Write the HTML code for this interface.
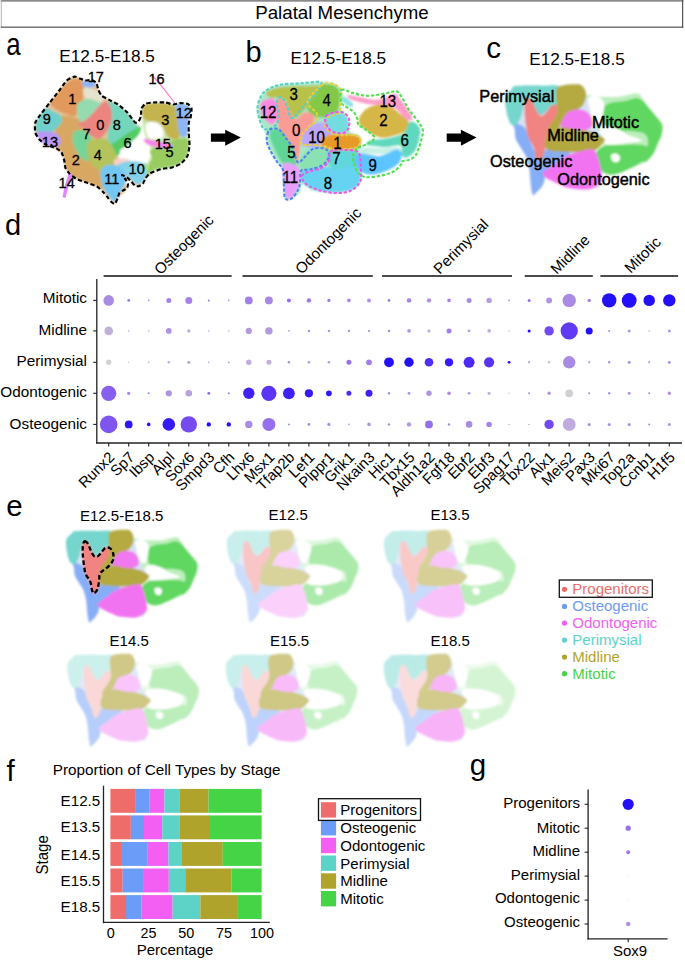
<!DOCTYPE html>
<html><head><meta charset="utf-8"><style>
html,body{margin:0;padding:0;background:#fff;}
svg{display:block;}
text{font-family:"Liberation Sans",sans-serif;}
</style></head><body>
<svg width="685" height="960" viewBox="0 0 685 960" font-family="Liberation Sans, sans-serif">
<rect x="0" y="0" width="685" height="960" fill="#fff"/>
<rect x="0.8" y="0" width="682.4" height="1.7" fill="#8a8a8a"/>
<rect x="0.8" y="0" width="0.9" height="27.6" fill="#a8a8a8"/>
<rect x="0.8" y="26.6" width="682.4" height="1.1" fill="#444"/>
<rect x="682.1" y="0" width="1.1" height="27.7" fill="#444"/>
<text x="342.0" y="19.2" font-size="18.7" text-anchor="middle" fill="#000" >Palatal Mesenchyme</text>
<text transform="translate(6.2,55.2) scale(0.85,1)" font-size="30.5" fill="#000">a</text>
<text x="245.6" y="62.0" font-size="29" text-anchor="start" fill="#000" >b</text>
<text x="486.2" y="58.3" font-size="29.5" text-anchor="start" fill="#000" >c</text>
<text x="5.0" y="235.0" font-size="29" text-anchor="start" fill="#000" >d</text>
<text x="6.2" y="516.1" font-size="29.5" text-anchor="start" fill="#000" >e</text>
<text x="6.6" y="780.7" font-size="29.5" text-anchor="start" fill="#000" >f</text>
<text x="469.8" y="774.5" font-size="29.5" text-anchor="start" fill="#000" >g</text>
<text x="59.3" y="61.5" font-size="17.2" text-anchor="start" fill="#000" >E12.5-E18.5</text>
<text x="290.5" y="64.2" font-size="17.2" text-anchor="start" fill="#000" >E12.5-E18.5</text>
<text x="529.2" y="65.2" font-size="17.2" text-anchor="start" fill="#000" >E12.5-E18.5</text>
<path d="M210.9,133.4 L225.2,133.4 L225.2,129.8 L240.9,137.6 L225.2,145.7 L225.2,141.8 L210.9,141.8 Z" fill="#000"/>
<path d="M446.7,133.4 L460.9,133.4 L460.9,129.8 L476.6,137.6 L460.9,145.7 L460.9,141.8 L446.7,141.8 Z" fill="#000"/>
<defs><filter id="bl" x="-5%" y="-5%" width="110%" height="110%"><feGaussianBlur stdDeviation="1.3"/></filter></defs>
<g filter="url(#bl)">
<path d="M58.9,91.0 C61.8,87.3 64.2,82.9 66.8,80.5 C69.4,78.1 71.6,76.6 74.7,76.6 C77.8,76.6 81.6,79.4 85.2,80.5 C88.8,81.6 94.2,81.6 96.4,83.1 C98.6,84.6 97.4,87.6 98.3,89.7 C99.2,91.8 99.8,93.9 101.6,95.6 C103.3,97.2 106.1,98.1 108.8,99.6 C111.5,101.1 114.9,102.4 117.9,104.5 C121.0,106.6 124.2,109.3 127.1,112.3 C129.9,115.3 132.8,119.8 135.0,122.4 C137.2,125.0 140.5,125.7 140.0,128.0 C139.5,130.3 134.7,133.0 132.0,136.0 C129.3,139.0 126.3,143.3 124.0,146.0 C121.7,148.7 118.5,149.7 118.0,152.0 C117.5,154.3 118.2,158.3 121.0,160.0 C123.8,161.7 130.2,161.2 135.0,162.0 C139.8,162.8 146.8,163.5 150.0,165.0 C153.2,166.5 154.8,168.8 154.0,171.0 C153.2,173.2 148.1,175.8 145.5,178.4 C142.9,181.0 140.8,185.7 138.5,186.3 C136.2,186.9 134.3,183.8 131.5,181.9 C128.7,180.0 122.6,173.9 121.9,174.9 C121.2,175.9 127.8,184.1 127.1,188.0 C126.4,191.9 119.5,195.9 117.5,198.5 C115.5,201.1 116.5,203.9 114.9,203.8 C113.3,203.7 110.9,200.6 107.9,197.7 C104.9,194.8 102.3,189.7 97.0,186.5 C91.7,183.3 81.2,181.7 76.0,178.6 C70.8,175.5 67.9,172.5 65.5,168.1 C63.1,163.7 64.8,156.2 61.5,152.3 C58.2,148.4 50.2,147.8 45.8,144.5 C41.4,141.2 37.0,136.2 35.3,132.6 C33.5,128.9 32.9,127.6 35.3,122.6 C37.7,117.6 45.8,108.1 49.7,102.8 C53.6,97.5 56.0,94.7 58.9,91.0Z" fill="#e2c49a"/>
<path d="M57.0,118.0 C59.2,114.7 64.2,115.7 68.0,116.0 C71.8,116.3 76.7,117.7 80.0,120.0 C83.3,122.3 86.0,126.3 88.0,130.0 C90.0,133.7 90.8,137.7 92.0,142.0 C93.2,146.3 93.7,151.7 95.0,156.0 C96.3,160.3 98.5,164.0 100.0,168.0 C101.5,172.0 103.5,176.5 104.0,180.0 C104.5,183.5 104.2,187.9 103.0,189.0 C101.8,190.1 99.8,187.6 97.0,186.5 C94.2,185.4 90.0,183.9 86.5,182.6 C83.0,181.3 78.8,180.1 76.0,178.6 C73.2,177.1 71.2,175.2 69.4,173.4 C67.7,171.7 66.4,170.3 65.5,168.1 C64.6,165.9 64.9,162.8 64.2,160.2 C63.5,157.6 62.8,154.3 61.5,152.3 C60.2,150.3 57.4,151.1 56.3,148.4 C55.2,145.7 54.9,141.1 55.0,136.0 C55.1,130.9 54.8,121.3 57.0,118.0Z" fill="#d8a864"/>
<path d="M35.5,124.0 C36.2,121.1 38.8,117.4 40.5,114.7 C42.2,112.0 43.9,108.6 46.0,108.0 C48.1,107.4 50.7,109.8 53.0,111.0 C55.3,112.2 58.5,113.3 60.0,115.0 C61.5,116.7 62.3,119.0 62.0,121.0 C61.7,123.0 59.7,125.2 58.0,127.0 C56.3,128.8 54.3,130.8 52.0,132.0 C49.7,133.2 46.6,134.0 44.0,134.0 C41.4,134.0 37.9,133.7 36.5,132.0 C35.1,130.3 34.8,126.9 35.5,124.0Z" fill="#70cfca"/>
<path d="M36.5,133.0 C36.8,131.2 41.1,131.6 44.0,131.5 C46.9,131.4 51.3,131.4 54.0,132.5 C56.7,133.6 59.2,135.8 60.0,138.0 C60.8,140.2 60.7,144.7 59.0,146.0 C57.3,147.3 52.8,146.6 50.0,146.0 C47.2,145.4 44.2,144.7 42.0,142.5 C39.8,140.3 36.2,134.8 36.5,133.0Z" fill="#b996f5"/>
<path d="M50.0,103.0 C49.7,100.8 53.2,99.3 55.0,97.0 C56.8,94.7 58.8,91.5 61.0,89.0 C63.2,86.5 65.7,83.8 68.0,82.0 C70.3,80.2 72.7,78.7 75.0,78.5 C77.3,78.3 80.5,79.1 82.0,81.0 C83.5,82.9 83.9,86.8 84.0,90.0 C84.1,93.2 83.2,97.0 82.5,100.0 C81.8,103.0 81.2,105.3 80.0,108.0 C78.8,110.7 77.3,115.0 75.0,116.0 C72.7,117.0 69.0,115.0 66.0,114.0 C63.0,113.0 59.7,111.8 57.0,110.0 C54.3,108.2 50.3,105.2 50.0,103.0Z" fill="#e29a5c"/>
<path d="M82.0,82.0 C82.7,81.0 86.0,80.5 88.0,80.5 C90.0,80.5 92.8,81.1 94.0,82.0 C95.2,82.9 96.3,85.1 95.5,86.0 C94.7,86.9 90.9,87.4 89.0,87.5 C87.1,87.6 85.2,87.4 84.0,86.5 C82.8,85.6 81.3,83.0 82.0,82.0Z" fill="#88b5ff"/>
<path d="M86.0,88.0 C86.7,87.7 90.3,88.4 92.0,89.0 C93.7,89.6 95.7,90.8 96.0,91.5 C96.3,92.2 95.3,93.1 94.0,93.0 C92.7,92.9 89.3,91.8 88.0,91.0 C86.7,90.2 85.3,88.3 86.0,88.0Z" fill="#73d992"/>
<path d="M84.0,88.0 C85.3,86.8 89.7,88.3 92.0,89.0 C94.3,89.7 96.0,90.5 98.0,92.0 C100.0,93.5 103.7,96.3 104.0,98.0 C104.3,99.7 102.3,101.7 100.0,102.0 C97.7,102.3 92.7,101.0 90.0,100.0 C87.3,99.0 85.0,98.0 84.0,96.0 C83.0,94.0 82.7,89.2 84.0,88.0Z" fill="#e6e2d0"/>
<path d="M78.0,104.0 C79.5,101.8 83.3,99.7 86.0,99.0 C88.7,98.3 91.7,99.3 94.0,100.0 C96.3,100.7 98.0,102.2 100.0,103.0 C102.0,103.8 105.3,103.2 106.0,105.0 C106.7,106.8 105.7,111.3 104.0,114.0 C102.3,116.7 98.7,119.3 96.0,121.0 C93.3,122.7 90.7,124.0 88.0,124.0 C85.3,124.0 81.8,123.0 80.0,121.0 C78.2,119.0 77.3,114.8 77.0,112.0 C76.7,109.2 76.5,106.2 78.0,104.0Z" fill="#94dcb0"/>
<path d="M74.0,132.0 C75.5,130.0 79.5,129.7 82.0,130.0 C84.5,130.3 87.0,132.0 89.0,134.0 C91.0,136.0 92.8,139.0 94.0,142.0 C95.2,145.0 96.3,149.2 96.0,152.0 C95.7,154.8 94.0,157.7 92.0,159.0 C90.0,160.3 86.5,161.2 84.0,160.0 C81.5,158.8 78.8,155.0 77.0,152.0 C75.2,149.0 73.5,145.3 73.0,142.0 C72.5,138.7 72.5,134.0 74.0,132.0Z" fill="#74d49a"/>
<path d="M107.0,101.0 C107.7,99.5 111.5,101.8 114.0,103.0 C116.5,104.2 119.3,105.8 122.0,108.0 C124.7,110.2 127.7,113.3 130.0,116.0 C132.3,118.7 134.3,121.8 136.0,124.0 C137.7,126.2 140.3,127.3 140.0,129.0 C139.7,130.7 136.7,132.2 134.0,134.0 C131.3,135.8 127.3,138.0 124.0,140.0 C120.7,142.0 116.7,145.7 114.0,146.0 C111.3,146.3 109.0,145.0 108.0,142.0 C107.0,139.0 107.7,133.0 108.0,128.0 C108.3,123.0 110.2,116.5 110.0,112.0 C109.8,107.5 106.3,102.5 107.0,101.0Z" fill="#74d6bc"/>
<path d="M106.7,101.5 C108.6,102.3 110.6,106.9 111.4,110.0 C112.2,113.1 112.3,116.5 111.6,120.0 C110.9,123.5 109.1,127.8 107.0,131.0 C104.9,134.2 101.7,138.2 99.0,139.0 C96.3,139.8 93.4,137.2 91.0,135.5 C88.6,133.8 86.8,130.4 84.5,128.5 C82.2,126.6 77.4,125.3 77.5,124.0 C77.6,122.7 82.4,122.3 85.0,120.5 C87.6,118.7 90.5,115.6 93.0,113.0 C95.5,110.4 97.7,106.9 100.0,105.0 C102.3,103.1 104.8,100.7 106.7,101.5Z" fill="#ec8480"/>
<path d="M110.0,146.0 C111.3,143.5 115.0,142.2 118.0,140.0 C121.0,137.8 125.0,134.9 128.0,133.0 C131.0,131.1 133.8,129.5 136.0,128.5 C138.2,127.5 140.5,126.1 141.0,127.0 C141.5,127.9 140.5,131.3 139.0,134.0 C137.5,136.7 134.5,140.2 132.0,143.0 C129.5,145.8 126.7,148.8 124.0,151.0 C121.3,153.2 118.3,155.3 116.0,156.0 C113.7,156.7 111.0,156.7 110.0,155.0 C109.0,153.3 108.7,148.5 110.0,146.0Z" fill="#52cc64"/>
<path d="M88.0,142.0 C89.5,139.8 93.0,139.5 96.0,139.0 C99.0,138.5 103.3,137.8 106.0,139.0 C108.7,140.2 110.3,143.3 112.0,146.0 C113.7,148.7 115.7,152.0 116.0,155.0 C116.3,158.0 115.7,161.5 114.0,164.0 C112.3,166.5 108.8,169.2 106.0,170.0 C103.2,170.8 99.7,170.3 97.0,169.0 C94.3,167.7 91.7,164.8 90.0,162.0 C88.3,159.2 87.3,155.3 87.0,152.0 C86.7,148.7 86.5,144.2 88.0,142.0Z" fill="#b6c25c"/>
<path d="M120.0,151.0 C120.7,148.3 125.3,147.2 128.0,145.0 C130.7,142.8 133.7,139.8 136.0,138.0 C138.3,136.2 140.3,133.3 142.0,134.0 C143.7,134.7 145.0,139.0 146.0,142.0 C147.0,145.0 148.0,148.7 148.0,152.0 C148.0,155.3 148.0,160.5 146.0,162.0 C144.0,163.5 139.7,161.2 136.0,161.0 C132.3,160.8 126.7,162.7 124.0,161.0 C121.3,159.3 119.3,153.7 120.0,151.0Z" fill="#ffffff"/>
<path d="M114.0,160.5 C115.0,159.4 119.3,158.6 122.0,158.5 C124.7,158.4 129.3,159.1 130.0,160.0 C130.7,160.9 128.3,163.2 126.0,164.0 C123.7,164.8 118.0,165.6 116.0,165.0 C114.0,164.4 113.0,161.6 114.0,160.5Z" fill="#fdcfcc"/>
<path d="M117.0,166.0 C117.0,164.2 121.2,162.8 124.0,162.0 C126.8,161.2 130.7,160.8 134.0,161.0 C137.3,161.2 141.0,162.2 144.0,163.0 C147.0,163.8 150.5,164.6 152.0,166.0 C153.5,167.4 153.8,170.0 153.0,171.5 C152.2,173.0 148.7,173.2 147.0,175.0 C145.3,176.8 144.7,180.5 143.0,182.0 C141.3,183.5 139.0,184.3 137.0,184.0 C135.0,183.7 133.2,181.8 131.0,180.0 C128.8,178.2 126.3,175.3 124.0,173.0 C121.7,170.7 117.0,167.8 117.0,166.0Z" fill="#86d2ea"/>
<path d="M101.0,170.0 C102.2,167.5 105.3,165.7 108.0,165.0 C110.7,164.3 114.3,164.8 117.0,166.0 C119.7,167.2 122.5,169.7 124.0,172.0 C125.5,174.3 126.3,177.2 126.0,180.0 C125.7,182.8 123.3,186.3 122.0,189.0 C120.7,191.7 119.2,193.8 118.0,196.0 C116.8,198.2 116.5,202.0 115.0,202.0 C113.5,202.0 110.8,198.2 109.0,196.0 C107.2,193.8 105.3,191.7 104.0,189.0 C102.7,186.3 101.5,183.2 101.0,180.0 C100.5,176.8 99.8,172.5 101.0,170.0Z" fill="#72c6f2"/>
<path d="M143.0,166.0 C143.7,164.5 149.5,163.3 152.0,163.0 C154.5,162.7 157.7,163.0 158.0,164.0 C158.3,165.0 155.7,167.7 154.0,169.0 C152.3,170.3 149.8,172.5 148.0,172.0 C146.2,171.5 142.3,167.5 143.0,166.0Z" fill="#a6d573"/>
<path d="M142.0,110.0 C142.5,106.3 144.2,105.2 146.0,104.0 C147.8,102.8 149.8,102.8 153.0,102.5 C156.2,102.2 161.7,102.2 165.0,102.5 C168.3,102.8 170.5,104.3 173.0,104.5 C175.5,104.7 177.6,103.6 180.0,103.5 C182.4,103.4 185.8,103.1 187.5,104.0 C189.2,104.9 190.2,106.7 190.5,109.0 C190.8,111.3 189.8,114.5 189.5,118.0 C189.2,121.5 188.6,125.5 188.5,130.0 C188.4,134.5 189.2,140.7 189.0,145.0 C188.8,149.3 188.3,152.9 187.0,156.0 C185.7,159.1 183.5,161.6 181.0,163.5 C178.5,165.4 175.2,166.6 172.0,167.5 C168.8,168.4 165.2,168.2 162.0,168.8 C158.8,169.4 155.5,170.0 153.0,171.0 C150.5,172.0 148.0,176.0 147.0,175.0 C146.0,174.0 146.3,168.3 147.0,165.0 C147.7,161.7 150.5,158.2 151.0,155.0 C151.5,151.8 150.8,148.8 150.0,146.0 C149.2,143.2 147.2,141.3 146.0,138.0 C144.8,134.7 143.7,130.7 143.0,126.0 C142.3,121.3 141.5,113.7 142.0,110.0Z" fill="#c7e4a6"/>
<path d="M143.0,107.0 C144.2,104.8 146.8,104.2 150.0,103.5 C153.2,102.8 158.3,102.8 162.0,103.0 C165.7,103.2 169.5,103.8 172.0,105.0 C174.5,106.2 175.8,107.5 177.0,110.0 C178.2,112.5 178.5,116.7 179.0,120.0 C179.5,123.3 180.0,127.0 180.0,130.0 C180.0,133.0 180.3,136.5 179.0,138.0 C177.7,139.5 174.2,139.7 172.0,139.0 C169.8,138.3 167.5,136.0 166.0,134.0 C164.5,132.0 164.5,129.0 163.0,127.0 C161.5,125.0 159.5,123.0 157.0,122.0 C154.5,121.0 150.3,121.8 148.0,121.0 C145.7,120.2 143.8,119.3 143.0,117.0 C142.2,114.7 141.8,109.2 143.0,107.0Z" fill="#c4b450"/>
<path d="M146.0,124.0 C147.0,122.5 149.8,122.0 152.0,122.0 C154.2,122.0 157.2,122.7 159.0,124.0 C160.8,125.3 162.3,127.8 163.0,130.0 C163.7,132.2 164.2,135.5 163.0,137.0 C161.8,138.5 158.3,138.8 156.0,139.0 C153.7,139.2 150.7,139.3 149.0,138.0 C147.3,136.7 146.5,133.3 146.0,131.0 C145.5,128.7 145.0,125.5 146.0,124.0Z" fill="#ffffff"/>
<path d="M176.0,105.0 C177.0,103.0 180.8,103.6 183.0,104.0 C185.2,104.4 188.4,105.5 189.5,107.5 C190.6,109.5 189.8,112.9 189.5,116.0 C189.2,119.1 188.4,122.8 188.0,126.0 C187.6,129.2 188.0,133.2 187.0,135.0 C186.0,136.8 183.4,137.8 182.0,137.0 C180.6,136.2 179.3,133.5 178.5,130.0 C177.7,126.5 177.4,120.2 177.0,116.0 C176.6,111.8 175.0,107.0 176.0,105.0Z" fill="#8cb6f6"/>
<path d="M150.0,151.0 C151.0,149.0 155.0,147.5 158.0,146.0 C161.0,144.5 164.7,143.2 168.0,142.0 C171.3,140.8 174.7,139.5 178.0,139.0 C181.3,138.5 186.2,137.5 188.0,139.0 C189.8,140.5 189.3,145.0 189.0,148.0 C188.7,151.0 187.5,154.5 186.0,157.0 C184.5,159.5 182.7,161.3 180.0,163.0 C177.3,164.7 173.3,166.1 170.0,167.0 C166.7,167.9 163.0,167.8 160.0,168.5 C157.0,169.2 154.2,169.9 152.0,171.0 C149.8,172.1 147.5,176.0 147.0,175.0 C146.5,174.0 148.2,167.8 149.0,165.0 C149.8,162.2 151.8,160.3 152.0,158.0 C152.2,155.7 149.0,153.0 150.0,151.0Z" fill="#98cc60"/>
<path d="M144.0,139.0 C144.9,138.5 148.5,139.6 151.0,140.0 C153.5,140.4 156.3,141.1 159.0,141.5 C161.7,141.9 164.8,141.9 167.0,142.5 C169.2,143.1 171.5,144.0 172.0,145.0 C172.5,146.0 171.8,148.1 170.0,148.5 C168.2,148.9 164.0,147.9 161.0,147.5 C158.0,147.1 154.6,146.8 152.0,146.0 C149.4,145.2 146.8,144.2 145.5,143.0 C144.2,141.8 143.1,139.5 144.0,139.0Z" fill="#f783e9"/>
</g>
<path d="M152,75 C158,82 165,90 171,98 L176,105" fill="none" stroke="#ff79cc" stroke-width="1.2"/>
<path d="M69,172 L72.5,174 L68,188 L65.5,198 L62.5,197 L64.5,187 Z" fill="#e087fc"/>
<path d="M66.8,80.5 C68.4,79.1 73.4,76.8 74.7,76.6 C76.0,76.4 78.9,78.1 79.9,78.5 C81.0,78.9 84.0,80.4 85.2,80.5 C86.4,80.6 90.7,79.6 91.8,79.9 C92.9,80.2 95.8,82.1 96.4,83.1 C97.1,84.1 97.8,88.5 98.3,89.7 C98.8,91.0 100.5,94.6 101.6,95.6 C102.6,96.6 107.2,98.7 108.8,99.6 C110.4,100.5 116.1,103.2 117.9,104.5 C119.7,105.8 125.4,110.5 127.1,112.3 C128.8,114.1 133.8,121.5 135.0,122.4 C136.2,123.3 138.0,121.8 138.6,121.2 C139.2,120.6 140.6,117.6 140.9,116.3 C141.2,115.0 141.0,109.7 141.5,108.4 C142.0,107.2 144.3,104.4 145.5,103.8 C146.7,103.2 151.4,102.6 153.4,102.5 C155.4,102.4 163.2,102.3 165.2,102.5 C167.2,102.7 171.7,104.4 173.1,104.5 C174.5,104.6 178.2,103.2 179.6,103.1 C181.0,103.0 186.3,103.3 187.5,103.8 C188.7,104.3 191.2,107.2 191.5,108.4 C191.8,109.7 191.1,114.9 190.8,116.3 C190.5,117.7 189.0,121.1 188.8,122.8 C188.6,124.5 188.7,131.2 188.8,133.4 C188.9,135.6 189.6,143.0 189.5,145.2 C189.4,147.4 188.3,153.9 187.5,155.7 C186.7,157.5 182.6,162.4 181.0,163.6 C179.4,164.8 173.6,167.0 171.8,167.5 C170.0,168.0 164.3,168.4 162.6,168.8 C160.8,169.2 155.7,170.9 154.3,171.4 C152.9,171.9 149.9,173.3 149.0,174.0 C148.1,174.7 146.1,177.4 145.5,178.4 C144.9,179.4 143.6,182.8 142.9,183.6 C142.2,184.4 139.3,186.1 138.5,186.3 C137.7,186.5 135.7,185.8 135.0,185.4 C134.3,185.0 132.3,182.7 131.5,181.9 C130.7,181.1 128.1,178.2 127.1,177.5 C126.1,176.8 122.1,174.7 121.9,174.9 C121.7,175.1 124.8,178.4 125.4,179.3 C126.0,180.2 127.8,182.7 128.0,183.6 C128.2,184.5 127.6,187.3 127.1,188.0 C126.6,188.7 123.6,190.1 122.8,190.6 C122.0,191.1 119.8,192.5 119.3,193.3 C118.8,194.1 117.9,197.4 117.5,198.5 C117.1,199.6 115.5,203.5 114.9,203.8 C114.3,204.2 112.1,202.6 111.4,202.0 C110.7,201.4 108.7,198.7 107.9,197.7 C107.1,196.7 104.6,193.5 103.5,192.4 C102.4,191.3 98.7,187.5 97.0,186.5 C95.3,185.5 88.6,183.4 86.5,182.6 C84.4,181.8 77.7,179.5 76.0,178.6 C74.3,177.7 70.5,174.5 69.4,173.4 C68.4,172.3 66.0,169.4 65.5,168.1 C65.0,166.8 64.6,161.8 64.2,160.2 C63.8,158.6 62.3,153.5 61.5,152.3 C60.7,151.1 57.9,149.2 56.3,148.4 C54.7,147.6 47.5,145.4 45.8,144.5 C44.1,143.6 40.2,140.4 39.2,139.2 C38.2,138.0 35.7,134.3 35.3,132.6 C34.9,130.9 34.8,124.4 35.3,122.6 C35.8,120.8 39.1,116.7 40.5,114.7 C41.9,112.7 47.9,105.2 49.7,102.8 C51.5,100.4 57.2,93.2 58.9,91.0 C60.6,88.8 65.2,81.9 66.8,80.5Z" fill="none" stroke="#000" stroke-width="2.15" stroke-dasharray="4.2 2.5"/>
<text transform="translate(95.8,81.7) scale(0.95,1)" font-size="15.3" text-anchor="middle" stroke="#000" stroke-width="0.3">17</text>
<text transform="translate(156.6,84.2) scale(0.95,1)" font-size="15.3" text-anchor="middle" stroke="#000" stroke-width="0.3">16</text>
<text transform="translate(72.2,104.0) scale(0.95,1)" font-size="15.3" text-anchor="middle" stroke="#000" stroke-width="0.3">1</text>
<text transform="translate(46.9,124.4) scale(0.95,1)" font-size="15.3" text-anchor="middle" stroke="#000" stroke-width="0.3">9</text>
<text transform="translate(100.2,129.8) scale(0.95,1)" font-size="15.3" text-anchor="middle" stroke="#000" stroke-width="0.3">0</text>
<text transform="translate(116.8,129.8) scale(0.95,1)" font-size="15.3" text-anchor="middle" stroke="#000" stroke-width="0.3">8</text>
<text transform="translate(165.2,125.1) scale(0.95,1)" font-size="15.3" text-anchor="middle" stroke="#000" stroke-width="0.3">3</text>
<text transform="translate(183.8,117.7) scale(0.95,1)" font-size="15.3" text-anchor="middle" stroke="#000" stroke-width="0.3">12</text>
<text transform="translate(86.6,138.8) scale(0.95,1)" font-size="15.3" text-anchor="middle" stroke="#000" stroke-width="0.3">7</text>
<text transform="translate(49.9,146.7) scale(0.95,1)" font-size="15.3" text-anchor="middle" stroke="#000" stroke-width="0.3">13</text>
<text transform="translate(127.5,147.5) scale(0.95,1)" font-size="15.3" text-anchor="middle" stroke="#000" stroke-width="0.3">6</text>
<text transform="translate(162.8,148.7) scale(0.95,1)" font-size="15.3" text-anchor="middle" stroke="#000" stroke-width="0.3">15</text>
<text transform="translate(169.5,156.6) scale(0.95,1)" font-size="15.3" text-anchor="middle" stroke="#000" stroke-width="0.3">5</text>
<text transform="translate(97.7,160.4) scale(0.95,1)" font-size="15.3" text-anchor="middle" stroke="#000" stroke-width="0.3">4</text>
<text transform="translate(75.9,165.3) scale(0.95,1)" font-size="15.3" text-anchor="middle" stroke="#000" stroke-width="0.3">2</text>
<text transform="translate(136.7,174.0) scale(0.95,1)" font-size="15.3" text-anchor="middle" stroke="#000" stroke-width="0.3">10</text>
<text transform="translate(111.9,183.9) scale(0.95,1)" font-size="15.3" text-anchor="middle" stroke="#000" stroke-width="0.3">11</text>
<text transform="translate(66.7,188.4) scale(0.95,1)" font-size="15.3" text-anchor="middle" stroke="#000" stroke-width="0.3">14</text>
<g filter="url(#bl)">
<path d="M261.6,95.1 C263.6,92.0 266.2,90.2 269.5,88.5 C272.8,86.8 276.1,85.5 281.3,84.6 C286.6,83.7 294.6,83.8 301.0,83.3 C307.4,82.8 314.4,82.0 319.4,81.9 C324.4,81.9 327.7,82.2 331.0,83.0 C334.3,83.8 337.2,84.8 339.0,87.0 C340.8,89.2 341.2,92.5 341.5,96.0 C341.8,99.5 339.8,105.0 340.5,108.0 C341.2,111.0 344.6,111.3 346.0,114.0 C347.4,116.7 348.3,121.0 349.0,124.0 C349.7,127.0 348.2,130.0 350.0,132.0 C351.8,134.0 358.2,133.7 360.0,136.0 C361.8,138.3 361.0,142.3 361.0,146.0 C361.0,149.7 360.0,153.0 360.0,158.0 C360.0,163.0 361.7,171.2 361.0,176.0 C360.3,180.8 358.7,184.3 356.0,187.0 C353.3,189.7 349.3,191.0 345.0,192.0 C340.7,193.0 335.5,193.3 330.0,193.0 C324.5,192.7 316.7,191.5 312.0,190.0 C307.3,188.5 304.0,183.7 302.0,184.0 C300.0,184.3 301.7,189.6 300.0,192.0 C298.3,194.4 294.5,197.4 292.0,198.5 C289.5,199.6 286.4,200.8 285.0,198.5 C283.6,196.2 283.8,189.8 283.5,185.0 C283.2,180.2 284.2,174.2 283.0,170.0 C281.8,165.8 278.5,164.0 276.0,160.0 C273.5,156.0 269.7,150.3 268.0,146.0 C266.3,141.7 267.5,138.7 266.0,134.0 C264.5,129.3 260.4,122.5 259.0,118.0 C257.6,113.5 257.2,110.7 257.6,106.9 C258.0,103.1 259.6,98.2 261.6,95.1Z" fill="#a6e8c4"/>
<path d="M266.8,95.1 C266.2,94.0 265.1,92.4 267.5,91.1 C269.9,89.8 274.6,88.1 281.3,87.2 C288.0,86.3 301.0,86.0 307.6,85.9 C314.2,85.8 319.0,85.0 320.7,86.5 C322.4,88.0 319.8,92.3 318.0,95.1 C316.2,97.8 312.8,100.2 310.2,103.0 C307.6,105.8 304.9,109.8 302.3,112.2 C299.7,114.6 296.6,117.6 294.4,117.4 C292.2,117.2 290.7,113.7 289.2,110.8 C287.7,107.9 287.2,102.5 285.2,100.3 C283.2,98.1 279.7,98.1 277.3,97.7 C274.9,97.3 272.6,98.1 270.8,97.7 C269.1,97.3 267.4,96.2 266.8,95.1Z" fill="#b8c24c"/>
<path d="M260.9,103.0 C261.8,101.4 263.4,100.4 265.5,99.7 C267.6,99.0 271.3,97.8 273.4,99.0 C275.5,100.2 277.4,103.8 278.0,106.9 C278.6,110.0 278.1,114.6 277.3,117.4 C276.5,120.2 274.9,123.1 273.4,124.0 C271.9,124.9 269.9,124.0 268.1,122.7 C266.4,121.4 264.2,118.3 262.9,116.1 C261.6,113.9 260.6,111.7 260.3,109.5 C260.0,107.3 260.0,104.6 260.9,103.0Z" fill="#fc88e1"/>
<path d="M320.7,85.2 C323.1,83.7 328.3,84.0 331.2,84.6 C334.1,85.1 336.4,86.8 337.8,88.5 C339.2,90.2 339.5,92.0 339.7,95.1 C339.9,98.2 340.1,103.6 339.1,106.9 C338.1,110.2 336.4,113.0 333.8,114.8 C331.2,116.5 326.6,117.2 323.3,117.4 C320.0,117.6 316.7,117.4 314.1,116.1 C311.5,114.8 308.2,111.9 307.6,109.5 C307.0,107.1 308.7,104.2 310.2,101.6 C311.7,99.0 315.1,96.5 316.8,93.8 C318.6,91.1 318.3,86.7 320.7,85.2Z" fill="#83c947"/>
<path d="M325.0,116.0 C326.6,114.7 330.8,113.2 334.0,113.0 C337.2,112.8 341.6,113.7 344.0,115.0 C346.4,116.3 347.8,118.7 348.5,121.0 C349.2,123.3 349.1,127.0 348.0,129.0 C346.9,131.0 344.7,132.3 342.0,133.0 C339.3,133.7 334.7,133.8 332.0,133.0 C329.3,132.2 327.2,130.0 326.0,128.0 C324.8,126.0 324.7,123.0 324.5,121.0 C324.3,119.0 323.4,117.3 325.0,116.0Z" fill="#73dcdf"/>
<path d="M278.0,99.0 C279.3,95.7 283.1,99.4 285.2,101.6 C287.3,103.8 288.8,109.3 290.5,112.2 C292.2,115.1 293.3,118.7 295.7,118.7 C298.1,118.7 302.0,112.9 304.9,112.2 C307.8,111.5 311.3,113.3 312.8,114.8 C314.3,116.3 315.4,118.3 314.1,121.4 C312.8,124.5 307.1,130.1 304.9,133.2 C302.7,136.3 301.9,136.7 301.0,139.8 C300.1,142.9 300.3,147.8 299.7,151.6 C299.1,155.4 298.6,160.8 297.5,162.5 C296.4,164.2 294.9,164.8 293.1,162.1 C291.3,159.4 288.5,151.1 286.5,146.3 C284.5,141.5 282.8,137.3 281.3,133.2 C279.8,129.0 277.9,127.1 277.3,121.4 C276.8,115.7 276.7,102.3 278.0,99.0Z" fill="#fa9c96"/>
<path d="M270.8,130.6 C272.3,129.5 276.0,128.1 278.6,129.2 C281.2,130.3 284.1,133.8 286.5,137.1 C288.9,140.4 291.6,145.3 293.1,149.0 C294.6,152.7 295.2,156.3 295.7,159.5 C296.2,162.7 297.4,166.6 296.0,168.0 C294.6,169.4 289.7,169.4 287.0,168.0 C284.3,166.6 282.3,163.1 280.0,159.5 C277.7,155.9 275.1,150.2 273.4,146.3 C271.6,142.4 269.9,138.4 269.5,135.8 C269.1,133.2 269.3,131.7 270.8,130.6Z" fill="#61d596"/>
<path d="M302.3,138.4 C303.2,135.8 305.2,131.8 307.6,129.2 C310.0,126.6 313.7,123.6 316.8,122.7 C319.9,121.8 323.6,122.2 326.0,124.0 C328.4,125.8 330.8,129.9 331.2,133.2 C331.6,136.5 330.4,141.3 328.6,143.7 C326.9,146.1 323.8,146.9 320.7,147.6 C317.6,148.2 313.3,148.0 310.2,147.6 C307.1,147.2 303.6,146.5 302.3,145.0 C301.0,143.5 301.4,141.0 302.3,138.4Z" fill="#bca7ff"/>
<path d="M322.0,138.0 C323.5,136.8 326.7,135.2 330.0,134.5 C333.3,133.8 338.3,134.0 342.0,134.0 C345.7,134.0 349.2,134.0 352.0,134.5 C354.8,135.0 357.5,135.8 359.0,137.0 C360.5,138.2 361.3,140.2 361.0,142.0 C360.7,143.8 359.5,146.7 357.0,148.0 C354.5,149.3 350.2,149.7 346.0,150.0 C341.8,150.3 335.8,150.5 332.0,150.0 C328.2,149.5 324.8,148.3 323.0,147.0 C321.2,145.7 321.2,143.5 321.0,142.0 C320.8,140.5 320.5,139.2 322.0,138.0Z" fill="#e79b26"/>
<path d="M301.0,158.0 C302.2,155.7 303.8,152.6 306.0,151.0 C308.2,149.4 311.0,148.8 314.0,148.5 C317.0,148.2 321.5,148.2 324.0,149.0 C326.5,149.8 328.3,151.2 329.0,153.0 C329.7,154.8 329.2,157.8 328.0,160.0 C326.8,162.2 324.7,164.4 322.0,166.0 C319.3,167.6 315.2,168.8 312.0,169.5 C308.8,170.2 305.2,170.8 303.0,170.0 C300.8,169.2 299.3,167.0 299.0,165.0 C298.7,163.0 299.8,160.3 301.0,158.0Z" fill="#8ce1b3"/>
<path d="M328.0,152.0 C329.3,149.8 332.7,150.2 336.0,150.0 C339.3,149.8 344.3,150.2 348.0,150.5 C351.7,150.8 356.0,150.4 358.0,152.0 C360.0,153.6 360.3,157.5 360.0,160.0 C359.7,162.5 358.3,165.2 356.0,167.0 C353.7,168.8 349.7,170.5 346.0,171.0 C342.3,171.5 337.0,171.3 334.0,170.0 C331.0,168.7 329.0,166.0 328.0,163.0 C327.0,160.0 326.7,154.2 328.0,152.0Z" fill="#61d7da"/>
<path d="M283.0,164.0 C284.5,162.3 289.3,163.3 292.0,164.0 C294.7,164.7 297.7,165.7 299.0,168.0 C300.3,170.3 300.2,174.7 300.0,178.0 C299.8,181.3 299.3,184.8 298.0,188.0 C296.7,191.2 294.0,195.9 292.0,197.5 C290.0,199.1 287.3,199.2 286.0,197.5 C284.7,195.8 284.5,190.9 284.0,187.0 C283.5,183.1 283.2,177.8 283.0,174.0 C282.8,170.2 281.5,165.7 283.0,164.0Z" fill="#e99efa"/>
<path d="M301.0,172.0 C302.3,169.8 307.2,169.8 311.0,169.0 C314.8,168.2 319.5,167.0 324.0,167.0 C328.5,167.0 333.7,169.0 338.0,169.0 C342.3,169.0 346.5,166.8 350.0,167.0 C353.5,167.2 357.2,167.8 359.0,170.0 C360.8,172.2 361.2,177.0 360.5,180.0 C359.8,183.0 357.8,186.1 355.0,188.0 C352.2,189.9 348.5,190.8 344.0,191.5 C339.5,192.2 333.2,192.4 328.0,192.0 C322.8,191.6 317.2,190.7 313.0,189.0 C308.8,187.3 305.0,184.8 303.0,182.0 C301.0,179.2 299.7,174.2 301.0,172.0Z" fill="#66d3f3"/>
<path d="M341.5,96.0 C342.4,95.5 345.1,96.7 347.0,98.0 C348.9,99.3 352.3,102.5 353.0,104.0 C353.7,105.5 352.3,107.0 351.0,107.0 C349.7,107.0 346.6,105.0 345.0,104.0 C343.4,103.0 342.1,102.3 341.5,101.0 C340.9,99.7 340.6,96.5 341.5,96.0Z" fill="#8ce2e4"/>
<path d="M347.9,95.1 C349.6,94.9 355.5,96.3 359.7,97.1 C363.9,97.9 368.9,99.5 372.8,99.7 C376.8,99.9 379.7,99.4 383.4,98.4 C387.1,97.4 392.4,93.6 395.2,93.8 C398.0,94.0 398.2,97.0 400.4,99.7 C402.6,102.4 406.3,106.9 408.3,110.2 C410.3,113.5 412.7,117.9 412.3,119.4 C411.9,120.9 408.1,120.9 405.7,119.4 C403.3,117.9 400.4,112.4 397.8,110.2 C395.2,108.0 393.0,107.2 389.9,106.3 C386.8,105.4 383.3,105.4 379.4,105.0 C375.5,104.6 370.2,104.4 366.3,103.7 C362.4,103.0 358.7,101.9 355.8,101.0 C352.9,100.1 350.5,99.4 349.2,98.4 C347.9,97.4 346.1,95.3 347.9,95.1Z" fill="#ff9cc6"/>
<path d="M359.7,116.8 C360.8,114.2 363.4,110.9 366.3,108.9 C369.2,106.9 372.9,105.4 376.8,105.0 C380.7,104.6 386.0,104.8 389.9,106.3 C393.8,107.8 397.1,111.3 400.4,114.2 C403.7,117.1 408.7,120.6 409.6,123.4 C410.5,126.2 408.1,129.2 405.7,131.2 C403.3,133.2 398.9,134.1 395.2,135.2 C391.5,136.3 386.9,137.8 383.4,137.8 C379.9,137.8 377.0,136.5 374.2,135.2 C371.4,133.9 368.7,131.7 366.3,129.9 C363.9,128.2 360.8,126.9 359.7,124.7 C358.6,122.5 358.6,119.4 359.7,116.8Z" fill="#d5b647"/>
<path d="M409.6,122.0 C411.6,120.5 414.4,122.1 416.2,123.4 C417.9,124.7 419.7,127.1 420.1,129.9 C420.5,132.7 419.7,136.9 418.8,140.4 C417.9,143.9 416.9,148.2 414.9,151.0 C412.9,153.8 409.2,156.8 407.0,157.5 C404.8,158.2 402.9,156.9 401.8,154.9 C400.7,152.9 403.0,147.0 400.4,145.7 C397.8,144.4 390.6,147.0 386.0,147.0 C381.4,147.0 376.1,146.1 372.8,145.7 C369.5,145.3 366.7,145.3 366.3,144.4 C365.9,143.5 367.4,141.3 370.2,140.4 C373.0,139.5 379.2,139.8 383.4,139.1 C387.6,138.4 391.7,137.6 395.2,136.5 C398.7,135.4 402.0,135.0 404.4,132.6 C406.8,130.2 407.6,123.5 409.6,122.0Z" fill="#61d8bd"/>
<path d="M358.0,150.0 C359.0,148.8 362.3,147.3 366.0,147.0 C369.7,146.7 375.0,148.0 380.0,148.0 C385.0,148.0 392.3,146.7 396.0,147.0 C399.7,147.3 401.5,149.0 402.0,150.0 C402.5,151.0 401.7,152.3 399.0,153.0 C396.3,153.7 390.8,153.8 386.0,154.0 C381.2,154.2 374.3,154.0 370.0,154.0 C365.7,154.0 362.0,154.7 360.0,154.0 C358.0,153.3 357.0,151.2 358.0,150.0Z" fill="#c7f1e7"/>
<path d="M354.5,157.5 C355.6,155.8 358.4,154.0 361.0,153.6 C363.6,153.2 367.1,154.5 370.2,154.9 C373.3,155.3 376.5,156.4 379.4,156.2 C382.2,156.0 384.4,154.7 387.3,153.6 C390.2,152.5 394.1,149.6 396.5,149.6 C398.9,149.6 401.4,151.4 401.8,153.6 C402.2,155.8 401.1,160.2 399.1,162.8 C397.1,165.4 393.2,167.6 389.9,169.3 C386.6,171.1 382.9,172.4 379.4,173.3 C375.9,174.2 372.2,175.0 368.9,174.6 C365.6,174.2 362.1,172.4 359.7,170.7 C357.3,168.9 355.4,166.3 354.5,164.1 C353.6,161.9 353.4,159.2 354.5,157.5Z" fill="#5dc4ff"/>
</g>
<path d="M262.9,127.9 C261.6,125.9 259.9,120.9 259.0,117.4 C258.1,113.9 257.2,110.6 257.6,106.9 C258.0,103.2 259.6,98.2 261.6,95.1 C263.6,92.0 266.2,90.2 269.5,88.5 C272.8,86.8 276.1,85.5 281.3,84.6 C286.6,83.7 294.6,83.8 301.0,83.3 C307.4,82.8 316.1,81.5 319.4,81.9 C322.7,82.3 321.4,83.9 320.7,85.9 C320.0,87.9 317.6,91.2 315.4,93.8 C313.2,96.4 310.0,99.0 307.6,101.6 C305.2,104.2 303.0,107.1 301.0,109.5 C299.0,111.9 297.4,114.8 295.7,116.1 C293.9,117.4 291.8,118.7 290.5,117.4 C289.2,116.1 289.0,111.3 287.8,108.2 C286.6,105.1 284.7,100.8 283.2,99.0 C281.7,97.2 279.7,96.8 278.6,97.7 C277.5,98.6 276.7,101.9 276.7,104.3 C276.7,106.7 278.5,109.1 278.6,112.2 C278.7,115.3 278.4,120.1 277.3,122.7 C276.2,125.3 273.9,126.8 272.1,127.9 C270.4,129.0 268.3,129.2 266.8,129.2 C265.3,129.2 264.2,129.9 262.9,127.9Z" fill="none" stroke="#58cfc6" stroke-width="2.1" stroke-dasharray="3.3 1.8"/>
<path d="M320.7,85.9 C322.0,85.0 323.6,83.5 326.0,83.3 C328.4,83.1 332.6,83.3 335.1,84.6 C337.6,85.9 340.2,87.8 341.1,91.1 C342.0,94.4 340.7,100.8 340.4,104.3 C340.1,107.8 340.6,110.2 339.1,112.2 C337.6,114.2 333.4,115.0 331.2,116.1 C329.0,117.2 327.1,117.2 326.0,118.7 C324.9,120.2 324.2,123.3 324.6,125.3 C325.0,127.3 326.6,129.1 328.6,130.6 C330.6,132.1 333.8,133.7 336.5,134.5 C339.2,135.3 341.8,135.2 345.0,135.3 C348.2,135.5 353.4,134.6 356.0,135.4 C358.6,136.2 360.2,138.0 360.4,140.0 C360.6,142.0 359.6,146.0 357.0,147.5 C354.4,149.0 348.9,148.8 345.0,149.0 C341.1,149.2 337.2,149.4 333.8,149.0 C330.4,148.6 327.7,147.0 324.6,146.3 C321.5,145.6 318.2,145.2 315.4,145.0 C312.6,144.8 310.0,145.2 307.6,145.0 C305.2,144.8 302.1,145.2 301.0,143.7 C299.9,142.2 299.9,138.4 301.0,135.8 C302.1,133.2 305.2,130.3 307.6,127.9 C310.0,125.5 313.9,123.8 315.4,121.4 C316.9,119.0 317.7,115.9 316.8,113.5 C315.9,111.1 311.7,108.9 310.2,106.9 C308.7,104.9 307.2,103.8 307.6,101.6 C308.0,99.4 311.1,96.0 312.8,93.8 C314.5,91.6 316.7,89.8 318.0,88.5 C319.3,87.2 319.4,86.8 320.7,85.9Z" fill="none" stroke="#e6d040" stroke-width="2.1" stroke-dasharray="3.3 1.8"/>
<path d="M268.1,131.9 C267.4,133.9 266.4,137.8 266.8,141.1 C267.2,144.4 269.1,148.1 270.8,151.6 C272.6,155.1 275.3,159.0 277.3,162.1 C279.3,165.2 281.9,166.2 283.0,170.0 C284.1,173.8 283.5,180.5 283.9,185.2 C284.3,189.9 283.9,196.1 285.2,198.3 C286.5,200.5 289.6,199.8 291.8,198.3 C294.0,196.8 297.0,192.2 298.4,189.1 C299.8,186.0 299.9,183.0 300.3,179.9 C300.7,176.8 299.4,172.4 301.0,170.7 C302.6,168.9 306.7,170.3 310.2,169.4 C313.7,168.5 318.9,167.4 322.0,165.5 C325.1,163.6 327.6,160.3 328.6,158.0 C329.6,155.7 329.1,153.2 328.2,151.6 C327.3,150.0 325.9,148.7 323.3,148.3 C320.7,147.9 315.9,147.6 312.8,149.0 C309.7,150.4 307.3,154.5 304.9,156.8 C302.5,159.1 300.1,163.0 298.4,162.6 C296.6,162.2 295.5,156.9 294.4,154.2 C293.3,151.5 293.3,149.2 291.8,146.3 C290.3,143.5 287.4,139.9 285.2,137.1 C283.0,134.2 281.0,130.5 278.6,129.2 C276.2,127.9 272.6,128.8 270.8,129.2 C269.1,129.6 268.8,129.9 268.1,131.9Z" fill="none" stroke="#4d84f0" stroke-width="2.1" stroke-dasharray="3.3 1.8"/>
<path d="M301.5,176.0 C302.2,174.5 304.4,173.3 307.6,172.0 C310.8,170.7 317.2,169.8 320.7,168.1 C324.2,166.3 327.1,164.1 328.6,161.5 C330.2,158.9 328.7,154.3 330.0,152.3 C331.3,150.3 333.8,150.1 336.5,149.7 C339.2,149.3 342.8,149.8 346.0,150.0 C349.2,150.2 353.7,150.0 356.0,151.0 C358.3,152.0 359.2,152.8 360.0,156.0 C360.8,159.2 361.0,165.7 361.0,170.0 C361.0,174.3 361.8,178.5 360.0,182.0 C358.2,185.5 354.0,189.2 350.0,191.0 C346.0,192.8 341.0,193.1 336.0,193.0 C331.0,192.9 324.5,191.7 320.0,190.5 C315.5,189.3 311.7,187.6 309.0,186.0 C306.3,184.4 304.9,182.9 303.6,181.2 C302.4,179.5 300.8,177.5 301.5,176.0Z" fill="none" stroke="#f256e8" stroke-width="2.1" stroke-dasharray="3.3 1.8"/>
<path d="M326.0,116.0 C327.4,114.4 331.2,113.1 334.0,112.5 C336.8,111.9 340.6,111.6 343.0,112.5 C345.4,113.4 347.5,115.8 348.5,118.0 C349.5,120.2 349.5,123.7 349.0,126.0 C348.5,128.3 347.5,130.8 345.5,132.0 C343.5,133.2 339.7,133.4 337.0,133.0 C334.3,132.6 331.4,131.3 329.5,129.5 C327.6,127.7 326.1,124.2 325.5,122.0 C324.9,119.8 324.6,117.6 326.0,116.0Z" fill="none" stroke="#f256e8" stroke-width="2.1" stroke-dasharray="3.3 1.8"/>
<path d="M341.3,89.9 C343.3,88.4 348.9,92.1 353.1,93.1 C357.3,94.1 361.9,95.6 366.3,95.8 C370.7,96.0 375.5,95.0 379.4,94.5 C383.3,94.0 387.0,93.0 389.9,92.5 C392.8,92.0 394.5,90.4 396.5,91.2 C398.5,92.0 399.8,94.1 401.8,97.1 C403.8,100.0 405.7,105.0 408.3,108.9 C410.9,112.8 415.1,117.2 417.5,120.7 C419.9,124.2 422.1,126.8 422.8,129.9 C423.5,133.0 422.2,136.0 421.5,139.1 C420.8,142.2 419.9,145.5 418.8,148.3 C417.7,151.2 416.6,154.2 414.9,156.2 C413.1,158.2 410.5,159.2 408.3,160.1 C406.1,161.0 403.1,160.6 401.8,161.5 C400.5,162.4 401.9,163.7 400.4,165.4 C398.9,167.2 396.1,170.2 392.6,172.0 C389.1,173.8 383.8,175.0 379.4,175.9 C375.0,176.8 369.8,177.6 366.3,177.2 C362.8,176.8 360.4,175.3 358.4,173.3 C356.4,171.3 355.4,168.2 354.5,165.4 C353.6,162.6 352.7,159.0 353.1,156.2 C353.5,153.3 354.9,150.3 357.1,148.3 C359.3,146.3 363.7,145.7 366.3,144.4 C368.9,143.1 371.5,141.7 372.8,140.4 C374.1,139.1 375.3,138.2 374.2,136.5 C373.1,134.8 368.9,131.9 366.3,129.9 C363.7,127.9 359.9,126.7 358.4,124.7 C356.9,122.7 358.0,120.3 357.1,118.1 C356.2,115.9 355.1,113.5 353.1,111.5 C351.1,109.5 347.3,107.8 345.3,106.3 C343.3,104.8 342.0,105.0 341.3,102.3 C340.6,99.6 339.3,91.4 341.3,89.9Z" fill="none" stroke="#52e052" stroke-width="2.1" stroke-dasharray="3.3 1.8"/>
<text transform="translate(293.8,99.8) scale(0.93,1)" font-size="16.2" text-anchor="middle" stroke="#000" stroke-width="0.3">3</text>
<text transform="translate(326.7,105.8) scale(0.93,1)" font-size="16.2" text-anchor="middle" stroke="#000" stroke-width="0.3">4</text>
<text transform="translate(387.8,107.2) scale(0.93,1)" font-size="16.2" text-anchor="middle" stroke="#000" stroke-width="0.3">13</text>
<text transform="translate(268.0,117.6) scale(0.93,1)" font-size="16.2" text-anchor="middle" stroke="#000" stroke-width="0.3">12</text>
<text transform="translate(383.5,126.0) scale(0.93,1)" font-size="16.2" text-anchor="middle" stroke="#000" stroke-width="0.3">2</text>
<text transform="translate(296.2,136.1) scale(0.93,1)" font-size="16.2" text-anchor="middle" stroke="#000" stroke-width="0.3">0</text>
<text transform="translate(316.6,142.8) scale(0.93,1)" font-size="16.2" text-anchor="middle" stroke="#000" stroke-width="0.3">10</text>
<text transform="translate(404.6,146.1) scale(0.93,1)" font-size="16.2" text-anchor="middle" stroke="#000" stroke-width="0.3">6</text>
<text transform="translate(337.5,148.8) scale(0.93,1)" font-size="16.2" text-anchor="middle" stroke="#000" stroke-width="0.3">1</text>
<text transform="translate(291.5,157.9) scale(0.93,1)" font-size="16.2" text-anchor="middle" stroke="#000" stroke-width="0.3">5</text>
<text transform="translate(336.4,163.6) scale(0.93,1)" font-size="16.2" text-anchor="middle" stroke="#000" stroke-width="0.3">7</text>
<text transform="translate(372.7,171.3) scale(0.93,1)" font-size="16.2" text-anchor="middle" stroke="#000" stroke-width="0.3">9</text>
<text transform="translate(290.4,182.7) scale(0.93,1)" font-size="16.2" text-anchor="middle" stroke="#000" stroke-width="0.3">11</text>
<text transform="translate(328.0,189.1) scale(0.93,1)" font-size="16.2" text-anchor="middle" stroke="#000" stroke-width="0.3">8</text>
<g filter="url(#bl)">
<path d="M583.8,95.4 C585.6,93.2 592.0,96.6 597.8,96.8 C603.6,97.0 612.2,97.4 618.7,96.8 C625.2,96.2 632.8,93.1 636.8,93.3 C640.8,93.5 640.5,96.0 642.4,98.2 C644.3,100.4 645.7,103.6 648.0,106.6 C650.3,109.6 653.9,113.3 656.4,116.3 C658.9,119.3 661.8,121.7 662.7,124.7 C663.6,127.7 662.8,131.2 662.0,134.5 C661.2,137.8 659.2,141.0 657.8,144.3 C656.4,147.6 655.6,151.1 653.5,154.1 C651.4,157.1 648.8,160.0 645.1,162.3 C641.4,164.6 635.7,166.1 631.3,168.0 C626.9,169.9 622.2,172.4 618.7,173.6 C615.2,174.8 613.1,175.2 610.3,175.0 C607.5,174.8 604.3,173.8 602.0,172.2 C599.7,170.6 597.7,167.8 596.3,165.2 C594.9,162.6 593.4,159.1 593.6,156.8 C593.9,154.5 596.2,153.1 597.8,151.2 C599.4,149.3 603.1,148.1 603.3,145.6 C603.5,143.1 600.9,139.6 599.0,136.0 C597.1,132.4 594.0,128.3 592.0,124.0 C590.0,119.7 588.4,114.8 587.0,110.0 C585.6,105.2 582.0,97.6 583.8,95.4Z" fill="#bceebc"/>
<path d="M604.0,107.0 C605.5,104.8 608.5,103.5 612.0,102.5 C615.5,101.5 621.0,101.8 625.0,101.0 C629.0,100.2 633.2,98.1 636.0,98.0 C638.8,97.9 640.0,99.0 642.0,100.5 C644.0,102.0 645.7,104.3 648.0,107.0 C650.3,109.7 653.7,113.5 656.0,116.5 C658.3,119.5 661.1,122.0 662.0,125.0 C662.9,128.0 662.2,131.3 661.5,134.5 C660.8,137.7 658.9,140.8 657.5,144.0 C656.1,147.2 655.1,151.0 653.0,154.0 C650.9,157.0 647.2,161.3 645.0,162.0 C642.8,162.7 639.8,160.0 640.0,158.0 C640.2,156.0 644.7,152.8 646.0,150.0 C647.3,147.2 648.2,143.7 648.0,141.0 C647.8,138.3 647.0,135.6 645.0,134.0 C643.0,132.4 639.5,132.0 636.0,131.5 C632.5,131.0 628.0,131.2 624.0,131.0 C620.0,130.8 615.2,130.8 612.0,130.0 C608.8,129.2 606.5,128.3 605.0,126.0 C603.5,123.7 603.2,119.2 603.0,116.0 C602.8,112.8 602.5,109.2 604.0,107.0Z" fill="#60d760"/>
<path d="M598.0,150.0 C599.9,148.1 602.3,146.3 606.0,145.5 C609.7,144.7 615.3,145.2 620.0,145.0 C624.7,144.8 629.7,144.3 634.0,144.5 C638.3,144.7 643.7,144.8 646.0,146.0 C648.3,147.2 648.3,149.7 648.0,152.0 C647.7,154.3 646.7,157.4 644.0,160.0 C641.3,162.6 636.2,165.3 632.0,167.5 C627.8,169.7 622.6,171.8 619.0,173.0 C615.4,174.2 613.2,174.8 610.5,174.5 C607.8,174.2 604.8,173.2 602.5,171.5 C600.2,169.8 598.3,166.9 597.0,164.5 C595.7,162.1 594.3,159.4 594.5,157.0 C594.7,154.6 596.1,151.9 598.0,150.0Z" fill="#60d760"/>
<path d="M600.5,128.0 C602.0,126.1 605.9,126.2 609.0,126.5 C612.1,126.8 615.8,128.1 619.0,129.5 C622.2,130.9 624.2,133.2 628.0,135.0 C631.8,136.8 642.0,139.2 642.0,140.5 C642.0,141.8 632.5,142.3 628.0,143.0 C623.5,143.7 618.8,144.3 615.0,144.5 C611.2,144.7 607.5,145.1 605.0,144.0 C602.5,142.9 600.8,140.7 600.0,138.0 C599.2,135.3 599.0,129.9 600.5,128.0Z" fill="#ffffff"/>
<path d="M611.0,155.0 C611.6,153.8 614.5,153.2 616.0,153.5 C617.5,153.8 619.7,155.6 620.0,157.0 C620.3,158.4 619.2,161.3 618.0,162.0 C616.8,162.7 613.7,162.2 612.5,161.0 C611.3,159.8 610.4,156.2 611.0,155.0Z" fill="#ffffff"/>
<path d="M589.0,97.0 C590.8,95.8 595.5,96.0 598.0,97.0 C600.5,98.0 603.2,100.2 604.0,103.0 C604.8,105.8 603.7,110.5 603.0,114.0 C602.3,117.5 601.5,122.7 600.0,124.0 C598.5,125.3 595.7,124.0 594.0,122.0 C592.3,120.0 591.2,115.0 590.0,112.0 C588.8,109.0 587.2,106.5 587.0,104.0 C586.8,101.5 587.2,98.2 589.0,97.0Z" fill="#ffffff"/>
<path d="M506.0,95.0 C507.1,92.8 510.4,90.7 511.8,89.2 C513.2,87.8 511.5,86.9 514.5,86.3 C517.5,85.7 524.9,85.7 530.0,85.6 C535.1,85.5 539.7,85.8 545.0,85.8 C550.3,85.8 556.4,85.8 562.0,85.6 C567.6,85.4 575.1,84.0 578.8,84.6 C582.5,85.2 582.6,86.9 584.0,89.0 C585.4,91.1 586.0,93.5 587.0,97.0 C588.0,100.5 588.8,105.5 590.0,110.0 C591.2,114.5 592.2,119.8 594.0,124.0 C595.8,128.2 599.3,132.3 601.0,135.0 C602.7,137.7 605.0,138.3 604.3,140.3 C603.6,142.3 598.5,143.7 597.0,147.0 C595.5,150.3 594.5,153.7 595.0,160.0 C595.5,166.3 600.5,180.2 599.7,185.0 C598.9,189.8 593.9,187.8 590.0,188.5 C586.1,189.2 580.2,189.4 576.2,189.0 C572.2,188.6 569.2,187.4 565.7,186.0 C562.2,184.6 558.7,182.4 555.2,180.7 C551.8,179.0 547.0,175.7 545.0,176.0 C543.0,176.3 544.1,180.4 543.4,182.3 C542.7,184.2 542.0,185.8 540.7,187.6 C539.4,189.3 536.9,191.7 535.5,192.8 C534.1,194.0 533.1,195.8 532.2,194.5 C531.3,193.2 530.8,189.1 530.2,184.9 C529.7,180.7 529.5,173.8 528.9,169.2 C528.2,164.6 527.6,160.8 526.3,157.3 C525.0,153.8 522.8,151.2 521.0,148.1 C519.2,145.0 516.9,142.2 515.8,139.0 C514.7,135.8 515.4,131.9 514.5,128.6 C513.6,125.3 511.8,122.5 510.5,119.4 C509.2,116.3 507.5,113.1 506.6,110.2 C505.7,107.3 505.4,104.8 505.3,102.3 C505.2,99.8 504.9,97.2 506.0,95.0Z" fill="#d7e1f5"/>
<path d="M506.0,113.0 C506.2,113.0 510.0,119.2 512.0,121.0 C514.0,122.8 515.8,122.8 518.0,124.0 C520.2,125.2 523.0,125.3 525.0,128.0 C527.0,130.7 528.5,136.3 530.0,140.0 C531.5,143.7 532.3,147.3 534.0,150.0 C535.7,152.7 538.0,156.0 540.0,156.0 C542.0,156.0 543.3,151.3 546.0,150.0 C548.7,148.7 552.7,148.0 556.0,148.0 C559.3,148.0 563.7,148.8 566.0,150.0 C568.3,151.2 570.7,153.0 570.0,155.0 C569.3,157.0 565.0,159.8 562.0,162.0 C559.0,164.2 554.7,166.0 552.0,168.0 C549.3,170.0 547.2,172.0 546.0,174.0 C544.8,176.0 544.9,178.4 544.5,180.0 C544.1,181.6 544.2,182.1 543.6,183.4 C543.0,184.7 542.0,186.4 540.7,188.0 C539.4,189.6 537.3,191.6 536.0,192.8 C534.7,194.0 533.8,196.3 533.0,195.0 C532.2,193.7 531.6,189.2 531.0,184.9 C530.4,180.6 530.3,173.6 529.5,169.0 C528.7,164.4 527.7,160.8 526.3,157.3 C524.9,153.8 522.8,151.2 521.0,148.1 C519.2,145.0 516.9,142.2 515.8,139.0 C514.7,135.8 515.4,131.6 514.5,128.6 C513.6,125.6 511.9,123.6 510.5,121.0 C509.1,118.4 505.8,113.0 506.0,113.0Z" fill="#86aef7"/>
<path d="M506.0,95.0 C507.1,92.8 510.4,90.7 511.8,89.2 C513.2,87.8 511.5,86.9 514.5,86.3 C517.5,85.7 524.9,85.7 530.0,85.6 C535.1,85.5 540.5,85.8 545.0,85.8 C549.5,85.8 554.3,84.9 557.0,85.6 C559.7,86.3 560.3,87.6 561.0,90.0 C561.7,92.4 561.5,97.4 561.0,100.0 C560.5,102.6 559.5,104.6 558.0,105.5 C556.5,106.4 553.9,104.6 552.0,105.5 C550.1,106.4 548.2,109.4 546.5,111.0 C544.8,112.6 543.2,114.8 541.5,115.0 C539.8,115.2 538.0,113.9 536.5,112.0 C535.0,110.1 534.0,105.8 532.5,103.5 C531.0,101.2 528.9,98.4 527.5,98.5 C526.1,98.6 524.9,101.6 524.0,104.0 C523.1,106.4 522.8,110.2 522.0,113.0 C521.2,115.8 520.2,118.9 519.0,121.0 C517.8,123.1 516.5,125.2 515.0,125.5 C513.5,125.8 511.4,125.2 510.0,123.0 C508.6,120.8 507.4,115.5 506.6,112.0 C505.8,108.5 505.4,105.1 505.3,102.3 C505.2,99.5 504.9,97.2 506.0,95.0Z" fill="#74d6cd"/>
<path d="M527.0,97.5 C528.2,97.0 530.7,98.8 532.0,100.5 C533.3,102.2 533.8,105.2 535.0,107.5 C536.2,109.8 537.7,113.2 539.0,114.5 C540.3,115.8 541.5,116.1 542.8,115.5 C544.1,114.9 545.4,112.8 547.0,111.0 C548.6,109.2 550.5,105.8 552.4,105.0 C554.3,104.2 556.9,104.8 558.5,106.0 C560.1,107.2 561.4,109.6 562.0,112.0 C562.6,114.4 562.8,117.8 562.0,120.5 C561.2,123.2 559.0,125.8 557.0,128.0 C555.0,130.2 551.8,131.8 550.0,133.5 C548.2,135.2 546.8,135.9 546.0,138.0 C545.2,140.1 545.9,143.1 545.5,146.0 C545.1,148.9 544.6,153.0 543.5,155.5 C542.4,158.0 540.3,160.8 539.0,161.0 C537.7,161.2 536.7,159.2 535.8,157.0 C534.9,154.8 535.0,150.8 533.8,147.5 C532.5,144.2 529.6,141.1 528.3,137.5 C527.0,133.9 526.6,130.0 526.0,126.0 C525.4,122.0 524.8,117.2 524.6,113.5 C524.4,109.8 524.2,106.2 524.6,103.5 C525.0,100.8 525.8,98.0 527.0,97.5Z" fill="#f18482"/>
<path d="M557.0,88.0 C558.5,86.0 562.2,85.6 565.0,85.0 C567.8,84.4 571.3,84.3 574.0,84.3 C576.7,84.3 579.2,84.0 581.0,85.0 C582.8,86.0 584.2,88.0 585.0,90.0 C585.8,92.0 586.3,94.5 586.0,97.0 C585.7,99.5 584.5,102.8 583.0,105.0 C581.5,107.2 579.2,108.7 577.0,110.0 C574.8,111.3 572.0,111.5 570.0,113.0 C568.0,114.5 566.7,116.8 565.0,119.0 C563.3,121.2 562.0,123.8 560.0,126.0 C558.0,128.2 555.2,130.7 553.0,132.0 C550.8,133.3 547.8,134.7 547.0,134.0 C546.2,133.3 547.0,130.2 548.0,128.0 C549.0,125.8 551.5,123.5 553.0,121.0 C554.5,118.5 556.3,115.7 557.0,113.0 C557.7,110.3 557.2,107.7 557.0,105.0 C556.8,102.3 556.0,99.8 556.0,97.0 C556.0,94.2 555.5,90.0 557.0,88.0Z" fill="#b5aa43"/>
<path d="M566.0,114.0 C567.8,111.8 569.7,111.2 572.0,110.5 C574.3,109.8 577.5,109.2 580.0,109.5 C582.5,109.8 585.1,110.6 587.0,112.0 C588.9,113.4 590.7,115.7 591.5,118.0 C592.3,120.3 592.9,124.0 592.0,126.0 C591.1,128.0 589.0,129.3 586.0,130.0 C583.0,130.7 577.8,130.3 574.0,130.0 C570.2,129.7 565.2,129.0 563.0,128.0 C560.8,127.0 560.5,126.3 561.0,124.0 C561.5,121.7 564.2,116.2 566.0,114.0Z" fill="#f278f2"/>
<path d="M546.0,137.0 C547.1,134.1 549.3,132.2 552.0,130.5 C554.7,128.8 558.3,127.2 562.0,127.0 C565.7,126.8 570.0,128.9 574.0,129.5 C578.0,130.1 582.5,129.9 586.0,130.5 C589.5,131.1 592.3,131.9 595.0,133.0 C597.7,134.1 600.3,135.8 602.0,137.0 C603.7,138.2 605.2,138.9 605.0,140.3 C604.8,141.7 602.8,143.8 601.0,145.5 C599.2,147.2 597.5,149.4 594.0,150.5 C590.5,151.6 584.8,151.8 580.0,152.0 C575.2,152.2 569.7,152.2 565.0,152.0 C560.3,151.8 555.2,151.7 552.0,151.0 C548.8,150.3 546.5,150.3 545.5,148.0 C544.5,145.7 544.9,139.9 546.0,137.0Z" fill="#b4a83f"/>
<path d="M543.5,172.4 C544.7,170.6 548.2,168.7 552.0,166.0 C555.8,163.3 561.3,158.4 566.0,156.0 C570.7,153.6 575.6,152.6 580.0,151.5 C584.4,150.4 589.7,148.9 592.5,149.5 C595.3,150.1 595.8,152.4 597.0,155.0 C598.2,157.6 599.2,161.5 600.0,165.0 C600.8,168.5 602.0,172.9 602.0,176.0 C602.0,179.1 601.9,181.3 600.2,183.4 C598.5,185.5 594.6,187.5 592.0,188.5 C589.4,189.5 587.8,189.6 584.5,189.6 C581.2,189.6 575.4,189.0 572.0,188.5 C568.6,188.0 567.3,187.8 564.0,186.5 C560.7,185.2 555.2,182.6 552.0,181.0 C548.8,179.4 546.4,178.4 545.0,177.0 C543.6,175.6 542.3,174.2 543.5,172.4Z" fill="#f273f2"/>
</g>
<text x="479.3" y="101.8" font-size="16.3" stroke="#000" stroke-width="0.45">Perimysial</text>
<text x="547.3" y="141.3" font-size="16.3" stroke="#000" stroke-width="0.45">Midline</text>
<text x="592.0" y="128.0" font-size="16.3" stroke="#000" stroke-width="0.45">Mitotic</text>
<text x="490.0" y="167.4" font-size="16.3" stroke="#000" stroke-width="0.45">Osteogenic</text>
<text x="557.3" y="185.3" font-size="16.3" stroke="#000" stroke-width="0.45">Odontogenic</text>
<g transform="translate(-356.34,459.28) scale(0.836)">
<g filter="url(#bl)">
<path d="M583.8,95.4 C585.6,93.2 592.0,96.6 597.8,96.8 C603.6,97.0 612.2,97.4 618.7,96.8 C625.2,96.2 632.8,93.1 636.8,93.3 C640.8,93.5 640.5,96.0 642.4,98.2 C644.3,100.4 645.7,103.6 648.0,106.6 C650.3,109.6 653.9,113.3 656.4,116.3 C658.9,119.3 661.8,121.7 662.7,124.7 C663.6,127.7 662.8,131.2 662.0,134.5 C661.2,137.8 659.2,141.0 657.8,144.3 C656.4,147.6 655.6,151.1 653.5,154.1 C651.4,157.1 648.8,160.0 645.1,162.3 C641.4,164.6 635.7,166.1 631.3,168.0 C626.9,169.9 622.2,172.4 618.7,173.6 C615.2,174.8 613.1,175.2 610.3,175.0 C607.5,174.8 604.3,173.8 602.0,172.2 C599.7,170.6 597.7,167.8 596.3,165.2 C594.9,162.6 593.4,159.1 593.6,156.8 C593.9,154.5 596.2,153.1 597.8,151.2 C599.4,149.3 603.1,148.1 603.3,145.6 C603.5,143.1 600.9,139.6 599.0,136.0 C597.1,132.4 594.0,128.3 592.0,124.0 C590.0,119.7 588.4,114.8 587.0,110.0 C585.6,105.2 582.0,97.6 583.8,95.4Z" fill="#bceebc"/>
<path d="M604.0,107.0 C605.5,104.8 608.5,103.5 612.0,102.5 C615.5,101.5 621.0,101.8 625.0,101.0 C629.0,100.2 633.2,98.1 636.0,98.0 C638.8,97.9 640.0,99.0 642.0,100.5 C644.0,102.0 645.7,104.3 648.0,107.0 C650.3,109.7 653.7,113.5 656.0,116.5 C658.3,119.5 661.1,122.0 662.0,125.0 C662.9,128.0 662.2,131.3 661.5,134.5 C660.8,137.7 658.9,140.8 657.5,144.0 C656.1,147.2 655.1,151.0 653.0,154.0 C650.9,157.0 647.2,161.3 645.0,162.0 C642.8,162.7 639.8,160.0 640.0,158.0 C640.2,156.0 644.7,152.8 646.0,150.0 C647.3,147.2 648.2,143.7 648.0,141.0 C647.8,138.3 647.0,135.6 645.0,134.0 C643.0,132.4 639.5,132.0 636.0,131.5 C632.5,131.0 628.0,131.2 624.0,131.0 C620.0,130.8 615.2,130.8 612.0,130.0 C608.8,129.2 606.5,128.3 605.0,126.0 C603.5,123.7 603.2,119.2 603.0,116.0 C602.8,112.8 602.5,109.2 604.0,107.0Z" fill="#60d760"/>
<path d="M598.0,150.0 C599.9,148.1 602.3,146.3 606.0,145.5 C609.7,144.7 615.3,145.2 620.0,145.0 C624.7,144.8 629.7,144.3 634.0,144.5 C638.3,144.7 643.7,144.8 646.0,146.0 C648.3,147.2 648.3,149.7 648.0,152.0 C647.7,154.3 646.7,157.4 644.0,160.0 C641.3,162.6 636.2,165.3 632.0,167.5 C627.8,169.7 622.6,171.8 619.0,173.0 C615.4,174.2 613.2,174.8 610.5,174.5 C607.8,174.2 604.8,173.2 602.5,171.5 C600.2,169.8 598.3,166.9 597.0,164.5 C595.7,162.1 594.3,159.4 594.5,157.0 C594.7,154.6 596.1,151.9 598.0,150.0Z" fill="#60d760"/>
<path d="M600.5,128.0 C602.0,126.1 605.9,126.2 609.0,126.5 C612.1,126.8 615.8,128.1 619.0,129.5 C622.2,130.9 624.2,133.2 628.0,135.0 C631.8,136.8 642.0,139.2 642.0,140.5 C642.0,141.8 632.5,142.3 628.0,143.0 C623.5,143.7 618.8,144.3 615.0,144.5 C611.2,144.7 607.5,145.1 605.0,144.0 C602.5,142.9 600.8,140.7 600.0,138.0 C599.2,135.3 599.0,129.9 600.5,128.0Z" fill="#ffffff"/>
<path d="M611.0,155.0 C611.6,153.8 614.5,153.2 616.0,153.5 C617.5,153.8 619.7,155.6 620.0,157.0 C620.3,158.4 619.2,161.3 618.0,162.0 C616.8,162.7 613.7,162.2 612.5,161.0 C611.3,159.8 610.4,156.2 611.0,155.0Z" fill="#ffffff"/>
<path d="M589.0,97.0 C590.8,95.8 595.5,96.0 598.0,97.0 C600.5,98.0 603.2,100.2 604.0,103.0 C604.8,105.8 603.7,110.5 603.0,114.0 C602.3,117.5 601.5,122.7 600.0,124.0 C598.5,125.3 595.7,124.0 594.0,122.0 C592.3,120.0 591.2,115.0 590.0,112.0 C588.8,109.0 587.2,106.5 587.0,104.0 C586.8,101.5 587.2,98.2 589.0,97.0Z" fill="#ffffff"/>
<path d="M506.0,95.0 C507.1,92.8 510.4,90.7 511.8,89.2 C513.2,87.8 511.5,86.9 514.5,86.3 C517.5,85.7 524.9,85.7 530.0,85.6 C535.1,85.5 539.7,85.8 545.0,85.8 C550.3,85.8 556.4,85.8 562.0,85.6 C567.6,85.4 575.1,84.0 578.8,84.6 C582.5,85.2 582.6,86.9 584.0,89.0 C585.4,91.1 586.0,93.5 587.0,97.0 C588.0,100.5 588.8,105.5 590.0,110.0 C591.2,114.5 592.2,119.8 594.0,124.0 C595.8,128.2 599.3,132.3 601.0,135.0 C602.7,137.7 605.0,138.3 604.3,140.3 C603.6,142.3 598.5,143.7 597.0,147.0 C595.5,150.3 594.5,153.7 595.0,160.0 C595.5,166.3 600.5,180.2 599.7,185.0 C598.9,189.8 593.9,187.8 590.0,188.5 C586.1,189.2 580.2,189.4 576.2,189.0 C572.2,188.6 569.2,187.4 565.7,186.0 C562.2,184.6 558.7,182.4 555.2,180.7 C551.8,179.0 547.0,175.7 545.0,176.0 C543.0,176.3 544.1,180.4 543.4,182.3 C542.7,184.2 542.0,185.8 540.7,187.6 C539.4,189.3 536.9,191.7 535.5,192.8 C534.1,194.0 533.1,195.8 532.2,194.5 C531.3,193.2 530.8,189.1 530.2,184.9 C529.7,180.7 529.5,173.8 528.9,169.2 C528.2,164.6 527.6,160.8 526.3,157.3 C525.0,153.8 522.8,151.2 521.0,148.1 C519.2,145.0 516.9,142.2 515.8,139.0 C514.7,135.8 515.4,131.9 514.5,128.6 C513.6,125.3 511.8,122.5 510.5,119.4 C509.2,116.3 507.5,113.1 506.6,110.2 C505.7,107.3 505.4,104.8 505.3,102.3 C505.2,99.8 504.9,97.2 506.0,95.0Z" fill="#d7e1f5"/>
<path d="M506.0,113.0 C506.2,113.0 510.0,119.2 512.0,121.0 C514.0,122.8 515.8,122.8 518.0,124.0 C520.2,125.2 523.0,125.3 525.0,128.0 C527.0,130.7 528.5,136.3 530.0,140.0 C531.5,143.7 532.3,147.3 534.0,150.0 C535.7,152.7 538.0,156.0 540.0,156.0 C542.0,156.0 543.3,151.3 546.0,150.0 C548.7,148.7 552.7,148.0 556.0,148.0 C559.3,148.0 563.7,148.8 566.0,150.0 C568.3,151.2 570.7,153.0 570.0,155.0 C569.3,157.0 565.0,159.8 562.0,162.0 C559.0,164.2 554.7,166.0 552.0,168.0 C549.3,170.0 547.2,172.0 546.0,174.0 C544.8,176.0 544.9,178.4 544.5,180.0 C544.1,181.6 544.2,182.1 543.6,183.4 C543.0,184.7 542.0,186.4 540.7,188.0 C539.4,189.6 537.3,191.6 536.0,192.8 C534.7,194.0 533.8,196.3 533.0,195.0 C532.2,193.7 531.6,189.2 531.0,184.9 C530.4,180.6 530.3,173.6 529.5,169.0 C528.7,164.4 527.7,160.8 526.3,157.3 C524.9,153.8 522.8,151.2 521.0,148.1 C519.2,145.0 516.9,142.2 515.8,139.0 C514.7,135.8 515.4,131.6 514.5,128.6 C513.6,125.6 511.9,123.6 510.5,121.0 C509.1,118.4 505.8,113.0 506.0,113.0Z" fill="#86aef7"/>
<path d="M506.0,95.0 C507.1,92.8 510.4,90.7 511.8,89.2 C513.2,87.8 511.5,86.9 514.5,86.3 C517.5,85.7 524.9,85.7 530.0,85.6 C535.1,85.5 540.5,85.8 545.0,85.8 C549.5,85.8 554.3,84.9 557.0,85.6 C559.7,86.3 560.3,87.6 561.0,90.0 C561.7,92.4 561.5,97.4 561.0,100.0 C560.5,102.6 559.5,104.6 558.0,105.5 C556.5,106.4 553.9,104.6 552.0,105.5 C550.1,106.4 548.2,109.4 546.5,111.0 C544.8,112.6 543.2,114.8 541.5,115.0 C539.8,115.2 538.0,113.9 536.5,112.0 C535.0,110.1 534.0,105.8 532.5,103.5 C531.0,101.2 528.9,98.4 527.5,98.5 C526.1,98.6 524.9,101.6 524.0,104.0 C523.1,106.4 522.8,110.2 522.0,113.0 C521.2,115.8 520.2,118.9 519.0,121.0 C517.8,123.1 516.5,125.2 515.0,125.5 C513.5,125.8 511.4,125.2 510.0,123.0 C508.6,120.8 507.4,115.5 506.6,112.0 C505.8,108.5 505.4,105.1 505.3,102.3 C505.2,99.5 504.9,97.2 506.0,95.0Z" fill="#74d6cd"/>
<path d="M527.0,97.5 C528.2,97.0 530.7,98.8 532.0,100.5 C533.3,102.2 533.8,105.2 535.0,107.5 C536.2,109.8 537.7,113.2 539.0,114.5 C540.3,115.8 541.5,116.1 542.8,115.5 C544.1,114.9 545.4,112.8 547.0,111.0 C548.6,109.2 550.5,105.8 552.4,105.0 C554.3,104.2 556.9,104.8 558.5,106.0 C560.1,107.2 561.4,109.6 562.0,112.0 C562.6,114.4 562.8,117.8 562.0,120.5 C561.2,123.2 559.0,125.8 557.0,128.0 C555.0,130.2 551.8,131.8 550.0,133.5 C548.2,135.2 546.8,135.9 546.0,138.0 C545.2,140.1 545.9,143.1 545.5,146.0 C545.1,148.9 544.6,153.0 543.5,155.5 C542.4,158.0 540.3,160.8 539.0,161.0 C537.7,161.2 536.7,159.2 535.8,157.0 C534.9,154.8 535.0,150.8 533.8,147.5 C532.5,144.2 529.6,141.1 528.3,137.5 C527.0,133.9 526.6,130.0 526.0,126.0 C525.4,122.0 524.8,117.2 524.6,113.5 C524.4,109.8 524.2,106.2 524.6,103.5 C525.0,100.8 525.8,98.0 527.0,97.5Z" fill="#f18482"/>
<path d="M557.0,88.0 C558.5,86.0 562.2,85.6 565.0,85.0 C567.8,84.4 571.3,84.3 574.0,84.3 C576.7,84.3 579.2,84.0 581.0,85.0 C582.8,86.0 584.2,88.0 585.0,90.0 C585.8,92.0 586.3,94.5 586.0,97.0 C585.7,99.5 584.5,102.8 583.0,105.0 C581.5,107.2 579.2,108.7 577.0,110.0 C574.8,111.3 572.0,111.5 570.0,113.0 C568.0,114.5 566.7,116.8 565.0,119.0 C563.3,121.2 562.0,123.8 560.0,126.0 C558.0,128.2 555.2,130.7 553.0,132.0 C550.8,133.3 547.8,134.7 547.0,134.0 C546.2,133.3 547.0,130.2 548.0,128.0 C549.0,125.8 551.5,123.5 553.0,121.0 C554.5,118.5 556.3,115.7 557.0,113.0 C557.7,110.3 557.2,107.7 557.0,105.0 C556.8,102.3 556.0,99.8 556.0,97.0 C556.0,94.2 555.5,90.0 557.0,88.0Z" fill="#b5aa43"/>
<path d="M566.0,114.0 C567.8,111.8 569.7,111.2 572.0,110.5 C574.3,109.8 577.5,109.2 580.0,109.5 C582.5,109.8 585.1,110.6 587.0,112.0 C588.9,113.4 590.7,115.7 591.5,118.0 C592.3,120.3 592.9,124.0 592.0,126.0 C591.1,128.0 589.0,129.3 586.0,130.0 C583.0,130.7 577.8,130.3 574.0,130.0 C570.2,129.7 565.2,129.0 563.0,128.0 C560.8,127.0 560.5,126.3 561.0,124.0 C561.5,121.7 564.2,116.2 566.0,114.0Z" fill="#f278f2"/>
<path d="M546.0,137.0 C547.1,134.1 549.3,132.2 552.0,130.5 C554.7,128.8 558.3,127.2 562.0,127.0 C565.7,126.8 570.0,128.9 574.0,129.5 C578.0,130.1 582.5,129.9 586.0,130.5 C589.5,131.1 592.3,131.9 595.0,133.0 C597.7,134.1 600.3,135.8 602.0,137.0 C603.7,138.2 605.2,138.9 605.0,140.3 C604.8,141.7 602.8,143.8 601.0,145.5 C599.2,147.2 597.5,149.4 594.0,150.5 C590.5,151.6 584.8,151.8 580.0,152.0 C575.2,152.2 569.7,152.2 565.0,152.0 C560.3,151.8 555.2,151.7 552.0,151.0 C548.8,150.3 546.5,150.3 545.5,148.0 C544.5,145.7 544.9,139.9 546.0,137.0Z" fill="#b4a83f"/>
<path d="M543.5,172.4 C544.7,170.6 548.2,168.7 552.0,166.0 C555.8,163.3 561.3,158.4 566.0,156.0 C570.7,153.6 575.6,152.6 580.0,151.5 C584.4,150.4 589.7,148.9 592.5,149.5 C595.3,150.1 595.8,152.4 597.0,155.0 C598.2,157.6 599.2,161.5 600.0,165.0 C600.8,168.5 602.0,172.9 602.0,176.0 C602.0,179.1 601.9,181.3 600.2,183.4 C598.5,185.5 594.6,187.5 592.0,188.5 C589.4,189.5 587.8,189.6 584.5,189.6 C581.2,189.6 575.4,189.0 572.0,188.5 C568.6,188.0 567.3,187.8 564.0,186.5 C560.7,185.2 555.2,182.6 552.0,181.0 C548.8,179.4 546.4,178.4 545.0,177.0 C543.6,175.6 542.3,174.2 543.5,172.4Z" fill="#f273f2"/>
</g>
<path d="M527.3,98.2 C528.3,97.8 530.3,99.4 531.5,101.0 C532.7,102.6 533.2,105.5 534.4,107.9 C535.6,110.4 537.2,114.3 538.6,115.7 C540.0,117.1 541.4,116.9 542.8,116.3 C544.2,115.7 545.3,113.8 546.9,112.1 C548.5,110.4 550.5,106.8 552.4,105.9 C554.3,105.0 556.6,105.6 558.1,106.6 C559.6,107.6 560.9,109.8 561.5,112.1 C562.1,114.4 562.3,117.9 561.5,120.5 C560.7,123.1 558.6,125.4 556.6,127.5 C554.6,129.6 551.6,131.4 549.7,133.0 C547.9,134.6 546.3,135.1 545.5,137.2 C544.7,139.3 545.2,142.6 544.8,145.6 C544.3,148.6 543.8,152.9 542.8,155.4 C541.8,157.9 539.7,160.1 538.6,160.3 C537.5,160.5 537.1,159.0 536.4,156.8 C535.7,154.6 535.7,150.3 534.4,147.0 C533.1,143.7 530.1,140.7 528.8,137.2 C527.5,133.7 527.2,130.0 526.6,126.1 C526.0,122.1 525.5,117.2 525.3,113.5 C525.1,109.8 525.0,106.2 525.3,103.7 C525.6,101.2 526.3,98.7 527.3,98.2Z" fill="none" stroke="#000" stroke-width="2.8" stroke-dasharray="5.4 3.2"/>
</g>
<g transform="translate(-195.54,459.28) scale(0.836)">
<g filter="url(#bl)">
<path d="M583.8,95.4 C585.6,93.2 592.0,96.6 597.8,96.8 C603.6,97.0 612.2,97.4 618.7,96.8 C625.2,96.2 632.8,93.1 636.8,93.3 C640.8,93.5 640.5,96.0 642.4,98.2 C644.3,100.4 645.7,103.6 648.0,106.6 C650.3,109.6 653.9,113.3 656.4,116.3 C658.9,119.3 661.8,121.7 662.7,124.7 C663.6,127.7 662.8,131.2 662.0,134.5 C661.2,137.8 659.2,141.0 657.8,144.3 C656.4,147.6 655.6,151.1 653.5,154.1 C651.4,157.1 648.8,160.0 645.1,162.3 C641.4,164.6 635.7,166.1 631.3,168.0 C626.9,169.9 622.2,172.4 618.7,173.6 C615.2,174.8 613.1,175.2 610.3,175.0 C607.5,174.8 604.3,173.8 602.0,172.2 C599.7,170.6 597.7,167.8 596.3,165.2 C594.9,162.6 593.4,159.1 593.6,156.8 C593.9,154.5 596.2,153.1 597.8,151.2 C599.4,149.3 603.1,148.1 603.3,145.6 C603.5,143.1 600.9,139.6 599.0,136.0 C597.1,132.4 594.0,128.3 592.0,124.0 C590.0,119.7 588.4,114.8 587.0,110.0 C585.6,105.2 582.0,97.6 583.8,95.4Z" fill="#dcf6dc"/>
<path d="M604.0,107.0 C605.5,104.8 608.5,103.5 612.0,102.5 C615.5,101.5 621.0,101.8 625.0,101.0 C629.0,100.2 633.2,98.1 636.0,98.0 C638.8,97.9 640.0,99.0 642.0,100.5 C644.0,102.0 645.7,104.3 648.0,107.0 C650.3,109.7 653.7,113.5 656.0,116.5 C658.3,119.5 661.1,122.0 662.0,125.0 C662.9,128.0 662.2,131.3 661.5,134.5 C660.8,137.7 658.9,140.8 657.5,144.0 C656.1,147.2 655.1,151.0 653.0,154.0 C650.9,157.0 647.2,161.3 645.0,162.0 C642.8,162.7 639.8,160.0 640.0,158.0 C640.2,156.0 644.7,152.8 646.0,150.0 C647.3,147.2 648.2,143.7 648.0,141.0 C647.8,138.3 647.0,135.6 645.0,134.0 C643.0,132.4 639.5,132.0 636.0,131.5 C632.5,131.0 628.0,131.2 624.0,131.0 C620.0,130.8 615.2,130.8 612.0,130.0 C608.8,129.2 606.5,128.3 605.0,126.0 C603.5,123.7 603.2,119.2 603.0,116.0 C602.8,112.8 602.5,109.2 604.0,107.0Z" fill="#aceaac"/>
<path d="M598.0,150.0 C599.9,148.1 602.3,146.3 606.0,145.5 C609.7,144.7 615.3,145.2 620.0,145.0 C624.7,144.8 629.7,144.3 634.0,144.5 C638.3,144.7 643.7,144.8 646.0,146.0 C648.3,147.2 648.3,149.7 648.0,152.0 C647.7,154.3 646.7,157.4 644.0,160.0 C641.3,162.6 636.2,165.3 632.0,167.5 C627.8,169.7 622.6,171.8 619.0,173.0 C615.4,174.2 613.2,174.8 610.5,174.5 C607.8,174.2 604.8,173.2 602.5,171.5 C600.2,169.8 598.3,166.9 597.0,164.5 C595.7,162.1 594.3,159.4 594.5,157.0 C594.7,154.6 596.1,151.9 598.0,150.0Z" fill="#aceaac"/>
<path d="M600.5,128.0 C602.0,126.1 605.9,126.2 609.0,126.5 C612.1,126.8 615.8,128.1 619.0,129.5 C622.2,130.9 624.2,133.2 628.0,135.0 C631.8,136.8 642.0,139.2 642.0,140.5 C642.0,141.8 632.5,142.3 628.0,143.0 C623.5,143.7 618.8,144.3 615.0,144.5 C611.2,144.7 607.5,145.1 605.0,144.0 C602.5,142.9 600.8,140.7 600.0,138.0 C599.2,135.3 599.0,129.9 600.5,128.0Z" fill="#ffffff"/>
<path d="M611.0,155.0 C611.6,153.8 614.5,153.2 616.0,153.5 C617.5,153.8 619.7,155.6 620.0,157.0 C620.3,158.4 619.2,161.3 618.0,162.0 C616.8,162.7 613.7,162.2 612.5,161.0 C611.3,159.8 610.4,156.2 611.0,155.0Z" fill="#ffffff"/>
<path d="M589.0,97.0 C590.8,95.8 595.5,96.0 598.0,97.0 C600.5,98.0 603.2,100.2 604.0,103.0 C604.8,105.8 603.7,110.5 603.0,114.0 C602.3,117.5 601.5,122.7 600.0,124.0 C598.5,125.3 595.7,124.0 594.0,122.0 C592.3,120.0 591.2,115.0 590.0,112.0 C588.8,109.0 587.2,106.5 587.0,104.0 C586.8,101.5 587.2,98.2 589.0,97.0Z" fill="#ffffff"/>
<path d="M600.0,128.0 C602.5,126.0 607.7,126.0 612.0,126.0 C616.3,126.0 621.7,127.0 626.0,128.0 C630.3,129.0 635.0,130.3 638.0,132.0 C641.0,133.7 643.7,135.7 644.0,138.0 C644.3,140.3 643.0,144.0 640.0,146.0 C637.0,148.0 631.0,149.2 626.0,150.0 C621.0,150.8 614.2,151.3 610.0,151.0 C605.8,150.7 603.2,150.2 601.0,148.0 C598.8,145.8 597.2,141.3 597.0,138.0 C596.8,134.7 597.5,130.0 600.0,128.0Z" fill="#ffffff"/>
<path d="M592.0,100.0 C593.8,98.3 597.7,97.3 600.0,98.0 C602.3,98.7 605.3,101.0 606.0,104.0 C606.7,107.0 605.3,112.7 604.0,116.0 C602.7,119.3 600.0,123.7 598.0,124.0 C596.0,124.3 593.5,120.7 592.0,118.0 C590.5,115.3 589.0,111.0 589.0,108.0 C589.0,105.0 590.2,101.7 592.0,100.0Z" fill="#ffffff"/>
<path d="M506.0,95.0 C507.1,92.8 510.4,90.7 511.8,89.2 C513.2,87.8 511.5,86.9 514.5,86.3 C517.5,85.7 524.9,85.7 530.0,85.6 C535.1,85.5 539.7,85.8 545.0,85.8 C550.3,85.8 556.4,85.8 562.0,85.6 C567.6,85.4 575.1,84.0 578.8,84.6 C582.5,85.2 582.6,86.9 584.0,89.0 C585.4,91.1 586.0,93.5 587.0,97.0 C588.0,100.5 588.8,105.5 590.0,110.0 C591.2,114.5 592.2,119.8 594.0,124.0 C595.8,128.2 599.3,132.3 601.0,135.0 C602.7,137.7 605.0,138.3 604.3,140.3 C603.6,142.3 598.5,143.7 597.0,147.0 C595.5,150.3 594.5,153.7 595.0,160.0 C595.5,166.3 600.5,180.2 599.7,185.0 C598.9,189.8 593.9,187.8 590.0,188.5 C586.1,189.2 580.2,189.4 576.2,189.0 C572.2,188.6 569.2,187.4 565.7,186.0 C562.2,184.6 558.7,182.4 555.2,180.7 C551.8,179.0 547.0,175.7 545.0,176.0 C543.0,176.3 544.1,180.4 543.4,182.3 C542.7,184.2 542.0,185.8 540.7,187.6 C539.4,189.3 536.9,191.7 535.5,192.8 C534.1,194.0 533.1,195.8 532.2,194.5 C531.3,193.2 530.8,189.1 530.2,184.9 C529.7,180.7 529.5,173.8 528.9,169.2 C528.2,164.6 527.6,160.8 526.3,157.3 C525.0,153.8 522.8,151.2 521.0,148.1 C519.2,145.0 516.9,142.2 515.8,139.0 C514.7,135.8 515.4,131.9 514.5,128.6 C513.6,125.3 511.8,122.5 510.5,119.4 C509.2,116.3 507.5,113.1 506.6,110.2 C505.7,107.3 505.4,104.8 505.3,102.3 C505.2,99.8 504.9,97.2 506.0,95.0Z" fill="#e3eaf8"/>
<path d="M506.0,113.0 C506.2,113.0 510.0,119.2 512.0,121.0 C514.0,122.8 515.8,122.8 518.0,124.0 C520.2,125.2 523.0,125.3 525.0,128.0 C527.0,130.7 528.5,136.3 530.0,140.0 C531.5,143.7 532.3,147.3 534.0,150.0 C535.7,152.7 538.0,156.0 540.0,156.0 C542.0,156.0 543.3,151.3 546.0,150.0 C548.7,148.7 552.7,148.0 556.0,148.0 C559.3,148.0 563.7,148.8 566.0,150.0 C568.3,151.2 570.7,153.0 570.0,155.0 C569.3,157.0 565.0,159.8 562.0,162.0 C559.0,164.2 554.7,166.0 552.0,168.0 C549.3,170.0 547.2,172.0 546.0,174.0 C544.8,176.0 544.9,178.4 544.5,180.0 C544.1,181.6 544.2,182.1 543.6,183.4 C543.0,184.7 542.0,186.4 540.7,188.0 C539.4,189.6 537.3,191.6 536.0,192.8 C534.7,194.0 533.8,196.3 533.0,195.0 C532.2,193.7 531.6,189.2 531.0,184.9 C530.4,180.6 530.3,173.6 529.5,169.0 C528.7,164.4 527.7,160.8 526.3,157.3 C524.9,153.8 522.8,151.2 521.0,148.1 C519.2,145.0 516.9,142.2 515.8,139.0 C514.7,135.8 515.4,131.6 514.5,128.6 C513.6,125.6 511.9,123.6 510.5,121.0 C509.1,118.4 505.8,113.0 506.0,113.0Z" fill="#ccddfc"/>
<path d="M506.0,95.0 C507.1,92.8 510.4,90.7 511.8,89.2 C513.2,87.8 511.5,86.9 514.5,86.3 C517.5,85.7 524.9,85.7 530.0,85.6 C535.1,85.5 540.5,85.8 545.0,85.8 C549.5,85.8 554.3,84.9 557.0,85.6 C559.7,86.3 560.3,87.6 561.0,90.0 C561.7,92.4 561.5,97.4 561.0,100.0 C560.5,102.6 559.5,104.6 558.0,105.5 C556.5,106.4 553.9,104.6 552.0,105.5 C550.1,106.4 548.2,109.4 546.5,111.0 C544.8,112.6 543.2,114.8 541.5,115.0 C539.8,115.2 538.0,113.9 536.5,112.0 C535.0,110.1 534.0,105.8 532.5,103.5 C531.0,101.2 528.9,98.4 527.5,98.5 C526.1,98.6 524.9,101.6 524.0,104.0 C523.1,106.4 522.8,110.2 522.0,113.0 C521.2,115.8 520.2,118.9 519.0,121.0 C517.8,123.1 516.5,125.2 515.0,125.5 C513.5,125.8 511.4,125.2 510.0,123.0 C508.6,120.8 507.4,115.5 506.6,112.0 C505.8,108.5 505.4,105.1 505.3,102.3 C505.2,99.5 504.9,97.2 506.0,95.0Z" fill="#c8efeb"/>
<path d="M527.0,97.5 C528.2,97.0 530.7,98.8 532.0,100.5 C533.3,102.2 533.8,105.2 535.0,107.5 C536.2,109.8 537.7,113.2 539.0,114.5 C540.3,115.8 541.5,116.1 542.8,115.5 C544.1,114.9 545.4,112.8 547.0,111.0 C548.6,109.2 550.5,105.8 552.4,105.0 C554.3,104.2 556.9,104.8 558.5,106.0 C560.1,107.2 561.4,109.6 562.0,112.0 C562.6,114.4 562.8,117.8 562.0,120.5 C561.2,123.2 559.0,125.8 557.0,128.0 C555.0,130.2 551.8,131.8 550.0,133.5 C548.2,135.2 546.8,135.9 546.0,138.0 C545.2,140.1 545.9,143.1 545.5,146.0 C545.1,148.9 544.6,153.0 543.5,155.5 C542.4,158.0 540.3,160.8 539.0,161.0 C537.7,161.2 536.7,159.2 535.8,157.0 C534.9,154.8 535.0,150.8 533.8,147.5 C532.5,144.2 529.6,141.1 528.3,137.5 C527.0,133.9 526.6,130.0 526.0,126.0 C525.4,122.0 524.8,117.2 524.6,113.5 C524.4,109.8 524.2,106.2 524.6,103.5 C525.0,100.8 525.8,98.0 527.0,97.5Z" fill="#f8c6c6"/>
<path d="M557.0,88.0 C558.5,86.0 562.2,85.6 565.0,85.0 C567.8,84.4 571.3,84.3 574.0,84.3 C576.7,84.3 579.2,84.0 581.0,85.0 C582.8,86.0 584.2,88.0 585.0,90.0 C585.8,92.0 586.3,94.5 586.0,97.0 C585.7,99.5 584.5,102.8 583.0,105.0 C581.5,107.2 579.2,108.7 577.0,110.0 C574.8,111.3 572.0,111.5 570.0,113.0 C568.0,114.5 566.7,116.8 565.0,119.0 C563.3,121.2 562.0,123.8 560.0,126.0 C558.0,128.2 555.2,130.7 553.0,132.0 C550.8,133.3 547.8,134.7 547.0,134.0 C546.2,133.3 547.0,130.2 548.0,128.0 C549.0,125.8 551.5,123.5 553.0,121.0 C554.5,118.5 556.3,115.7 557.0,113.0 C557.7,110.3 557.2,107.7 557.0,105.0 C556.8,102.3 556.0,99.8 556.0,97.0 C556.0,94.2 555.5,90.0 557.0,88.0Z" fill="#d9d39d"/>
<path d="M566.0,114.0 C567.8,111.8 569.7,111.2 572.0,110.5 C574.3,109.8 577.5,109.2 580.0,109.5 C582.5,109.8 585.1,110.6 587.0,112.0 C588.9,113.4 590.7,115.7 591.5,118.0 C592.3,120.3 592.9,124.0 592.0,126.0 C591.1,128.0 589.0,129.3 586.0,130.0 C583.0,130.7 577.8,130.3 574.0,130.0 C570.2,129.7 565.2,129.0 563.0,128.0 C560.8,127.0 560.5,126.3 561.0,124.0 C561.5,121.7 564.2,116.2 566.0,114.0Z" fill="#fbd2fb"/>
<path d="M546.0,137.0 C547.1,134.1 549.3,132.2 552.0,130.5 C554.7,128.8 558.3,127.2 562.0,127.0 C565.7,126.8 570.0,128.9 574.0,129.5 C578.0,130.1 582.5,129.9 586.0,130.5 C589.5,131.1 592.3,131.9 595.0,133.0 C597.7,134.1 600.3,135.8 602.0,137.0 C603.7,138.2 605.2,138.9 605.0,140.3 C604.8,141.7 602.8,143.8 601.0,145.5 C599.2,147.2 597.5,149.4 594.0,150.5 C590.5,151.6 584.8,151.8 580.0,152.0 C575.2,152.2 569.7,152.2 565.0,152.0 C560.3,151.8 555.2,151.7 552.0,151.0 C548.8,150.3 546.5,150.3 545.5,148.0 C544.5,145.7 544.9,139.9 546.0,137.0Z" fill="#d8d29b"/>
<path d="M543.5,172.4 C544.7,170.6 548.2,168.7 552.0,166.0 C555.8,163.3 561.3,158.4 566.0,156.0 C570.7,153.6 575.6,152.6 580.0,151.5 C584.4,150.4 589.7,148.9 592.5,149.5 C595.3,150.1 595.8,152.4 597.0,155.0 C598.2,157.6 599.2,161.5 600.0,165.0 C600.8,168.5 602.0,172.9 602.0,176.0 C602.0,179.1 601.9,181.3 600.2,183.4 C598.5,185.5 594.6,187.5 592.0,188.5 C589.4,189.5 587.8,189.6 584.5,189.6 C581.2,189.6 575.4,189.0 572.0,188.5 C568.6,188.0 567.3,187.8 564.0,186.5 C560.7,185.2 555.2,182.6 552.0,181.0 C548.8,179.4 546.4,178.4 545.0,177.0 C543.6,175.6 542.3,174.2 543.5,172.4Z" fill="#fbd1fb"/>
</g>
</g>
<g transform="translate(-38.34,459.28) scale(0.836)">
<g filter="url(#bl)">
<path d="M583.8,95.4 C585.6,93.2 592.0,96.6 597.8,96.8 C603.6,97.0 612.2,97.4 618.7,96.8 C625.2,96.2 632.8,93.1 636.8,93.3 C640.8,93.5 640.5,96.0 642.4,98.2 C644.3,100.4 645.7,103.6 648.0,106.6 C650.3,109.6 653.9,113.3 656.4,116.3 C658.9,119.3 661.8,121.7 662.7,124.7 C663.6,127.7 662.8,131.2 662.0,134.5 C661.2,137.8 659.2,141.0 657.8,144.3 C656.4,147.6 655.6,151.1 653.5,154.1 C651.4,157.1 648.8,160.0 645.1,162.3 C641.4,164.6 635.7,166.1 631.3,168.0 C626.9,169.9 622.2,172.4 618.7,173.6 C615.2,174.8 613.1,175.2 610.3,175.0 C607.5,174.8 604.3,173.8 602.0,172.2 C599.7,170.6 597.7,167.8 596.3,165.2 C594.9,162.6 593.4,159.1 593.6,156.8 C593.9,154.5 596.2,153.1 597.8,151.2 C599.4,149.3 603.1,148.1 603.3,145.6 C603.5,143.1 600.9,139.6 599.0,136.0 C597.1,132.4 594.0,128.3 592.0,124.0 C590.0,119.7 588.4,114.8 587.0,110.0 C585.6,105.2 582.0,97.6 583.8,95.4Z" fill="#e1f8e1"/>
<path d="M604.0,107.0 C605.5,104.8 608.5,103.5 612.0,102.5 C615.5,101.5 621.0,101.8 625.0,101.0 C629.0,100.2 633.2,98.1 636.0,98.0 C638.8,97.9 640.0,99.0 642.0,100.5 C644.0,102.0 645.7,104.3 648.0,107.0 C650.3,109.7 653.7,113.5 656.0,116.5 C658.3,119.5 661.1,122.0 662.0,125.0 C662.9,128.0 662.2,131.3 661.5,134.5 C660.8,137.7 658.9,140.8 657.5,144.0 C656.1,147.2 655.1,151.0 653.0,154.0 C650.9,157.0 647.2,161.3 645.0,162.0 C642.8,162.7 639.8,160.0 640.0,158.0 C640.2,156.0 644.7,152.8 646.0,150.0 C647.3,147.2 648.2,143.7 648.0,141.0 C647.8,138.3 647.0,135.6 645.0,134.0 C643.0,132.4 639.5,132.0 636.0,131.5 C632.5,131.0 628.0,131.2 624.0,131.0 C620.0,130.8 615.2,130.8 612.0,130.0 C608.8,129.2 606.5,128.3 605.0,126.0 C603.5,123.7 603.2,119.2 603.0,116.0 C602.8,112.8 602.5,109.2 604.0,107.0Z" fill="#b9edb9"/>
<path d="M598.0,150.0 C599.9,148.1 602.3,146.3 606.0,145.5 C609.7,144.7 615.3,145.2 620.0,145.0 C624.7,144.8 629.7,144.3 634.0,144.5 C638.3,144.7 643.7,144.8 646.0,146.0 C648.3,147.2 648.3,149.7 648.0,152.0 C647.7,154.3 646.7,157.4 644.0,160.0 C641.3,162.6 636.2,165.3 632.0,167.5 C627.8,169.7 622.6,171.8 619.0,173.0 C615.4,174.2 613.2,174.8 610.5,174.5 C607.8,174.2 604.8,173.2 602.5,171.5 C600.2,169.8 598.3,166.9 597.0,164.5 C595.7,162.1 594.3,159.4 594.5,157.0 C594.7,154.6 596.1,151.9 598.0,150.0Z" fill="#b9edb9"/>
<path d="M600.5,128.0 C602.0,126.1 605.9,126.2 609.0,126.5 C612.1,126.8 615.8,128.1 619.0,129.5 C622.2,130.9 624.2,133.2 628.0,135.0 C631.8,136.8 642.0,139.2 642.0,140.5 C642.0,141.8 632.5,142.3 628.0,143.0 C623.5,143.7 618.8,144.3 615.0,144.5 C611.2,144.7 607.5,145.1 605.0,144.0 C602.5,142.9 600.8,140.7 600.0,138.0 C599.2,135.3 599.0,129.9 600.5,128.0Z" fill="#ffffff"/>
<path d="M611.0,155.0 C611.6,153.8 614.5,153.2 616.0,153.5 C617.5,153.8 619.7,155.6 620.0,157.0 C620.3,158.4 619.2,161.3 618.0,162.0 C616.8,162.7 613.7,162.2 612.5,161.0 C611.3,159.8 610.4,156.2 611.0,155.0Z" fill="#ffffff"/>
<path d="M589.0,97.0 C590.8,95.8 595.5,96.0 598.0,97.0 C600.5,98.0 603.2,100.2 604.0,103.0 C604.8,105.8 603.7,110.5 603.0,114.0 C602.3,117.5 601.5,122.7 600.0,124.0 C598.5,125.3 595.7,124.0 594.0,122.0 C592.3,120.0 591.2,115.0 590.0,112.0 C588.8,109.0 587.2,106.5 587.0,104.0 C586.8,101.5 587.2,98.2 589.0,97.0Z" fill="#ffffff"/>
<path d="M600.0,128.0 C602.5,126.0 607.7,126.0 612.0,126.0 C616.3,126.0 621.7,127.0 626.0,128.0 C630.3,129.0 635.0,130.3 638.0,132.0 C641.0,133.7 643.7,135.7 644.0,138.0 C644.3,140.3 643.0,144.0 640.0,146.0 C637.0,148.0 631.0,149.2 626.0,150.0 C621.0,150.8 614.2,151.3 610.0,151.0 C605.8,150.7 603.2,150.2 601.0,148.0 C598.8,145.8 597.2,141.3 597.0,138.0 C596.8,134.7 597.5,130.0 600.0,128.0Z" fill="#ffffff"/>
<path d="M592.0,100.0 C593.8,98.3 597.7,97.3 600.0,98.0 C602.3,98.7 605.3,101.0 606.0,104.0 C606.7,107.0 605.3,112.7 604.0,116.0 C602.7,119.3 600.0,123.7 598.0,124.0 C596.0,124.3 593.5,120.7 592.0,118.0 C590.5,115.3 589.0,111.0 589.0,108.0 C589.0,105.0 590.2,101.7 592.0,100.0Z" fill="#ffffff"/>
<path d="M506.0,95.0 C507.1,92.8 510.4,90.7 511.8,89.2 C513.2,87.8 511.5,86.9 514.5,86.3 C517.5,85.7 524.9,85.7 530.0,85.6 C535.1,85.5 539.7,85.8 545.0,85.8 C550.3,85.8 556.4,85.8 562.0,85.6 C567.6,85.4 575.1,84.0 578.8,84.6 C582.5,85.2 582.6,86.9 584.0,89.0 C585.4,91.1 586.0,93.5 587.0,97.0 C588.0,100.5 588.8,105.5 590.0,110.0 C591.2,114.5 592.2,119.8 594.0,124.0 C595.8,128.2 599.3,132.3 601.0,135.0 C602.7,137.7 605.0,138.3 604.3,140.3 C603.6,142.3 598.5,143.7 597.0,147.0 C595.5,150.3 594.5,153.7 595.0,160.0 C595.5,166.3 600.5,180.2 599.7,185.0 C598.9,189.8 593.9,187.8 590.0,188.5 C586.1,189.2 580.2,189.4 576.2,189.0 C572.2,188.6 569.2,187.4 565.7,186.0 C562.2,184.6 558.7,182.4 555.2,180.7 C551.8,179.0 547.0,175.7 545.0,176.0 C543.0,176.3 544.1,180.4 543.4,182.3 C542.7,184.2 542.0,185.8 540.7,187.6 C539.4,189.3 536.9,191.7 535.5,192.8 C534.1,194.0 533.1,195.8 532.2,194.5 C531.3,193.2 530.8,189.1 530.2,184.9 C529.7,180.7 529.5,173.8 528.9,169.2 C528.2,164.6 527.6,160.8 526.3,157.3 C525.0,153.8 522.8,151.2 521.0,148.1 C519.2,145.0 516.9,142.2 515.8,139.0 C514.7,135.8 515.4,131.9 514.5,128.6 C513.6,125.3 511.8,122.5 510.5,119.4 C509.2,116.3 507.5,113.1 506.6,110.2 C505.7,107.3 505.4,104.8 505.3,102.3 C505.2,99.8 504.9,97.2 506.0,95.0Z" fill="#e1e9f8"/>
<path d="M506.0,113.0 C506.2,113.0 510.0,119.2 512.0,121.0 C514.0,122.8 515.8,122.8 518.0,124.0 C520.2,125.2 523.0,125.3 525.0,128.0 C527.0,130.7 528.5,136.3 530.0,140.0 C531.5,143.7 532.3,147.3 534.0,150.0 C535.7,152.7 538.0,156.0 540.0,156.0 C542.0,156.0 543.3,151.3 546.0,150.0 C548.7,148.7 552.7,148.0 556.0,148.0 C559.3,148.0 563.7,148.8 566.0,150.0 C568.3,151.2 570.7,153.0 570.0,155.0 C569.3,157.0 565.0,159.8 562.0,162.0 C559.0,164.2 554.7,166.0 552.0,168.0 C549.3,170.0 547.2,172.0 546.0,174.0 C544.8,176.0 544.9,178.4 544.5,180.0 C544.1,181.6 544.2,182.1 543.6,183.4 C543.0,184.7 542.0,186.4 540.7,188.0 C539.4,189.6 537.3,191.6 536.0,192.8 C534.7,194.0 533.8,196.3 533.0,195.0 C532.2,193.7 531.6,189.2 531.0,184.9 C530.4,180.6 530.3,173.6 529.5,169.0 C528.7,164.4 527.7,160.8 526.3,157.3 C524.9,153.8 522.8,151.2 521.0,148.1 C519.2,145.0 516.9,142.2 515.8,139.0 C514.7,135.8 515.4,131.6 514.5,128.6 C513.6,125.6 511.9,123.6 510.5,121.0 C509.1,118.4 505.8,113.0 506.0,113.0Z" fill="#c9dafb"/>
<path d="M506.0,95.0 C507.1,92.8 510.4,90.7 511.8,89.2 C513.2,87.8 511.5,86.9 514.5,86.3 C517.5,85.7 524.9,85.7 530.0,85.6 C535.1,85.5 540.5,85.8 545.0,85.8 C549.5,85.8 554.3,84.9 557.0,85.6 C559.7,86.3 560.3,87.6 561.0,90.0 C561.7,92.4 561.5,97.4 561.0,100.0 C560.5,102.6 559.5,104.6 558.0,105.5 C556.5,106.4 553.9,104.6 552.0,105.5 C550.1,106.4 548.2,109.4 546.5,111.0 C544.8,112.6 543.2,114.8 541.5,115.0 C539.8,115.2 538.0,113.9 536.5,112.0 C535.0,110.1 534.0,105.8 532.5,103.5 C531.0,101.2 528.9,98.4 527.5,98.5 C526.1,98.6 524.9,101.6 524.0,104.0 C523.1,106.4 522.8,110.2 522.0,113.0 C521.2,115.8 520.2,118.9 519.0,121.0 C517.8,123.1 516.5,125.2 515.0,125.5 C513.5,125.8 511.4,125.2 510.0,123.0 C508.6,120.8 507.4,115.5 506.6,112.0 C505.8,108.5 505.4,105.1 505.3,102.3 C505.2,99.5 504.9,97.2 506.0,95.0Z" fill="#c2ede9"/>
<path d="M527.0,97.5 C528.2,97.0 530.7,98.8 532.0,100.5 C533.3,102.2 533.8,105.2 535.0,107.5 C536.2,109.8 537.7,113.2 539.0,114.5 C540.3,115.8 541.5,116.1 542.8,115.5 C544.1,114.9 545.4,112.8 547.0,111.0 C548.6,109.2 550.5,105.8 552.4,105.0 C554.3,104.2 556.9,104.8 558.5,106.0 C560.1,107.2 561.4,109.6 562.0,112.0 C562.6,114.4 562.8,117.8 562.0,120.5 C561.2,123.2 559.0,125.8 557.0,128.0 C555.0,130.2 551.8,131.8 550.0,133.5 C548.2,135.2 546.8,135.9 546.0,138.0 C545.2,140.1 545.9,143.1 545.5,146.0 C545.1,148.9 544.6,153.0 543.5,155.5 C542.4,158.0 540.3,160.8 539.0,161.0 C537.7,161.2 536.7,159.2 535.8,157.0 C534.9,154.8 535.0,150.8 533.8,147.5 C532.5,144.2 529.6,141.1 528.3,137.5 C527.0,133.9 526.6,130.0 526.0,126.0 C525.4,122.0 524.8,117.2 524.6,113.5 C524.4,109.8 524.2,106.2 524.6,103.5 C525.0,100.8 525.8,98.0 527.0,97.5Z" fill="#f9c9c8"/>
<path d="M557.0,88.0 C558.5,86.0 562.2,85.6 565.0,85.0 C567.8,84.4 571.3,84.3 574.0,84.3 C576.7,84.3 579.2,84.0 581.0,85.0 C582.8,86.0 584.2,88.0 585.0,90.0 C585.8,92.0 586.3,94.5 586.0,97.0 C585.7,99.5 584.5,102.8 583.0,105.0 C581.5,107.2 579.2,108.7 577.0,110.0 C574.8,111.3 572.0,111.5 570.0,113.0 C568.0,114.5 566.7,116.8 565.0,119.0 C563.3,121.2 562.0,123.8 560.0,126.0 C558.0,128.2 555.2,130.7 553.0,132.0 C550.8,133.3 547.8,134.7 547.0,134.0 C546.2,133.3 547.0,130.2 548.0,128.0 C549.0,125.8 551.5,123.5 553.0,121.0 C554.5,118.5 556.3,115.7 557.0,113.0 C557.7,110.3 557.2,107.7 557.0,105.0 C556.8,102.3 556.0,99.8 556.0,97.0 C556.0,94.2 555.5,90.0 557.0,88.0Z" fill="#d7d199"/>
<path d="M566.0,114.0 C567.8,111.8 569.7,111.2 572.0,110.5 C574.3,109.8 577.5,109.2 580.0,109.5 C582.5,109.8 585.1,110.6 587.0,112.0 C588.9,113.4 590.7,115.7 591.5,118.0 C592.3,120.3 592.9,124.0 592.0,126.0 C591.1,128.0 589.0,129.3 586.0,130.0 C583.0,130.7 577.8,130.3 574.0,130.0 C570.2,129.7 565.2,129.0 563.0,128.0 C560.8,127.0 560.5,126.3 561.0,124.0 C561.5,121.7 564.2,116.2 566.0,114.0Z" fill="#f9c4f9"/>
<path d="M546.0,137.0 C547.1,134.1 549.3,132.2 552.0,130.5 C554.7,128.8 558.3,127.2 562.0,127.0 C565.7,126.8 570.0,128.9 574.0,129.5 C578.0,130.1 582.5,129.9 586.0,130.5 C589.5,131.1 592.3,131.9 595.0,133.0 C597.7,134.1 600.3,135.8 602.0,137.0 C603.7,138.2 605.2,138.9 605.0,140.3 C604.8,141.7 602.8,143.8 601.0,145.5 C599.2,147.2 597.5,149.4 594.0,150.5 C590.5,151.6 584.8,151.8 580.0,152.0 C575.2,152.2 569.7,152.2 565.0,152.0 C560.3,151.8 555.2,151.7 552.0,151.0 C548.8,150.3 546.5,150.3 545.5,148.0 C544.5,145.7 544.9,139.9 546.0,137.0Z" fill="#d6d097"/>
<path d="M543.5,172.4 C544.7,170.6 548.2,168.7 552.0,166.0 C555.8,163.3 561.3,158.4 566.0,156.0 C570.7,153.6 575.6,152.6 580.0,151.5 C584.4,150.4 589.7,148.9 592.5,149.5 C595.3,150.1 595.8,152.4 597.0,155.0 C598.2,157.6 599.2,161.5 600.0,165.0 C600.8,168.5 602.0,172.9 602.0,176.0 C602.0,179.1 601.9,181.3 600.2,183.4 C598.5,185.5 594.6,187.5 592.0,188.5 C589.4,189.5 587.8,189.6 584.5,189.6 C581.2,189.6 575.4,189.0 572.0,188.5 C568.6,188.0 567.3,187.8 564.0,186.5 C560.7,185.2 555.2,182.6 552.0,181.0 C548.8,179.4 546.4,178.4 545.0,177.0 C543.6,175.6 542.3,174.2 543.5,172.4Z" fill="#f9c1f9"/>
</g>
</g>
<g transform="translate(-354.94,583.28) scale(0.836)">
<g filter="url(#bl)">
<path d="M583.8,95.4 C585.6,93.2 592.0,96.6 597.8,96.8 C603.6,97.0 612.2,97.4 618.7,96.8 C625.2,96.2 632.8,93.1 636.8,93.3 C640.8,93.5 640.5,96.0 642.4,98.2 C644.3,100.4 645.7,103.6 648.0,106.6 C650.3,109.6 653.9,113.3 656.4,116.3 C658.9,119.3 661.8,121.7 662.7,124.7 C663.6,127.7 662.8,131.2 662.0,134.5 C661.2,137.8 659.2,141.0 657.8,144.3 C656.4,147.6 655.6,151.1 653.5,154.1 C651.4,157.1 648.8,160.0 645.1,162.3 C641.4,164.6 635.7,166.1 631.3,168.0 C626.9,169.9 622.2,172.4 618.7,173.6 C615.2,174.8 613.1,175.2 610.3,175.0 C607.5,174.8 604.3,173.8 602.0,172.2 C599.7,170.6 597.7,167.8 596.3,165.2 C594.9,162.6 593.4,159.1 593.6,156.8 C593.9,154.5 596.2,153.1 597.8,151.2 C599.4,149.3 603.1,148.1 603.3,145.6 C603.5,143.1 600.9,139.6 599.0,136.0 C597.1,132.4 594.0,128.3 592.0,124.0 C590.0,119.7 588.4,114.8 587.0,110.0 C585.6,105.2 582.0,97.6 583.8,95.4Z" fill="#e3f8e3"/>
<path d="M604.0,107.0 C605.5,104.8 608.5,103.5 612.0,102.5 C615.5,101.5 621.0,101.8 625.0,101.0 C629.0,100.2 633.2,98.1 636.0,98.0 C638.8,97.9 640.0,99.0 642.0,100.5 C644.0,102.0 645.7,104.3 648.0,107.0 C650.3,109.7 653.7,113.5 656.0,116.5 C658.3,119.5 661.1,122.0 662.0,125.0 C662.9,128.0 662.2,131.3 661.5,134.5 C660.8,137.7 658.9,140.8 657.5,144.0 C656.1,147.2 655.1,151.0 653.0,154.0 C650.9,157.0 647.2,161.3 645.0,162.0 C642.8,162.7 639.8,160.0 640.0,158.0 C640.2,156.0 644.7,152.8 646.0,150.0 C647.3,147.2 648.2,143.7 648.0,141.0 C647.8,138.3 647.0,135.6 645.0,134.0 C643.0,132.4 639.5,132.0 636.0,131.5 C632.5,131.0 628.0,131.2 624.0,131.0 C620.0,130.8 615.2,130.8 612.0,130.0 C608.8,129.2 606.5,128.3 605.0,126.0 C603.5,123.7 603.2,119.2 603.0,116.0 C602.8,112.8 602.5,109.2 604.0,107.0Z" fill="#bceebc"/>
<path d="M598.0,150.0 C599.9,148.1 602.3,146.3 606.0,145.5 C609.7,144.7 615.3,145.2 620.0,145.0 C624.7,144.8 629.7,144.3 634.0,144.5 C638.3,144.7 643.7,144.8 646.0,146.0 C648.3,147.2 648.3,149.7 648.0,152.0 C647.7,154.3 646.7,157.4 644.0,160.0 C641.3,162.6 636.2,165.3 632.0,167.5 C627.8,169.7 622.6,171.8 619.0,173.0 C615.4,174.2 613.2,174.8 610.5,174.5 C607.8,174.2 604.8,173.2 602.5,171.5 C600.2,169.8 598.3,166.9 597.0,164.5 C595.7,162.1 594.3,159.4 594.5,157.0 C594.7,154.6 596.1,151.9 598.0,150.0Z" fill="#bceebc"/>
<path d="M600.5,128.0 C602.0,126.1 605.9,126.2 609.0,126.5 C612.1,126.8 615.8,128.1 619.0,129.5 C622.2,130.9 624.2,133.2 628.0,135.0 C631.8,136.8 642.0,139.2 642.0,140.5 C642.0,141.8 632.5,142.3 628.0,143.0 C623.5,143.7 618.8,144.3 615.0,144.5 C611.2,144.7 607.5,145.1 605.0,144.0 C602.5,142.9 600.8,140.7 600.0,138.0 C599.2,135.3 599.0,129.9 600.5,128.0Z" fill="#ffffff"/>
<path d="M611.0,155.0 C611.6,153.8 614.5,153.2 616.0,153.5 C617.5,153.8 619.7,155.6 620.0,157.0 C620.3,158.4 619.2,161.3 618.0,162.0 C616.8,162.7 613.7,162.2 612.5,161.0 C611.3,159.8 610.4,156.2 611.0,155.0Z" fill="#ffffff"/>
<path d="M589.0,97.0 C590.8,95.8 595.5,96.0 598.0,97.0 C600.5,98.0 603.2,100.2 604.0,103.0 C604.8,105.8 603.7,110.5 603.0,114.0 C602.3,117.5 601.5,122.7 600.0,124.0 C598.5,125.3 595.7,124.0 594.0,122.0 C592.3,120.0 591.2,115.0 590.0,112.0 C588.8,109.0 587.2,106.5 587.0,104.0 C586.8,101.5 587.2,98.2 589.0,97.0Z" fill="#ffffff"/>
<path d="M600.0,128.0 C602.5,126.0 607.7,126.0 612.0,126.0 C616.3,126.0 621.7,127.0 626.0,128.0 C630.3,129.0 635.0,130.3 638.0,132.0 C641.0,133.7 643.7,135.7 644.0,138.0 C644.3,140.3 643.0,144.0 640.0,146.0 C637.0,148.0 631.0,149.2 626.0,150.0 C621.0,150.8 614.2,151.3 610.0,151.0 C605.8,150.7 603.2,150.2 601.0,148.0 C598.8,145.8 597.2,141.3 597.0,138.0 C596.8,134.7 597.5,130.0 600.0,128.0Z" fill="#ffffff"/>
<path d="M592.0,100.0 C593.8,98.3 597.7,97.3 600.0,98.0 C602.3,98.7 605.3,101.0 606.0,104.0 C606.7,107.0 605.3,112.7 604.0,116.0 C602.7,119.3 600.0,123.7 598.0,124.0 C596.0,124.3 593.5,120.7 592.0,118.0 C590.5,115.3 589.0,111.0 589.0,108.0 C589.0,105.0 590.2,101.7 592.0,100.0Z" fill="#ffffff"/>
<path d="M506.0,95.0 C507.1,92.8 510.4,90.7 511.8,89.2 C513.2,87.8 511.5,86.9 514.5,86.3 C517.5,85.7 524.9,85.7 530.0,85.6 C535.1,85.5 539.7,85.8 545.0,85.8 C550.3,85.8 556.4,85.8 562.0,85.6 C567.6,85.4 575.1,84.0 578.8,84.6 C582.5,85.2 582.6,86.9 584.0,89.0 C585.4,91.1 586.0,93.5 587.0,97.0 C588.0,100.5 588.8,105.5 590.0,110.0 C591.2,114.5 592.2,119.8 594.0,124.0 C595.8,128.2 599.3,132.3 601.0,135.0 C602.7,137.7 605.0,138.3 604.3,140.3 C603.6,142.3 598.5,143.7 597.0,147.0 C595.5,150.3 594.5,153.7 595.0,160.0 C595.5,166.3 600.5,180.2 599.7,185.0 C598.9,189.8 593.9,187.8 590.0,188.5 C586.1,189.2 580.2,189.4 576.2,189.0 C572.2,188.6 569.2,187.4 565.7,186.0 C562.2,184.6 558.7,182.4 555.2,180.7 C551.8,179.0 547.0,175.7 545.0,176.0 C543.0,176.3 544.1,180.4 543.4,182.3 C542.7,184.2 542.0,185.8 540.7,187.6 C539.4,189.3 536.9,191.7 535.5,192.8 C534.1,194.0 533.1,195.8 532.2,194.5 C531.3,193.2 530.8,189.1 530.2,184.9 C529.7,180.7 529.5,173.8 528.9,169.2 C528.2,164.6 527.6,160.8 526.3,157.3 C525.0,153.8 522.8,151.2 521.0,148.1 C519.2,145.0 516.9,142.2 515.8,139.0 C514.7,135.8 515.4,131.9 514.5,128.6 C513.6,125.3 511.8,122.5 510.5,119.4 C509.2,116.3 507.5,113.1 506.6,110.2 C505.7,107.3 505.4,104.8 505.3,102.3 C505.2,99.8 504.9,97.2 506.0,95.0Z" fill="#e1e9f8"/>
<path d="M506.0,113.0 C506.2,113.0 510.0,119.2 512.0,121.0 C514.0,122.8 515.8,122.8 518.0,124.0 C520.2,125.2 523.0,125.3 525.0,128.0 C527.0,130.7 528.5,136.3 530.0,140.0 C531.5,143.7 532.3,147.3 534.0,150.0 C535.7,152.7 538.0,156.0 540.0,156.0 C542.0,156.0 543.3,151.3 546.0,150.0 C548.7,148.7 552.7,148.0 556.0,148.0 C559.3,148.0 563.7,148.8 566.0,150.0 C568.3,151.2 570.7,153.0 570.0,155.0 C569.3,157.0 565.0,159.8 562.0,162.0 C559.0,164.2 554.7,166.0 552.0,168.0 C549.3,170.0 547.2,172.0 546.0,174.0 C544.8,176.0 544.9,178.4 544.5,180.0 C544.1,181.6 544.2,182.1 543.6,183.4 C543.0,184.7 542.0,186.4 540.7,188.0 C539.4,189.6 537.3,191.6 536.0,192.8 C534.7,194.0 533.8,196.3 533.0,195.0 C532.2,193.7 531.6,189.2 531.0,184.9 C530.4,180.6 530.3,173.6 529.5,169.0 C528.7,164.4 527.7,160.8 526.3,157.3 C524.9,153.8 522.8,151.2 521.0,148.1 C519.2,145.0 516.9,142.2 515.8,139.0 C514.7,135.8 515.4,131.6 514.5,128.6 C513.6,125.6 511.9,123.6 510.5,121.0 C509.1,118.4 505.8,113.0 506.0,113.0Z" fill="#b7cefa"/>
<path d="M506.0,95.0 C507.1,92.8 510.4,90.7 511.8,89.2 C513.2,87.8 511.5,86.9 514.5,86.3 C517.5,85.7 524.9,85.7 530.0,85.6 C535.1,85.5 540.5,85.8 545.0,85.8 C549.5,85.8 554.3,84.9 557.0,85.6 C559.7,86.3 560.3,87.6 561.0,90.0 C561.7,92.4 561.5,97.4 561.0,100.0 C560.5,102.6 559.5,104.6 558.0,105.5 C556.5,106.4 553.9,104.6 552.0,105.5 C550.1,106.4 548.2,109.4 546.5,111.0 C544.8,112.6 543.2,114.8 541.5,115.0 C539.8,115.2 538.0,113.9 536.5,112.0 C535.0,110.1 534.0,105.8 532.5,103.5 C531.0,101.2 528.9,98.4 527.5,98.5 C526.1,98.6 524.9,101.6 524.0,104.0 C523.1,106.4 522.8,110.2 522.0,113.0 C521.2,115.8 520.2,118.9 519.0,121.0 C517.8,123.1 516.5,125.2 515.0,125.5 C513.5,125.8 511.4,125.2 510.0,123.0 C508.6,120.8 507.4,115.5 506.6,112.0 C505.8,108.5 505.4,105.1 505.3,102.3 C505.2,99.5 504.9,97.2 506.0,95.0Z" fill="#ccf0ec"/>
<path d="M527.0,97.5 C528.2,97.0 530.7,98.8 532.0,100.5 C533.3,102.2 533.8,105.2 535.0,107.5 C536.2,109.8 537.7,113.2 539.0,114.5 C540.3,115.8 541.5,116.1 542.8,115.5 C544.1,114.9 545.4,112.8 547.0,111.0 C548.6,109.2 550.5,105.8 552.4,105.0 C554.3,104.2 556.9,104.8 558.5,106.0 C560.1,107.2 561.4,109.6 562.0,112.0 C562.6,114.4 562.8,117.8 562.0,120.5 C561.2,123.2 559.0,125.8 557.0,128.0 C555.0,130.2 551.8,131.8 550.0,133.5 C548.2,135.2 546.8,135.9 546.0,138.0 C545.2,140.1 545.9,143.1 545.5,146.0 C545.1,148.9 544.6,153.0 543.5,155.5 C542.4,158.0 540.3,160.8 539.0,161.0 C537.7,161.2 536.7,159.2 535.8,157.0 C534.9,154.8 535.0,150.8 533.8,147.5 C532.5,144.2 529.6,141.1 528.3,137.5 C527.0,133.9 526.6,130.0 526.0,126.0 C525.4,122.0 524.8,117.2 524.6,113.5 C524.4,109.8 524.2,106.2 524.6,103.5 C525.0,100.8 525.8,98.0 527.0,97.5Z" fill="#fad8d7"/>
<path d="M557.0,88.0 C558.5,86.0 562.2,85.6 565.0,85.0 C567.8,84.4 571.3,84.3 574.0,84.3 C576.7,84.3 579.2,84.0 581.0,85.0 C582.8,86.0 584.2,88.0 585.0,90.0 C585.8,92.0 586.3,94.5 586.0,97.0 C585.7,99.5 584.5,102.8 583.0,105.0 C581.5,107.2 579.2,108.7 577.0,110.0 C574.8,111.3 572.0,111.5 570.0,113.0 C568.0,114.5 566.7,116.8 565.0,119.0 C563.3,121.2 562.0,123.8 560.0,126.0 C558.0,128.2 555.2,130.7 553.0,132.0 C550.8,133.3 547.8,134.7 547.0,134.0 C546.2,133.3 547.0,130.2 548.0,128.0 C549.0,125.8 551.5,123.5 553.0,121.0 C554.5,118.5 556.3,115.7 557.0,113.0 C557.7,110.3 557.2,107.7 557.0,105.0 C556.8,102.3 556.0,99.8 556.0,97.0 C556.0,94.2 555.5,90.0 557.0,88.0Z" fill="#d0c887"/>
<path d="M566.0,114.0 C567.8,111.8 569.7,111.2 572.0,110.5 C574.3,109.8 577.5,109.2 580.0,109.5 C582.5,109.8 585.1,110.6 587.0,112.0 C588.9,113.4 590.7,115.7 591.5,118.0 C592.3,120.3 592.9,124.0 592.0,126.0 C591.1,128.0 589.0,129.3 586.0,130.0 C583.0,130.7 577.8,130.3 574.0,130.0 C570.2,129.7 565.2,129.0 563.0,128.0 C560.8,127.0 560.5,126.3 561.0,124.0 C561.5,121.7 564.2,116.2 566.0,114.0Z" fill="#fac5fa"/>
<path d="M546.0,137.0 C547.1,134.1 549.3,132.2 552.0,130.5 C554.7,128.8 558.3,127.2 562.0,127.0 C565.7,126.8 570.0,128.9 574.0,129.5 C578.0,130.1 582.5,129.9 586.0,130.5 C589.5,131.1 592.3,131.9 595.0,133.0 C597.7,134.1 600.3,135.8 602.0,137.0 C603.7,138.2 605.2,138.9 605.0,140.3 C604.8,141.7 602.8,143.8 601.0,145.5 C599.2,147.2 597.5,149.4 594.0,150.5 C590.5,151.6 584.8,151.8 580.0,152.0 C575.2,152.2 569.7,152.2 565.0,152.0 C560.3,151.8 555.2,151.7 552.0,151.0 C548.8,150.3 546.5,150.3 545.5,148.0 C544.5,145.7 544.9,139.9 546.0,137.0Z" fill="#cfc784"/>
<path d="M543.5,172.4 C544.7,170.6 548.2,168.7 552.0,166.0 C555.8,163.3 561.3,158.4 566.0,156.0 C570.7,153.6 575.6,152.6 580.0,151.5 C584.4,150.4 589.7,148.9 592.5,149.5 C595.3,150.1 595.8,152.4 597.0,155.0 C598.2,157.6 599.2,161.5 600.0,165.0 C600.8,168.5 602.0,172.9 602.0,176.0 C602.0,179.1 601.9,181.3 600.2,183.4 C598.5,185.5 594.6,187.5 592.0,188.5 C589.4,189.5 587.8,189.6 584.5,189.6 C581.2,189.6 575.4,189.0 572.0,188.5 C568.6,188.0 567.3,187.8 564.0,186.5 C560.7,185.2 555.2,182.6 552.0,181.0 C548.8,179.4 546.4,178.4 545.0,177.0 C543.6,175.6 542.3,174.2 543.5,172.4Z" fill="#f9c3f9"/>
</g>
</g>
<g transform="translate(-196.54,583.28) scale(0.836)">
<g filter="url(#bl)">
<path d="M583.8,95.4 C585.6,93.2 592.0,96.6 597.8,96.8 C603.6,97.0 612.2,97.4 618.7,96.8 C625.2,96.2 632.8,93.1 636.8,93.3 C640.8,93.5 640.5,96.0 642.4,98.2 C644.3,100.4 645.7,103.6 648.0,106.6 C650.3,109.6 653.9,113.3 656.4,116.3 C658.9,119.3 661.8,121.7 662.7,124.7 C663.6,127.7 662.8,131.2 662.0,134.5 C661.2,137.8 659.2,141.0 657.8,144.3 C656.4,147.6 655.6,151.1 653.5,154.1 C651.4,157.1 648.8,160.0 645.1,162.3 C641.4,164.6 635.7,166.1 631.3,168.0 C626.9,169.9 622.2,172.4 618.7,173.6 C615.2,174.8 613.1,175.2 610.3,175.0 C607.5,174.8 604.3,173.8 602.0,172.2 C599.7,170.6 597.7,167.8 596.3,165.2 C594.9,162.6 593.4,159.1 593.6,156.8 C593.9,154.5 596.2,153.1 597.8,151.2 C599.4,149.3 603.1,148.1 603.3,145.6 C603.5,143.1 600.9,139.6 599.0,136.0 C597.1,132.4 594.0,128.3 592.0,124.0 C590.0,119.7 588.4,114.8 587.0,110.0 C585.6,105.2 582.0,97.6 583.8,95.4Z" fill="#e7f9e7"/>
<path d="M604.0,107.0 C605.5,104.8 608.5,103.5 612.0,102.5 C615.5,101.5 621.0,101.8 625.0,101.0 C629.0,100.2 633.2,98.1 636.0,98.0 C638.8,97.9 640.0,99.0 642.0,100.5 C644.0,102.0 645.7,104.3 648.0,107.0 C650.3,109.7 653.7,113.5 656.0,116.5 C658.3,119.5 661.1,122.0 662.0,125.0 C662.9,128.0 662.2,131.3 661.5,134.5 C660.8,137.7 658.9,140.8 657.5,144.0 C656.1,147.2 655.1,151.0 653.0,154.0 C650.9,157.0 647.2,161.3 645.0,162.0 C642.8,162.7 639.8,160.0 640.0,158.0 C640.2,156.0 644.7,152.8 646.0,150.0 C647.3,147.2 648.2,143.7 648.0,141.0 C647.8,138.3 647.0,135.6 645.0,134.0 C643.0,132.4 639.5,132.0 636.0,131.5 C632.5,131.0 628.0,131.2 624.0,131.0 C620.0,130.8 615.2,130.8 612.0,130.0 C608.8,129.2 606.5,128.3 605.0,126.0 C603.5,123.7 603.2,119.2 603.0,116.0 C602.8,112.8 602.5,109.2 604.0,107.0Z" fill="#c6f1c6"/>
<path d="M598.0,150.0 C599.9,148.1 602.3,146.3 606.0,145.5 C609.7,144.7 615.3,145.2 620.0,145.0 C624.7,144.8 629.7,144.3 634.0,144.5 C638.3,144.7 643.7,144.8 646.0,146.0 C648.3,147.2 648.3,149.7 648.0,152.0 C647.7,154.3 646.7,157.4 644.0,160.0 C641.3,162.6 636.2,165.3 632.0,167.5 C627.8,169.7 622.6,171.8 619.0,173.0 C615.4,174.2 613.2,174.8 610.5,174.5 C607.8,174.2 604.8,173.2 602.5,171.5 C600.2,169.8 598.3,166.9 597.0,164.5 C595.7,162.1 594.3,159.4 594.5,157.0 C594.7,154.6 596.1,151.9 598.0,150.0Z" fill="#c6f1c6"/>
<path d="M600.5,128.0 C602.0,126.1 605.9,126.2 609.0,126.5 C612.1,126.8 615.8,128.1 619.0,129.5 C622.2,130.9 624.2,133.2 628.0,135.0 C631.8,136.8 642.0,139.2 642.0,140.5 C642.0,141.8 632.5,142.3 628.0,143.0 C623.5,143.7 618.8,144.3 615.0,144.5 C611.2,144.7 607.5,145.1 605.0,144.0 C602.5,142.9 600.8,140.7 600.0,138.0 C599.2,135.3 599.0,129.9 600.5,128.0Z" fill="#ffffff"/>
<path d="M611.0,155.0 C611.6,153.8 614.5,153.2 616.0,153.5 C617.5,153.8 619.7,155.6 620.0,157.0 C620.3,158.4 619.2,161.3 618.0,162.0 C616.8,162.7 613.7,162.2 612.5,161.0 C611.3,159.8 610.4,156.2 611.0,155.0Z" fill="#ffffff"/>
<path d="M589.0,97.0 C590.8,95.8 595.5,96.0 598.0,97.0 C600.5,98.0 603.2,100.2 604.0,103.0 C604.8,105.8 603.7,110.5 603.0,114.0 C602.3,117.5 601.5,122.7 600.0,124.0 C598.5,125.3 595.7,124.0 594.0,122.0 C592.3,120.0 591.2,115.0 590.0,112.0 C588.8,109.0 587.2,106.5 587.0,104.0 C586.8,101.5 587.2,98.2 589.0,97.0Z" fill="#ffffff"/>
<path d="M600.0,128.0 C602.5,126.0 607.7,126.0 612.0,126.0 C616.3,126.0 621.7,127.0 626.0,128.0 C630.3,129.0 635.0,130.3 638.0,132.0 C641.0,133.7 643.7,135.7 644.0,138.0 C644.3,140.3 643.0,144.0 640.0,146.0 C637.0,148.0 631.0,149.2 626.0,150.0 C621.0,150.8 614.2,151.3 610.0,151.0 C605.8,150.7 603.2,150.2 601.0,148.0 C598.8,145.8 597.2,141.3 597.0,138.0 C596.8,134.7 597.5,130.0 600.0,128.0Z" fill="#ffffff"/>
<path d="M592.0,100.0 C593.8,98.3 597.7,97.3 600.0,98.0 C602.3,98.7 605.3,101.0 606.0,104.0 C606.7,107.0 605.3,112.7 604.0,116.0 C602.7,119.3 600.0,123.7 598.0,124.0 C596.0,124.3 593.5,120.7 592.0,118.0 C590.5,115.3 589.0,111.0 589.0,108.0 C589.0,105.0 590.2,101.7 592.0,100.0Z" fill="#ffffff"/>
<path d="M506.0,95.0 C507.1,92.8 510.4,90.7 511.8,89.2 C513.2,87.8 511.5,86.9 514.5,86.3 C517.5,85.7 524.9,85.7 530.0,85.6 C535.1,85.5 539.7,85.8 545.0,85.8 C550.3,85.8 556.4,85.8 562.0,85.6 C567.6,85.4 575.1,84.0 578.8,84.6 C582.5,85.2 582.6,86.9 584.0,89.0 C585.4,91.1 586.0,93.5 587.0,97.0 C588.0,100.5 588.8,105.5 590.0,110.0 C591.2,114.5 592.2,119.8 594.0,124.0 C595.8,128.2 599.3,132.3 601.0,135.0 C602.7,137.7 605.0,138.3 604.3,140.3 C603.6,142.3 598.5,143.7 597.0,147.0 C595.5,150.3 594.5,153.7 595.0,160.0 C595.5,166.3 600.5,180.2 599.7,185.0 C598.9,189.8 593.9,187.8 590.0,188.5 C586.1,189.2 580.2,189.4 576.2,189.0 C572.2,188.6 569.2,187.4 565.7,186.0 C562.2,184.6 558.7,182.4 555.2,180.7 C551.8,179.0 547.0,175.7 545.0,176.0 C543.0,176.3 544.1,180.4 543.4,182.3 C542.7,184.2 542.0,185.8 540.7,187.6 C539.4,189.3 536.9,191.7 535.5,192.8 C534.1,194.0 533.1,195.8 532.2,194.5 C531.3,193.2 530.8,189.1 530.2,184.9 C529.7,180.7 529.5,173.8 528.9,169.2 C528.2,164.6 527.6,160.8 526.3,157.3 C525.0,153.8 522.8,151.2 521.0,148.1 C519.2,145.0 516.9,142.2 515.8,139.0 C514.7,135.8 515.4,131.9 514.5,128.6 C513.6,125.3 511.8,122.5 510.5,119.4 C509.2,116.3 507.5,113.1 506.6,110.2 C505.7,107.3 505.4,104.8 505.3,102.3 C505.2,99.8 504.9,97.2 506.0,95.0Z" fill="#e1e9f8"/>
<path d="M506.0,113.0 C506.2,113.0 510.0,119.2 512.0,121.0 C514.0,122.8 515.8,122.8 518.0,124.0 C520.2,125.2 523.0,125.3 525.0,128.0 C527.0,130.7 528.5,136.3 530.0,140.0 C531.5,143.7 532.3,147.3 534.0,150.0 C535.7,152.7 538.0,156.0 540.0,156.0 C542.0,156.0 543.3,151.3 546.0,150.0 C548.7,148.7 552.7,148.0 556.0,148.0 C559.3,148.0 563.7,148.8 566.0,150.0 C568.3,151.2 570.7,153.0 570.0,155.0 C569.3,157.0 565.0,159.8 562.0,162.0 C559.0,164.2 554.7,166.0 552.0,168.0 C549.3,170.0 547.2,172.0 546.0,174.0 C544.8,176.0 544.9,178.4 544.5,180.0 C544.1,181.6 544.2,182.1 543.6,183.4 C543.0,184.7 542.0,186.4 540.7,188.0 C539.4,189.6 537.3,191.6 536.0,192.8 C534.7,194.0 533.8,196.3 533.0,195.0 C532.2,193.7 531.6,189.2 531.0,184.9 C530.4,180.6 530.3,173.6 529.5,169.0 C528.7,164.4 527.7,160.8 526.3,157.3 C524.9,153.8 522.8,151.2 521.0,148.1 C519.2,145.0 516.9,142.2 515.8,139.0 C514.7,135.8 515.4,131.6 514.5,128.6 C513.6,125.6 511.9,123.6 510.5,121.0 C509.1,118.4 505.8,113.0 506.0,113.0Z" fill="#bed3fb"/>
<path d="M506.0,95.0 C507.1,92.8 510.4,90.7 511.8,89.2 C513.2,87.8 511.5,86.9 514.5,86.3 C517.5,85.7 524.9,85.7 530.0,85.6 C535.1,85.5 540.5,85.8 545.0,85.8 C549.5,85.8 554.3,84.9 557.0,85.6 C559.7,86.3 560.3,87.6 561.0,90.0 C561.7,92.4 561.5,97.4 561.0,100.0 C560.5,102.6 559.5,104.6 558.0,105.5 C556.5,106.4 553.9,104.6 552.0,105.5 C550.1,106.4 548.2,109.4 546.5,111.0 C544.8,112.6 543.2,114.8 541.5,115.0 C539.8,115.2 538.0,113.9 536.5,112.0 C535.0,110.1 534.0,105.8 532.5,103.5 C531.0,101.2 528.9,98.4 527.5,98.5 C526.1,98.6 524.9,101.6 524.0,104.0 C523.1,106.4 522.8,110.2 522.0,113.0 C521.2,115.8 520.2,118.9 519.0,121.0 C517.8,123.1 516.5,125.2 515.0,125.5 C513.5,125.8 511.4,125.2 510.0,123.0 C508.6,120.8 507.4,115.5 506.6,112.0 C505.8,108.5 505.4,105.1 505.3,102.3 C505.2,99.5 504.9,97.2 506.0,95.0Z" fill="#c8efeb"/>
<path d="M527.0,97.5 C528.2,97.0 530.7,98.8 532.0,100.5 C533.3,102.2 533.8,105.2 535.0,107.5 C536.2,109.8 537.7,113.2 539.0,114.5 C540.3,115.8 541.5,116.1 542.8,115.5 C544.1,114.9 545.4,112.8 547.0,111.0 C548.6,109.2 550.5,105.8 552.4,105.0 C554.3,104.2 556.9,104.8 558.5,106.0 C560.1,107.2 561.4,109.6 562.0,112.0 C562.6,114.4 562.8,117.8 562.0,120.5 C561.2,123.2 559.0,125.8 557.0,128.0 C555.0,130.2 551.8,131.8 550.0,133.5 C548.2,135.2 546.8,135.9 546.0,138.0 C545.2,140.1 545.9,143.1 545.5,146.0 C545.1,148.9 544.6,153.0 543.5,155.5 C542.4,158.0 540.3,160.8 539.0,161.0 C537.7,161.2 536.7,159.2 535.8,157.0 C534.9,154.8 535.0,150.8 533.8,147.5 C532.5,144.2 529.6,141.1 528.3,137.5 C527.0,133.9 526.6,130.0 526.0,126.0 C525.4,122.0 524.8,117.2 524.6,113.5 C524.4,109.8 524.2,106.2 524.6,103.5 C525.0,100.8 525.8,98.0 527.0,97.5Z" fill="#fad8d7"/>
<path d="M557.0,88.0 C558.5,86.0 562.2,85.6 565.0,85.0 C567.8,84.4 571.3,84.3 574.0,84.3 C576.7,84.3 579.2,84.0 581.0,85.0 C582.8,86.0 584.2,88.0 585.0,90.0 C585.8,92.0 586.3,94.5 586.0,97.0 C585.7,99.5 584.5,102.8 583.0,105.0 C581.5,107.2 579.2,108.7 577.0,110.0 C574.8,111.3 572.0,111.5 570.0,113.0 C568.0,114.5 566.7,116.8 565.0,119.0 C563.3,121.2 562.0,123.8 560.0,126.0 C558.0,128.2 555.2,130.7 553.0,132.0 C550.8,133.3 547.8,134.7 547.0,134.0 C546.2,133.3 547.0,130.2 548.0,128.0 C549.0,125.8 551.5,123.5 553.0,121.0 C554.5,118.5 556.3,115.7 557.0,113.0 C557.7,110.3 557.2,107.7 557.0,105.0 C556.8,102.3 556.0,99.8 556.0,97.0 C556.0,94.2 555.5,90.0 557.0,88.0Z" fill="#d0c887"/>
<path d="M566.0,114.0 C567.8,111.8 569.7,111.2 572.0,110.5 C574.3,109.8 577.5,109.2 580.0,109.5 C582.5,109.8 585.1,110.6 587.0,112.0 C588.9,113.4 590.7,115.7 591.5,118.0 C592.3,120.3 592.9,124.0 592.0,126.0 C591.1,128.0 589.0,129.3 586.0,130.0 C583.0,130.7 577.8,130.3 574.0,130.0 C570.2,129.7 565.2,129.0 563.0,128.0 C560.8,127.0 560.5,126.3 561.0,124.0 C561.5,121.7 564.2,116.2 566.0,114.0Z" fill="#f9bbf9"/>
<path d="M546.0,137.0 C547.1,134.1 549.3,132.2 552.0,130.5 C554.7,128.8 558.3,127.2 562.0,127.0 C565.7,126.8 570.0,128.9 574.0,129.5 C578.0,130.1 582.5,129.9 586.0,130.5 C589.5,131.1 592.3,131.9 595.0,133.0 C597.7,134.1 600.3,135.8 602.0,137.0 C603.7,138.2 605.2,138.9 605.0,140.3 C604.8,141.7 602.8,143.8 601.0,145.5 C599.2,147.2 597.5,149.4 594.0,150.5 C590.5,151.6 584.8,151.8 580.0,152.0 C575.2,152.2 569.7,152.2 565.0,152.0 C560.3,151.8 555.2,151.7 552.0,151.0 C548.8,150.3 546.5,150.3 545.5,148.0 C544.5,145.7 544.9,139.9 546.0,137.0Z" fill="#cfc784"/>
<path d="M543.5,172.4 C544.7,170.6 548.2,168.7 552.0,166.0 C555.8,163.3 561.3,158.4 566.0,156.0 C570.7,153.6 575.6,152.6 580.0,151.5 C584.4,150.4 589.7,148.9 592.5,149.5 C595.3,150.1 595.8,152.4 597.0,155.0 C598.2,157.6 599.2,161.5 600.0,165.0 C600.8,168.5 602.0,172.9 602.0,176.0 C602.0,179.1 601.9,181.3 600.2,183.4 C598.5,185.5 594.6,187.5 592.0,188.5 C589.4,189.5 587.8,189.6 584.5,189.6 C581.2,189.6 575.4,189.0 572.0,188.5 C568.6,188.0 567.3,187.8 564.0,186.5 C560.7,185.2 555.2,182.6 552.0,181.0 C548.8,179.4 546.4,178.4 545.0,177.0 C543.6,175.6 542.3,174.2 543.5,172.4Z" fill="#f8b9f8"/>
</g>
</g>
<g transform="translate(-38.54,583.28) scale(0.836)">
<g filter="url(#bl)">
<path d="M583.8,95.4 C585.6,93.2 592.0,96.6 597.8,96.8 C603.6,97.0 612.2,97.4 618.7,96.8 C625.2,96.2 632.8,93.1 636.8,93.3 C640.8,93.5 640.5,96.0 642.4,98.2 C644.3,100.4 645.7,103.6 648.0,106.6 C650.3,109.6 653.9,113.3 656.4,116.3 C658.9,119.3 661.8,121.7 662.7,124.7 C663.6,127.7 662.8,131.2 662.0,134.5 C661.2,137.8 659.2,141.0 657.8,144.3 C656.4,147.6 655.6,151.1 653.5,154.1 C651.4,157.1 648.8,160.0 645.1,162.3 C641.4,164.6 635.7,166.1 631.3,168.0 C626.9,169.9 622.2,172.4 618.7,173.6 C615.2,174.8 613.1,175.2 610.3,175.0 C607.5,174.8 604.3,173.8 602.0,172.2 C599.7,170.6 597.7,167.8 596.3,165.2 C594.9,162.6 593.4,159.1 593.6,156.8 C593.9,154.5 596.2,153.1 597.8,151.2 C599.4,149.3 603.1,148.1 603.3,145.6 C603.5,143.1 600.9,139.6 599.0,136.0 C597.1,132.4 594.0,128.3 592.0,124.0 C590.0,119.7 588.4,114.8 587.0,110.0 C585.6,105.2 582.0,97.6 583.8,95.4Z" fill="#edfaed"/>
<path d="M604.0,107.0 C605.5,104.8 608.5,103.5 612.0,102.5 C615.5,101.5 621.0,101.8 625.0,101.0 C629.0,100.2 633.2,98.1 636.0,98.0 C638.8,97.9 640.0,99.0 642.0,100.5 C644.0,102.0 645.7,104.3 648.0,107.0 C650.3,109.7 653.7,113.5 656.0,116.5 C658.3,119.5 661.1,122.0 662.0,125.0 C662.9,128.0 662.2,131.3 661.5,134.5 C660.8,137.7 658.9,140.8 657.5,144.0 C656.1,147.2 655.1,151.0 653.0,154.0 C650.9,157.0 647.2,161.3 645.0,162.0 C642.8,162.7 639.8,160.0 640.0,158.0 C640.2,156.0 644.7,152.8 646.0,150.0 C647.3,147.2 648.2,143.7 648.0,141.0 C647.8,138.3 647.0,135.6 645.0,134.0 C643.0,132.4 639.5,132.0 636.0,131.5 C632.5,131.0 628.0,131.2 624.0,131.0 C620.0,130.8 615.2,130.8 612.0,130.0 C608.8,129.2 606.5,128.3 605.0,126.0 C603.5,123.7 603.2,119.2 603.0,116.0 C602.8,112.8 602.5,109.2 604.0,107.0Z" fill="#d4f4d4"/>
<path d="M598.0,150.0 C599.9,148.1 602.3,146.3 606.0,145.5 C609.7,144.7 615.3,145.2 620.0,145.0 C624.7,144.8 629.7,144.3 634.0,144.5 C638.3,144.7 643.7,144.8 646.0,146.0 C648.3,147.2 648.3,149.7 648.0,152.0 C647.7,154.3 646.7,157.4 644.0,160.0 C641.3,162.6 636.2,165.3 632.0,167.5 C627.8,169.7 622.6,171.8 619.0,173.0 C615.4,174.2 613.2,174.8 610.5,174.5 C607.8,174.2 604.8,173.2 602.5,171.5 C600.2,169.8 598.3,166.9 597.0,164.5 C595.7,162.1 594.3,159.4 594.5,157.0 C594.7,154.6 596.1,151.9 598.0,150.0Z" fill="#d4f4d4"/>
<path d="M600.5,128.0 C602.0,126.1 605.9,126.2 609.0,126.5 C612.1,126.8 615.8,128.1 619.0,129.5 C622.2,130.9 624.2,133.2 628.0,135.0 C631.8,136.8 642.0,139.2 642.0,140.5 C642.0,141.8 632.5,142.3 628.0,143.0 C623.5,143.7 618.8,144.3 615.0,144.5 C611.2,144.7 607.5,145.1 605.0,144.0 C602.5,142.9 600.8,140.7 600.0,138.0 C599.2,135.3 599.0,129.9 600.5,128.0Z" fill="#ffffff"/>
<path d="M611.0,155.0 C611.6,153.8 614.5,153.2 616.0,153.5 C617.5,153.8 619.7,155.6 620.0,157.0 C620.3,158.4 619.2,161.3 618.0,162.0 C616.8,162.7 613.7,162.2 612.5,161.0 C611.3,159.8 610.4,156.2 611.0,155.0Z" fill="#ffffff"/>
<path d="M589.0,97.0 C590.8,95.8 595.5,96.0 598.0,97.0 C600.5,98.0 603.2,100.2 604.0,103.0 C604.8,105.8 603.7,110.5 603.0,114.0 C602.3,117.5 601.5,122.7 600.0,124.0 C598.5,125.3 595.7,124.0 594.0,122.0 C592.3,120.0 591.2,115.0 590.0,112.0 C588.8,109.0 587.2,106.5 587.0,104.0 C586.8,101.5 587.2,98.2 589.0,97.0Z" fill="#ffffff"/>
<path d="M600.0,128.0 C602.5,126.0 607.7,126.0 612.0,126.0 C616.3,126.0 621.7,127.0 626.0,128.0 C630.3,129.0 635.0,130.3 638.0,132.0 C641.0,133.7 643.7,135.7 644.0,138.0 C644.3,140.3 643.0,144.0 640.0,146.0 C637.0,148.0 631.0,149.2 626.0,150.0 C621.0,150.8 614.2,151.3 610.0,151.0 C605.8,150.7 603.2,150.2 601.0,148.0 C598.8,145.8 597.2,141.3 597.0,138.0 C596.8,134.7 597.5,130.0 600.0,128.0Z" fill="#ffffff"/>
<path d="M592.0,100.0 C593.8,98.3 597.7,97.3 600.0,98.0 C602.3,98.7 605.3,101.0 606.0,104.0 C606.7,107.0 605.3,112.7 604.0,116.0 C602.7,119.3 600.0,123.7 598.0,124.0 C596.0,124.3 593.5,120.7 592.0,118.0 C590.5,115.3 589.0,111.0 589.0,108.0 C589.0,105.0 590.2,101.7 592.0,100.0Z" fill="#ffffff"/>
<path d="M506.0,95.0 C507.1,92.8 510.4,90.7 511.8,89.2 C513.2,87.8 511.5,86.9 514.5,86.3 C517.5,85.7 524.9,85.7 530.0,85.6 C535.1,85.5 539.7,85.8 545.0,85.8 C550.3,85.8 556.4,85.8 562.0,85.6 C567.6,85.4 575.1,84.0 578.8,84.6 C582.5,85.2 582.6,86.9 584.0,89.0 C585.4,91.1 586.0,93.5 587.0,97.0 C588.0,100.5 588.8,105.5 590.0,110.0 C591.2,114.5 592.2,119.8 594.0,124.0 C595.8,128.2 599.3,132.3 601.0,135.0 C602.7,137.7 605.0,138.3 604.3,140.3 C603.6,142.3 598.5,143.7 597.0,147.0 C595.5,150.3 594.5,153.7 595.0,160.0 C595.5,166.3 600.5,180.2 599.7,185.0 C598.9,189.8 593.9,187.8 590.0,188.5 C586.1,189.2 580.2,189.4 576.2,189.0 C572.2,188.6 569.2,187.4 565.7,186.0 C562.2,184.6 558.7,182.4 555.2,180.7 C551.8,179.0 547.0,175.7 545.0,176.0 C543.0,176.3 544.1,180.4 543.4,182.3 C542.7,184.2 542.0,185.8 540.7,187.6 C539.4,189.3 536.9,191.7 535.5,192.8 C534.1,194.0 533.1,195.8 532.2,194.5 C531.3,193.2 530.8,189.1 530.2,184.9 C529.7,180.7 529.5,173.8 528.9,169.2 C528.2,164.6 527.6,160.8 526.3,157.3 C525.0,153.8 522.8,151.2 521.0,148.1 C519.2,145.0 516.9,142.2 515.8,139.0 C514.7,135.8 515.4,131.9 514.5,128.6 C513.6,125.3 511.8,122.5 510.5,119.4 C509.2,116.3 507.5,113.1 506.6,110.2 C505.7,107.3 505.4,104.8 505.3,102.3 C505.2,99.8 504.9,97.2 506.0,95.0Z" fill="#e2eaf8"/>
<path d="M506.0,113.0 C506.2,113.0 510.0,119.2 512.0,121.0 C514.0,122.8 515.8,122.8 518.0,124.0 C520.2,125.2 523.0,125.3 525.0,128.0 C527.0,130.7 528.5,136.3 530.0,140.0 C531.5,143.7 532.3,147.3 534.0,150.0 C535.7,152.7 538.0,156.0 540.0,156.0 C542.0,156.0 543.3,151.3 546.0,150.0 C548.7,148.7 552.7,148.0 556.0,148.0 C559.3,148.0 563.7,148.8 566.0,150.0 C568.3,151.2 570.7,153.0 570.0,155.0 C569.3,157.0 565.0,159.8 562.0,162.0 C559.0,164.2 554.7,166.0 552.0,168.0 C549.3,170.0 547.2,172.0 546.0,174.0 C544.8,176.0 544.9,178.4 544.5,180.0 C544.1,181.6 544.2,182.1 543.6,183.4 C543.0,184.7 542.0,186.4 540.7,188.0 C539.4,189.6 537.3,191.6 536.0,192.8 C534.7,194.0 533.8,196.3 533.0,195.0 C532.2,193.7 531.6,189.2 531.0,184.9 C530.4,180.6 530.3,173.6 529.5,169.0 C528.7,164.4 527.7,160.8 526.3,157.3 C524.9,153.8 522.8,151.2 521.0,148.1 C519.2,145.0 516.9,142.2 515.8,139.0 C514.7,135.8 515.4,131.6 514.5,128.6 C513.6,125.6 511.9,123.6 510.5,121.0 C509.1,118.4 505.8,113.0 506.0,113.0Z" fill="#c5d8fb"/>
<path d="M506.0,95.0 C507.1,92.8 510.4,90.7 511.8,89.2 C513.2,87.8 511.5,86.9 514.5,86.3 C517.5,85.7 524.9,85.7 530.0,85.6 C535.1,85.5 540.5,85.8 545.0,85.8 C549.5,85.8 554.3,84.9 557.0,85.6 C559.7,86.3 560.3,87.6 561.0,90.0 C561.7,92.4 561.5,97.4 561.0,100.0 C560.5,102.6 559.5,104.6 558.0,105.5 C556.5,106.4 553.9,104.6 552.0,105.5 C550.1,106.4 548.2,109.4 546.5,111.0 C544.8,112.6 543.2,114.8 541.5,115.0 C539.8,115.2 538.0,113.9 536.5,112.0 C535.0,110.1 534.0,105.8 532.5,103.5 C531.0,101.2 528.9,98.4 527.5,98.5 C526.1,98.6 524.9,101.6 524.0,104.0 C523.1,106.4 522.8,110.2 522.0,113.0 C521.2,115.8 520.2,118.9 519.0,121.0 C517.8,123.1 516.5,125.2 515.0,125.5 C513.5,125.8 511.4,125.2 510.0,123.0 C508.6,120.8 507.4,115.5 506.6,112.0 C505.8,108.5 505.4,105.1 505.3,102.3 C505.2,99.5 504.9,97.2 506.0,95.0Z" fill="#bbebe6"/>
<path d="M527.0,97.5 C528.2,97.0 530.7,98.8 532.0,100.5 C533.3,102.2 533.8,105.2 535.0,107.5 C536.2,109.8 537.7,113.2 539.0,114.5 C540.3,115.8 541.5,116.1 542.8,115.5 C544.1,114.9 545.4,112.8 547.0,111.0 C548.6,109.2 550.5,105.8 552.4,105.0 C554.3,104.2 556.9,104.8 558.5,106.0 C560.1,107.2 561.4,109.6 562.0,112.0 C562.6,114.4 562.8,117.8 562.0,120.5 C561.2,123.2 559.0,125.8 557.0,128.0 C555.0,130.2 551.8,131.8 550.0,133.5 C548.2,135.2 546.8,135.9 546.0,138.0 C545.2,140.1 545.9,143.1 545.5,146.0 C545.1,148.9 544.6,153.0 543.5,155.5 C542.4,158.0 540.3,160.8 539.0,161.0 C537.7,161.2 536.7,159.2 535.8,157.0 C534.9,154.8 535.0,150.8 533.8,147.5 C532.5,144.2 529.6,141.1 528.3,137.5 C527.0,133.9 526.6,130.0 526.0,126.0 C525.4,122.0 524.8,117.2 524.6,113.5 C524.4,109.8 524.2,106.2 524.6,103.5 C525.0,100.8 525.8,98.0 527.0,97.5Z" fill="#fbdcdc"/>
<path d="M557.0,88.0 C558.5,86.0 562.2,85.6 565.0,85.0 C567.8,84.4 571.3,84.3 574.0,84.3 C576.7,84.3 579.2,84.0 581.0,85.0 C582.8,86.0 584.2,88.0 585.0,90.0 C585.8,92.0 586.3,94.5 586.0,97.0 C585.7,99.5 584.5,102.8 583.0,105.0 C581.5,107.2 579.2,108.7 577.0,110.0 C574.8,111.3 572.0,111.5 570.0,113.0 C568.0,114.5 566.7,116.8 565.0,119.0 C563.3,121.2 562.0,123.8 560.0,126.0 C558.0,128.2 555.2,130.7 553.0,132.0 C550.8,133.3 547.8,134.7 547.0,134.0 C546.2,133.3 547.0,130.2 548.0,128.0 C549.0,125.8 551.5,123.5 553.0,121.0 C554.5,118.5 556.3,115.7 557.0,113.0 C557.7,110.3 557.2,107.7 557.0,105.0 C556.8,102.3 556.0,99.8 556.0,97.0 C556.0,94.2 555.5,90.0 557.0,88.0Z" fill="#d3cc8e"/>
<path d="M566.0,114.0 C567.8,111.8 569.7,111.2 572.0,110.5 C574.3,109.8 577.5,109.2 580.0,109.5 C582.5,109.8 585.1,110.6 587.0,112.0 C588.9,113.4 590.7,115.7 591.5,118.0 C592.3,120.3 592.9,124.0 592.0,126.0 C591.1,128.0 589.0,129.3 586.0,130.0 C583.0,130.7 577.8,130.3 574.0,130.0 C570.2,129.7 565.2,129.0 563.0,128.0 C560.8,127.0 560.5,126.3 561.0,124.0 C561.5,121.7 564.2,116.2 566.0,114.0Z" fill="#f8b5f8"/>
<path d="M546.0,137.0 C547.1,134.1 549.3,132.2 552.0,130.5 C554.7,128.8 558.3,127.2 562.0,127.0 C565.7,126.8 570.0,128.9 574.0,129.5 C578.0,130.1 582.5,129.9 586.0,130.5 C589.5,131.1 592.3,131.9 595.0,133.0 C597.7,134.1 600.3,135.8 602.0,137.0 C603.7,138.2 605.2,138.9 605.0,140.3 C604.8,141.7 602.8,143.8 601.0,145.5 C599.2,147.2 597.5,149.4 594.0,150.5 C590.5,151.6 584.8,151.8 580.0,152.0 C575.2,152.2 569.7,152.2 565.0,152.0 C560.3,151.8 555.2,151.7 552.0,151.0 C548.8,150.3 546.5,150.3 545.5,148.0 C544.5,145.7 544.9,139.9 546.0,137.0Z" fill="#d2cb8c"/>
<path d="M543.5,172.4 C544.7,170.6 548.2,168.7 552.0,166.0 C555.8,163.3 561.3,158.4 566.0,156.0 C570.7,153.6 575.6,152.6 580.0,151.5 C584.4,150.4 589.7,148.9 592.5,149.5 C595.3,150.1 595.8,152.4 597.0,155.0 C598.2,157.6 599.2,161.5 600.0,165.0 C600.8,168.5 602.0,172.9 602.0,176.0 C602.0,179.1 601.9,181.3 600.2,183.4 C598.5,185.5 594.6,187.5 592.0,188.5 C589.4,189.5 587.8,189.6 584.5,189.6 C581.2,189.6 575.4,189.0 572.0,188.5 C568.6,188.0 567.3,187.8 564.0,186.5 C560.7,185.2 555.2,182.6 552.0,181.0 C548.8,179.4 546.4,178.4 545.0,177.0 C543.6,175.6 542.3,174.2 543.5,172.4Z" fill="#f8b2f8"/>
</g>
</g>
<line x1="96.8" y1="279.0" x2="96.8" y2="443.6" stroke="#222" stroke-width="1.3"/>
<line x1="96.2" y1="443.0" x2="682.0" y2="443.0" stroke="#222" stroke-width="1.3"/>
<line x1="93.2" y1="300.4" x2="96.8" y2="300.4" stroke="#222" stroke-width="1.1"/>
<line x1="93.2" y1="330.9" x2="96.8" y2="330.9" stroke="#222" stroke-width="1.1"/>
<line x1="93.2" y1="362.3" x2="96.8" y2="362.3" stroke="#222" stroke-width="1.1"/>
<line x1="93.2" y1="393.3" x2="96.8" y2="393.3" stroke="#222" stroke-width="1.1"/>
<line x1="93.2" y1="424.4" x2="96.8" y2="424.4" stroke="#222" stroke-width="1.1"/>
<line x1="108.7" y1="443.0" x2="108.7" y2="446.4" stroke="#222" stroke-width="1.1"/>
<line x1="128.7" y1="443.0" x2="128.7" y2="446.4" stroke="#222" stroke-width="1.1"/>
<line x1="148.7" y1="443.0" x2="148.7" y2="446.4" stroke="#222" stroke-width="1.1"/>
<line x1="168.8" y1="443.0" x2="168.8" y2="446.4" stroke="#222" stroke-width="1.1"/>
<line x1="188.8" y1="443.0" x2="188.8" y2="446.4" stroke="#222" stroke-width="1.1"/>
<line x1="208.8" y1="443.0" x2="208.8" y2="446.4" stroke="#222" stroke-width="1.1"/>
<line x1="228.8" y1="443.0" x2="228.8" y2="446.4" stroke="#222" stroke-width="1.1"/>
<line x1="248.8" y1="443.0" x2="248.8" y2="446.4" stroke="#222" stroke-width="1.1"/>
<line x1="268.9" y1="443.0" x2="268.9" y2="446.4" stroke="#222" stroke-width="1.1"/>
<line x1="288.9" y1="443.0" x2="288.9" y2="446.4" stroke="#222" stroke-width="1.1"/>
<line x1="308.9" y1="443.0" x2="308.9" y2="446.4" stroke="#222" stroke-width="1.1"/>
<line x1="328.9" y1="443.0" x2="328.9" y2="446.4" stroke="#222" stroke-width="1.1"/>
<line x1="348.9" y1="443.0" x2="348.9" y2="446.4" stroke="#222" stroke-width="1.1"/>
<line x1="369.0" y1="443.0" x2="369.0" y2="446.4" stroke="#222" stroke-width="1.1"/>
<line x1="389.0" y1="443.0" x2="389.0" y2="446.4" stroke="#222" stroke-width="1.1"/>
<line x1="409.0" y1="443.0" x2="409.0" y2="446.4" stroke="#222" stroke-width="1.1"/>
<line x1="429.0" y1="443.0" x2="429.0" y2="446.4" stroke="#222" stroke-width="1.1"/>
<line x1="449.0" y1="443.0" x2="449.0" y2="446.4" stroke="#222" stroke-width="1.1"/>
<line x1="469.1" y1="443.0" x2="469.1" y2="446.4" stroke="#222" stroke-width="1.1"/>
<line x1="489.1" y1="443.0" x2="489.1" y2="446.4" stroke="#222" stroke-width="1.1"/>
<line x1="509.1" y1="443.0" x2="509.1" y2="446.4" stroke="#222" stroke-width="1.1"/>
<line x1="529.1" y1="443.0" x2="529.1" y2="446.4" stroke="#222" stroke-width="1.1"/>
<line x1="549.1" y1="443.0" x2="549.1" y2="446.4" stroke="#222" stroke-width="1.1"/>
<line x1="569.2" y1="443.0" x2="569.2" y2="446.4" stroke="#222" stroke-width="1.1"/>
<line x1="589.2" y1="443.0" x2="589.2" y2="446.4" stroke="#222" stroke-width="1.1"/>
<line x1="609.2" y1="443.0" x2="609.2" y2="446.4" stroke="#222" stroke-width="1.1"/>
<line x1="629.2" y1="443.0" x2="629.2" y2="446.4" stroke="#222" stroke-width="1.1"/>
<line x1="649.2" y1="443.0" x2="649.2" y2="446.4" stroke="#222" stroke-width="1.1"/>
<line x1="669.3" y1="443.0" x2="669.3" y2="446.4" stroke="#222" stroke-width="1.1"/>
<text x="87.0" y="303.2" font-size="15.3" text-anchor="end" fill="#000" >Mitotic</text>
<text x="87.0" y="334.6" font-size="15.3" text-anchor="end" fill="#000" >Midline</text>
<text x="87.0" y="365.6" font-size="15.3" text-anchor="end" fill="#000" >Perimysial</text>
<text x="87.0" y="397.0" font-size="15.3" text-anchor="end" fill="#000" >Odontogenic</text>
<text x="87.0" y="429.2" font-size="15.3" text-anchor="end" fill="#000" >Osteogenic</text>
<circle cx="108.7" cy="300.4" r="5.30" fill="#aa8be4"/>
<circle cx="128.7" cy="300.4" r="1.40" fill="#9d79e8"/>
<circle cx="148.7" cy="300.4" r="0.80" fill="#9d79e8"/>
<circle cx="168.8" cy="300.4" r="2.50" fill="#a482e6"/>
<circle cx="188.8" cy="300.4" r="3.50" fill="#a482e6"/>
<circle cx="208.8" cy="300.4" r="1.00" fill="#9d79e8"/>
<circle cx="228.8" cy="300.4" r="0.80" fill="#a482e6"/>
<circle cx="248.8" cy="300.4" r="3.90" fill="#a17fe7"/>
<circle cx="268.9" cy="300.4" r="3.90" fill="#a888e5"/>
<circle cx="288.9" cy="300.4" r="2.00" fill="#9670ea"/>
<circle cx="308.9" cy="300.4" r="2.20" fill="#9d79e8"/>
<circle cx="328.9" cy="300.4" r="1.60" fill="#9d79e8"/>
<circle cx="348.9" cy="300.4" r="1.80" fill="#a482e6"/>
<circle cx="369.0" cy="300.4" r="2.00" fill="#b094e3"/>
<circle cx="389.0" cy="300.4" r="1.40" fill="#9d79e8"/>
<circle cx="409.0" cy="300.4" r="2.20" fill="#a482e6"/>
<circle cx="429.0" cy="300.4" r="2.20" fill="#b094e3"/>
<circle cx="449.0" cy="300.4" r="1.80" fill="#a482e6"/>
<circle cx="469.1" cy="300.4" r="2.50" fill="#aa8be4"/>
<circle cx="489.1" cy="300.4" r="2.70" fill="#b69de1"/>
<circle cx="509.1" cy="300.4" r="0.80" fill="#9d79e8"/>
<circle cx="529.1" cy="300.4" r="1.50" fill="#9670ea"/>
<circle cx="549.1" cy="300.4" r="3.00" fill="#b094e3"/>
<circle cx="569.2" cy="300.4" r="6.70" fill="#aa8be4"/>
<circle cx="589.2" cy="300.4" r="1.70" fill="#a482e6"/>
<circle cx="609.2" cy="300.4" r="7.20" fill="#2410f8"/>
<circle cx="629.2" cy="300.4" r="7.40" fill="#2410f8"/>
<circle cx="649.2" cy="300.4" r="5.70" fill="#2410f8"/>
<circle cx="669.3" cy="300.4" r="6.20" fill="#2410f8"/>
<circle cx="108.7" cy="330.9" r="4.30" fill="#c1afdc"/>
<circle cx="128.7" cy="330.9" r="0.70" fill="#aa8be4"/>
<circle cx="148.7" cy="330.9" r="0.70" fill="#aa8be4"/>
<circle cx="168.8" cy="330.9" r="2.90" fill="#b094e3"/>
<circle cx="188.8" cy="330.9" r="1.60" fill="#bba6de"/>
<circle cx="208.8" cy="330.9" r="0.70" fill="#aa8be4"/>
<circle cx="228.8" cy="330.9" r="0.70" fill="#aa8be4"/>
<circle cx="248.8" cy="330.9" r="3.10" fill="#b499e1"/>
<circle cx="268.9" cy="330.9" r="3.70" fill="#b499e1"/>
<circle cx="288.9" cy="330.9" r="0.80" fill="#aa8be4"/>
<circle cx="308.9" cy="330.9" r="1.20" fill="#aa8be4"/>
<circle cx="328.9" cy="330.9" r="1.20" fill="#b094e3"/>
<circle cx="348.9" cy="330.9" r="1.20" fill="#b094e3"/>
<circle cx="369.0" cy="330.9" r="1.20" fill="#b69de1"/>
<circle cx="389.0" cy="330.9" r="1.20" fill="#aa8be4"/>
<circle cx="409.0" cy="330.9" r="1.80" fill="#b094e3"/>
<circle cx="429.0" cy="330.9" r="1.60" fill="#bfabdd"/>
<circle cx="449.0" cy="330.9" r="2.50" fill="#a17fe7"/>
<circle cx="469.1" cy="330.9" r="1.40" fill="#b69de1"/>
<circle cx="489.1" cy="330.9" r="1.80" fill="#bfabdd"/>
<circle cx="509.1" cy="330.9" r="0.60" fill="#aa8be4"/>
<circle cx="529.1" cy="330.9" r="1.50" fill="#2410f8"/>
<circle cx="549.1" cy="330.9" r="4.70" fill="#7349f1"/>
<circle cx="569.2" cy="330.9" r="8.60" fill="#613af3"/>
<circle cx="589.2" cy="330.9" r="3.50" fill="#2410f8"/>
<circle cx="609.2" cy="330.9" r="1.00" fill="#aa8be4"/>
<circle cx="629.2" cy="330.9" r="1.50" fill="#b094e3"/>
<circle cx="649.2" cy="330.9" r="0.70" fill="#aa8be4"/>
<circle cx="669.3" cy="330.9" r="1.50" fill="#b094e3"/>
<circle cx="108.7" cy="362.3" r="2.70" fill="#d3d3d3"/>
<circle cx="128.7" cy="362.3" r="0.60" fill="#b69de1"/>
<circle cx="148.7" cy="362.3" r="0.80" fill="#b69de1"/>
<circle cx="168.8" cy="362.3" r="1.20" fill="#bba6de"/>
<circle cx="188.8" cy="362.3" r="1.60" fill="#bba6de"/>
<circle cx="208.8" cy="362.3" r="0.80" fill="#b094e3"/>
<circle cx="228.8" cy="362.3" r="0.90" fill="#b094e3"/>
<circle cx="248.8" cy="362.3" r="2.70" fill="#bfabdd"/>
<circle cx="268.9" cy="362.3" r="2.50" fill="#c1afdc"/>
<circle cx="288.9" cy="362.3" r="1.20" fill="#aa8be4"/>
<circle cx="308.9" cy="362.3" r="1.20" fill="#b094e3"/>
<circle cx="328.9" cy="362.3" r="1.20" fill="#b094e3"/>
<circle cx="348.9" cy="362.3" r="2.50" fill="#9670ea"/>
<circle cx="369.0" cy="362.3" r="2.90" fill="#a17fe7"/>
<circle cx="389.0" cy="362.3" r="4.90" fill="#2410f8"/>
<circle cx="409.0" cy="362.3" r="4.70" fill="#2410f8"/>
<circle cx="429.0" cy="362.3" r="4.30" fill="#502df5"/>
<circle cx="449.0" cy="362.3" r="4.10" fill="#361af7"/>
<circle cx="469.1" cy="362.3" r="5.50" fill="#4d2af5"/>
<circle cx="489.1" cy="362.3" r="5.10" fill="#5933f4"/>
<circle cx="509.1" cy="362.3" r="1.40" fill="#2410f8"/>
<circle cx="529.1" cy="362.3" r="1.00" fill="#aa8be4"/>
<circle cx="549.1" cy="362.3" r="1.20" fill="#c8bdd9"/>
<circle cx="569.2" cy="362.3" r="6.20" fill="#aa8be4"/>
<circle cx="589.2" cy="362.3" r="1.00" fill="#aa8be4"/>
<circle cx="609.2" cy="362.3" r="1.20" fill="#aa8be4"/>
<circle cx="629.2" cy="362.3" r="1.50" fill="#b094e3"/>
<circle cx="649.2" cy="362.3" r="1.00" fill="#aa8be4"/>
<circle cx="669.3" cy="362.3" r="1.50" fill="#b094e3"/>
<circle cx="108.7" cy="393.3" r="7.60" fill="#875eed"/>
<circle cx="128.7" cy="393.3" r="1.60" fill="#a482e6"/>
<circle cx="148.7" cy="393.3" r="1.00" fill="#a482e6"/>
<circle cx="168.8" cy="393.3" r="3.10" fill="#b094e3"/>
<circle cx="188.8" cy="393.3" r="3.30" fill="#b9a2df"/>
<circle cx="208.8" cy="393.3" r="1.40" fill="#8c64ec"/>
<circle cx="228.8" cy="393.3" r="1.00" fill="#a482e6"/>
<circle cx="248.8" cy="393.3" r="5.70" fill="#3f20f7"/>
<circle cx="268.9" cy="393.3" r="7.60" fill="#5c35f4"/>
<circle cx="288.9" cy="393.3" r="5.90" fill="#3f20f7"/>
<circle cx="308.9" cy="393.3" r="4.10" fill="#361af7"/>
<circle cx="328.9" cy="393.3" r="2.90" fill="#3117f7"/>
<circle cx="348.9" cy="393.3" r="2.50" fill="#4d2af5"/>
<circle cx="369.0" cy="393.3" r="3.50" fill="#3f20f7"/>
<circle cx="389.0" cy="393.3" r="1.20" fill="#aa8be4"/>
<circle cx="409.0" cy="393.3" r="1.40" fill="#aa8be4"/>
<circle cx="429.0" cy="393.3" r="2.70" fill="#b094e3"/>
<circle cx="449.0" cy="393.3" r="1.80" fill="#aa8be4"/>
<circle cx="469.1" cy="393.3" r="1.40" fill="#b69de1"/>
<circle cx="489.1" cy="393.3" r="1.60" fill="#c1afdc"/>
<circle cx="509.1" cy="393.3" r="0.60" fill="#b69de1"/>
<circle cx="529.1" cy="393.3" r="1.00" fill="#aa8be4"/>
<circle cx="549.1" cy="393.3" r="1.70" fill="#b094e3"/>
<circle cx="569.2" cy="393.3" r="3.90" fill="#d1cfd4"/>
<circle cx="589.2" cy="393.3" r="1.00" fill="#aa8be4"/>
<circle cx="609.2" cy="393.3" r="1.20" fill="#aa8be4"/>
<circle cx="629.2" cy="393.3" r="1.50" fill="#b094e3"/>
<circle cx="649.2" cy="393.3" r="1.00" fill="#aa8be4"/>
<circle cx="669.3" cy="393.3" r="1.70" fill="#b094e3"/>
<circle cx="108.7" cy="424.4" r="8.80" fill="#7e55ef"/>
<circle cx="128.7" cy="424.4" r="3.90" fill="#3117f7"/>
<circle cx="148.7" cy="424.4" r="1.80" fill="#2410f8"/>
<circle cx="168.8" cy="424.4" r="6.30" fill="#361af7"/>
<circle cx="188.8" cy="424.4" r="8.20" fill="#754bf1"/>
<circle cx="208.8" cy="424.4" r="2.20" fill="#2410f8"/>
<circle cx="228.8" cy="424.4" r="2.20" fill="#2410f8"/>
<circle cx="248.8" cy="424.4" r="3.70" fill="#aa8be4"/>
<circle cx="268.9" cy="424.4" r="6.50" fill="#9670ea"/>
<circle cx="288.9" cy="424.4" r="1.00" fill="#aa8be4"/>
<circle cx="308.9" cy="424.4" r="1.40" fill="#aa8be4"/>
<circle cx="328.9" cy="424.4" r="1.60" fill="#aa8be4"/>
<circle cx="348.9" cy="424.4" r="0.80" fill="#aa8be4"/>
<circle cx="369.0" cy="424.4" r="1.80" fill="#b094e3"/>
<circle cx="389.0" cy="424.4" r="1.20" fill="#aa8be4"/>
<circle cx="409.0" cy="424.4" r="2.20" fill="#b499e1"/>
<circle cx="429.0" cy="424.4" r="3.90" fill="#9670ea"/>
<circle cx="449.0" cy="424.4" r="1.20" fill="#aa8be4"/>
<circle cx="469.1" cy="424.4" r="3.30" fill="#aa8be4"/>
<circle cx="489.1" cy="424.4" r="2.70" fill="#a482e6"/>
<circle cx="509.1" cy="424.4" r="0.60" fill="#aa8be4"/>
<circle cx="529.1" cy="424.4" r="0.70" fill="#b094e3"/>
<circle cx="549.1" cy="424.4" r="4.70" fill="#7349f1"/>
<circle cx="569.2" cy="424.4" r="6.40" fill="#bfabdd"/>
<circle cx="589.2" cy="424.4" r="1.50" fill="#aa8be4"/>
<circle cx="609.2" cy="424.4" r="1.50" fill="#aa8be4"/>
<circle cx="629.2" cy="424.4" r="1.50" fill="#aa8be4"/>
<circle cx="649.2" cy="424.4" r="1.00" fill="#aa8be4"/>
<circle cx="669.3" cy="424.4" r="1.50" fill="#b094e3"/>
<text transform="translate(115.3,458.2) rotate(-45)" font-size="15" text-anchor="end">Runx2</text>
<text transform="translate(135.3,458.2) rotate(-45)" font-size="15" text-anchor="end">Sp7</text>
<text transform="translate(155.3,458.2) rotate(-45)" font-size="15" text-anchor="end">Ibsp</text>
<text transform="translate(175.4,458.2) rotate(-45)" font-size="15" text-anchor="end">Alpl</text>
<text transform="translate(195.4,458.2) rotate(-45)" font-size="15" text-anchor="end">Sox6</text>
<text transform="translate(215.4,458.2) rotate(-45)" font-size="15" text-anchor="end">Smpd3</text>
<text transform="translate(235.4,458.2) rotate(-45)" font-size="15" text-anchor="end">Cfh</text>
<text transform="translate(255.4,458.2) rotate(-45)" font-size="15" text-anchor="end">Lhx6</text>
<text transform="translate(275.5,458.2) rotate(-45)" font-size="15" text-anchor="end">Msx1</text>
<text transform="translate(295.5,458.2) rotate(-45)" font-size="15" text-anchor="end">Tfap2b</text>
<text transform="translate(315.5,458.2) rotate(-45)" font-size="15" text-anchor="end">Lef1</text>
<text transform="translate(335.5,458.2) rotate(-45)" font-size="15" text-anchor="end">Plppr1</text>
<text transform="translate(355.5,458.2) rotate(-45)" font-size="15" text-anchor="end">Grik1</text>
<text transform="translate(375.6,458.2) rotate(-45)" font-size="15" text-anchor="end">Nkain3</text>
<text transform="translate(395.6,458.2) rotate(-45)" font-size="15" text-anchor="end">Hic1</text>
<text transform="translate(415.6,458.2) rotate(-45)" font-size="15" text-anchor="end">Tbx15</text>
<text transform="translate(435.6,458.2) rotate(-45)" font-size="15" text-anchor="end">Aldh1a2</text>
<text transform="translate(455.6,458.2) rotate(-45)" font-size="15" text-anchor="end">Fgf18</text>
<text transform="translate(475.7,458.2) rotate(-45)" font-size="15" text-anchor="end">Ebf2</text>
<text transform="translate(495.7,458.2) rotate(-45)" font-size="15" text-anchor="end">Ebf3</text>
<text transform="translate(515.7,458.2) rotate(-45)" font-size="15" text-anchor="end">Spag17</text>
<text transform="translate(535.7,458.2) rotate(-45)" font-size="15" text-anchor="end">Tbx22</text>
<text transform="translate(555.7,458.2) rotate(-45)" font-size="15" text-anchor="end">Alx1</text>
<text transform="translate(575.8,458.2) rotate(-45)" font-size="15" text-anchor="end">Meis2</text>
<text transform="translate(595.8,458.2) rotate(-45)" font-size="15" text-anchor="end">Pax3</text>
<text transform="translate(615.8,458.2) rotate(-45)" font-size="15" text-anchor="end">Mki67</text>
<text transform="translate(635.8,458.2) rotate(-45)" font-size="15" text-anchor="end">Top2a</text>
<text transform="translate(655.8,458.2) rotate(-45)" font-size="15" text-anchor="end">Ccnb1</text>
<text transform="translate(675.9,458.2) rotate(-45)" font-size="15" text-anchor="end">H1f5</text>
<line x1="103.6" y1="276.0" x2="231.6" y2="276.0" stroke="#111" stroke-width="1.5"/>
<text transform="translate(160.4,275.4) rotate(-45)" font-size="15.2">Osteogenic</text>
<line x1="242.5" y1="276.0" x2="372.8" y2="276.0" stroke="#111" stroke-width="1.5"/>
<text transform="translate(301.4,274.9) rotate(-45)" font-size="15.2">Odontogenic</text>
<line x1="382.0" y1="276.0" x2="512.0" y2="276.0" stroke="#111" stroke-width="1.5"/>
<text transform="translate(439.8,275.0) rotate(-45)" font-size="15.2">Perimysial</text>
<line x1="524.7" y1="276.0" x2="592.8" y2="276.0" stroke="#111" stroke-width="1.5"/>
<text transform="translate(556.8,275.0) rotate(-45)" font-size="15.2">Midline</text>
<line x1="600.4" y1="276.0" x2="678.1" y2="276.0" stroke="#111" stroke-width="1.5"/>
<text transform="translate(630.8,274.1) rotate(-45)" font-size="15.2">Mitotic</text>
<text x="80.0" y="520.7" font-size="15" text-anchor="start" fill="#000" >E12.5-E18.5</text>
<text x="268.6" y="519.7" font-size="15" text-anchor="start" fill="#000" >E12.5</text>
<text x="430.4" y="520.2" font-size="15" text-anchor="start" fill="#000" >E13.5</text>
<text x="109.6" y="645.9" font-size="15" text-anchor="start" fill="#000" >E14.5</text>
<text x="270.0" y="645.9" font-size="15" text-anchor="start" fill="#000" >E15.5</text>
<text x="430.6" y="645.9" font-size="15" text-anchor="start" fill="#000" >E18.5</text>
<circle cx="564.5" cy="589.3" r="2.6" fill="#ee6d6b"/>
<text x="572.3" y="594.3" font-size="15" text-anchor="start" fill="#ee6d6b" >Progenitors</text>
<circle cx="564.5" cy="606.4" r="2.6" fill="#6b9cf7"/>
<text x="572.3" y="611.4" font-size="15" text-anchor="start" fill="#6b9cf7" >Osteogenic</text>
<circle cx="564.5" cy="623.1" r="2.6" fill="#f35ef3"/>
<text x="572.3" y="628.1" font-size="15" text-anchor="start" fill="#f35ef3" >Odontogenic</text>
<circle cx="564.5" cy="640.1" r="2.6" fill="#5dd3c8"/>
<text x="572.3" y="645.1" font-size="15" text-anchor="start" fill="#5dd3c8" >Perimysial</text>
<circle cx="564.5" cy="657.1" r="2.6" fill="#b0a32c"/>
<text x="572.3" y="662.1" font-size="15" text-anchor="start" fill="#b0a32c" >Midline</text>
<circle cx="564.5" cy="673.7" r="2.6" fill="#45d445"/>
<text x="572.3" y="678.7" font-size="15" text-anchor="start" fill="#45d445" >Mitotic</text>
<rect x="559.3" y="580.0" width="93.0" height="17.3" fill="none" stroke="#111" stroke-width="1.3"/>
<text x="52.8" y="774.8" font-size="15.3" text-anchor="start" fill="#000" >Proportion of Cell Types by Stage</text>
<line x1="103.5" y1="785.7" x2="103.5" y2="923.2" stroke="#222" stroke-width="1.3"/>
<line x1="102.9" y1="922.4" x2="269.8" y2="922.4" stroke="#222" stroke-width="1.3"/>
<rect x="110.40" y="788.9" width="25.45" height="23.9" fill="#ee6d6b"/>
<rect x="135.80" y="788.9" width="13.81" height="23.9" fill="#6b9cf7"/>
<rect x="149.56" y="788.9" width="14.87" height="23.9" fill="#f35ef3"/>
<rect x="164.38" y="788.9" width="15.47" height="23.9" fill="#5dd3c8"/>
<rect x="179.80" y="788.9" width="28.78" height="23.9" fill="#b0a32c"/>
<rect x="208.53" y="788.9" width="53.12" height="23.9" fill="#45d445"/>
<text x="100.3" y="805.6" font-size="15.2" text-anchor="end" fill="#000" >E12.5</text>
<rect x="110.40" y="815.4" width="20.46" height="23.9" fill="#ee6d6b"/>
<rect x="130.81" y="815.4" width="13.20" height="23.9" fill="#6b9cf7"/>
<rect x="143.97" y="815.4" width="18.35" height="23.9" fill="#f35ef3"/>
<rect x="162.26" y="815.4" width="17.59" height="23.9" fill="#5dd3c8"/>
<rect x="179.80" y="815.4" width="30.29" height="23.9" fill="#b0a32c"/>
<rect x="210.04" y="815.4" width="51.61" height="23.9" fill="#45d445"/>
<text x="100.3" y="832.1" font-size="15.2" text-anchor="end" fill="#000" >E13.5</text>
<rect x="110.40" y="842.0" width="11.54" height="23.9" fill="#ee6d6b"/>
<rect x="121.89" y="842.0" width="25.30" height="23.9" fill="#6b9cf7"/>
<rect x="147.14" y="842.0" width="21.37" height="23.9" fill="#f35ef3"/>
<rect x="168.46" y="842.0" width="13.51" height="23.9" fill="#5dd3c8"/>
<rect x="181.92" y="842.0" width="40.87" height="23.9" fill="#b0a32c"/>
<rect x="222.74" y="842.0" width="38.91" height="23.9" fill="#45d445"/>
<text x="100.3" y="859.5" font-size="15.2" text-anchor="end" fill="#000" >E14.5</text>
<rect x="110.40" y="868.5" width="12.30" height="23.9" fill="#ee6d6b"/>
<rect x="122.65" y="868.5" width="20.46" height="23.9" fill="#6b9cf7"/>
<rect x="143.06" y="868.5" width="25.75" height="23.9" fill="#f35ef3"/>
<rect x="168.76" y="868.5" width="16.53" height="23.9" fill="#5dd3c8"/>
<rect x="185.24" y="868.5" width="46.17" height="23.9" fill="#b0a32c"/>
<rect x="231.36" y="868.5" width="30.29" height="23.9" fill="#45d445"/>
<text x="100.3" y="885.7" font-size="15.2" text-anchor="end" fill="#000" >E15.5</text>
<rect x="110.40" y="895.1" width="15.62" height="23.9" fill="#ee6d6b"/>
<rect x="125.97" y="895.1" width="15.47" height="23.9" fill="#6b9cf7"/>
<rect x="141.40" y="895.1" width="31.20" height="23.9" fill="#f35ef3"/>
<rect x="172.54" y="895.1" width="27.87" height="23.9" fill="#5dd3c8"/>
<rect x="200.36" y="895.1" width="37.55" height="23.9" fill="#b0a32c"/>
<rect x="237.86" y="895.1" width="23.79" height="23.9" fill="#45d445"/>
<text x="100.3" y="911.8" font-size="15.2" text-anchor="end" fill="#000" >E18.5</text>
<text x="110.7" y="938.3" font-size="14.4" text-anchor="middle" fill="#000" >0</text>
<text x="148.5" y="938.3" font-size="14.4" text-anchor="middle" fill="#000" >25</text>
<text x="186.3" y="938.3" font-size="14.4" text-anchor="middle" fill="#000" >50</text>
<text x="224.1" y="938.3" font-size="14.4" text-anchor="middle" fill="#000" >75</text>
<text x="261.9" y="938.3" font-size="14.4" text-anchor="middle" fill="#000" >100</text>
<text x="175.0" y="955.1" font-size="15" text-anchor="middle" fill="#000" >Percentage</text>
<text transform="translate(47.7,854.8) rotate(-90) scale(0.91,1)" font-size="16.5" text-anchor="middle">Stage</text>
<rect x="320.9" y="802.2" width="15.2" height="15.4" fill="#ee6d6b"/>
<text x="340.3" y="815.2" font-size="15" text-anchor="start" fill="#000" >Progenitors</text>
<rect x="320.9" y="820.0" width="15.2" height="15.4" fill="#6b9cf7"/>
<text x="340.3" y="833.0" font-size="15" text-anchor="start" fill="#000" >Osteogenic</text>
<rect x="320.9" y="837.8" width="15.2" height="15.4" fill="#f35ef3"/>
<text x="340.3" y="850.8" font-size="15" text-anchor="start" fill="#000" >Odontogenic</text>
<rect x="320.9" y="855.5" width="15.2" height="15.4" fill="#5dd3c8"/>
<text x="340.3" y="868.5" font-size="15" text-anchor="start" fill="#000" >Perimysial</text>
<rect x="320.9" y="873.3" width="15.2" height="15.4" fill="#b0a32c"/>
<text x="340.3" y="886.3" font-size="15" text-anchor="start" fill="#000" >Midline</text>
<rect x="320.9" y="891.0" width="15.2" height="15.4" fill="#45d445"/>
<text x="340.3" y="904.0" font-size="15" text-anchor="start" fill="#000" >Mitotic</text>
<rect x="318.5" y="798.7" width="102.0" height="21.7" fill="none" stroke="#111" stroke-width="1.3"/>
<line x1="588.1" y1="789.4" x2="588.1" y2="939.5" stroke="#222" stroke-width="1.3"/>
<line x1="587.5" y1="938.9" x2="667.6" y2="938.9" stroke="#222" stroke-width="1.3"/>
<line x1="628.2" y1="938.9" x2="628.2" y2="942.3" stroke="#222" stroke-width="1.1"/>
<line x1="584.6" y1="804.3" x2="588.1" y2="804.3" stroke="#222" stroke-width="1.1"/>
<text x="580.0" y="808.2" font-size="15" text-anchor="end" fill="#000" >Progenitors</text>
<circle cx="628.2" cy="804.3" r="5.6" fill="#2410f8"/>
<line x1="584.6" y1="828.2" x2="588.1" y2="828.2" stroke="#222" stroke-width="1.1"/>
<text x="580.0" y="832.8" font-size="15" text-anchor="end" fill="#000" >Mitotic</text>
<circle cx="628.2" cy="828.2" r="2.6" fill="#9670ea"/>
<line x1="584.6" y1="852.2" x2="588.1" y2="852.2" stroke="#222" stroke-width="1.1"/>
<text x="580.0" y="855.9" font-size="15" text-anchor="end" fill="#000" >Midline</text>
<circle cx="628.2" cy="852.2" r="2.0" fill="#9d79e8"/>
<line x1="584.6" y1="876.1" x2="588.1" y2="876.1" stroke="#222" stroke-width="1.1"/>
<text x="580.0" y="880.4" font-size="15" text-anchor="end" fill="#000" >Perimysial</text>
<circle cx="628.2" cy="876.1" r="0.4" fill="#b69de1"/>
<line x1="584.6" y1="900.1" x2="588.1" y2="900.1" stroke="#222" stroke-width="1.1"/>
<text x="580.0" y="903.4" font-size="15" text-anchor="end" fill="#000" >Odontogenic</text>
<circle cx="628.2" cy="900.1" r="0.4" fill="#b69de1"/>
<line x1="584.6" y1="924.0" x2="588.1" y2="924.0" stroke="#222" stroke-width="1.1"/>
<text x="580.0" y="927.2" font-size="15" text-anchor="end" fill="#000" >Osteogenic</text>
<circle cx="628.2" cy="924.0" r="2.3" fill="#b094e3"/>
<text x="630.0" y="955.9" font-size="15" text-anchor="middle" fill="#000" >Sox9</text>
</svg>
</body></html>
